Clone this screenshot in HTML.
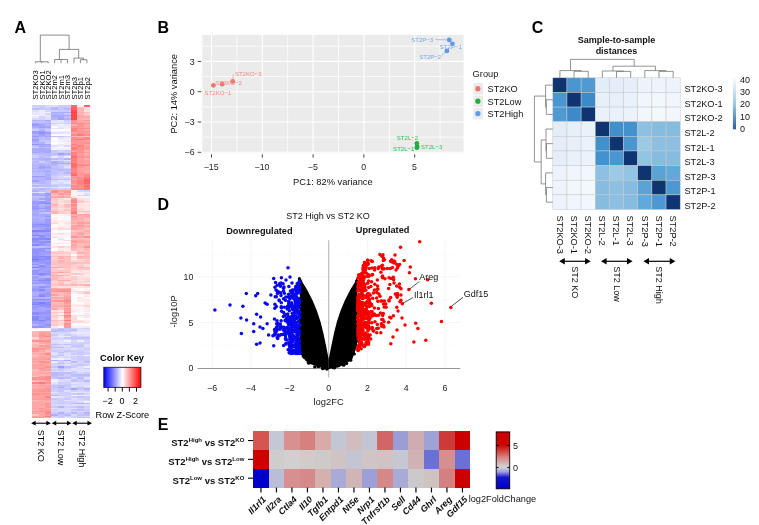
<!DOCTYPE html>
<html><head><meta charset="utf-8"><style>
html,body{margin:0;padding:0;background:#fff;width:759px;height:525px;overflow:hidden}
svg{display:block;font-family:"Liberation Sans", sans-serif;will-change:transform}
</style></head><body>
<svg width="759" height="525" viewBox="0 0 759 525">
<rect width="759" height="525" fill="#fff"/>
<text x="14.4" y="32.8" font-size="16" font-weight="bold" fill="#000">A</text>
<text x="157.6" y="33.3" font-size="16" font-weight="bold" fill="#000">B</text>
<text x="531.8" y="33.4" font-size="16" font-weight="bold" fill="#000">C</text>
<text x="157.6" y="210.4" font-size="16" font-weight="bold" fill="#000">D</text>
<text x="157.8" y="429.8" font-size="16" font-weight="bold" fill="#000">E</text>
<g filter="url(#blurA)" shape-rendering="crispEdges">
<rect x="32.1" y="105.1" width="6.49" height="1.65" fill="#d2d2ff"/>
<rect x="38.54" y="105.1" width="6.49" height="1.65" fill="#cdcdff"/>
<rect x="44.99" y="105.1" width="6.49" height="1.65" fill="#d7d7ff"/>
<rect x="51.43" y="105.1" width="6.49" height="1.65" fill="#dedeff"/>
<rect x="57.88" y="105.1" width="6.49" height="1.65" fill="#ccccff"/>
<rect x="64.32" y="105.1" width="6.49" height="1.65" fill="#cbcbff"/>
<rect x="70.77" y="105.1" width="6.49" height="1.65" fill="#ff6b6b"/>
<rect x="77.21" y="105.1" width="6.49" height="1.65" fill="#ffefef"/>
<rect x="83.66" y="105.1" width="6.49" height="1.65" fill="#ff6464"/>
<rect x="32.1" y="106.7" width="6.49" height="1.65" fill="#d5d5ff"/>
<rect x="38.54" y="106.7" width="6.49" height="1.65" fill="#c7c7ff"/>
<rect x="44.99" y="106.7" width="6.49" height="1.65" fill="#d3d3ff"/>
<rect x="51.43" y="106.7" width="6.49" height="1.65" fill="#b9b9ff"/>
<rect x="57.88" y="106.7" width="6.49" height="1.65" fill="#c8c8ff"/>
<rect x="64.32" y="106.7" width="6.49" height="1.65" fill="#c5c5ff"/>
<rect x="70.77" y="106.7" width="6.49" height="1.65" fill="#ff6161"/>
<rect x="77.21" y="106.7" width="6.49" height="1.65" fill="#ffc4c4"/>
<rect x="83.66" y="106.7" width="6.49" height="1.65" fill="#ffdddd"/>
<rect x="32.1" y="108.3" width="6.49" height="1.65" fill="#bdbdff"/>
<rect x="38.54" y="108.3" width="6.49" height="1.65" fill="#c7c7ff"/>
<rect x="44.99" y="108.3" width="6.49" height="1.65" fill="#c9c9ff"/>
<rect x="51.43" y="108.3" width="6.49" height="1.65" fill="#b3b3ff"/>
<rect x="57.88" y="108.3" width="6.49" height="1.65" fill="#c5c5ff"/>
<rect x="64.32" y="108.3" width="6.49" height="1.65" fill="#b9b9ff"/>
<rect x="70.77" y="108.3" width="6.49" height="1.65" fill="#ff5e5e"/>
<rect x="77.21" y="108.3" width="6.49" height="1.65" fill="#ffb7b7"/>
<rect x="83.66" y="108.3" width="6.49" height="1.65" fill="#ffdbdb"/>
<rect x="32.1" y="109.9" width="6.49" height="1.65" fill="#e0e0ff"/>
<rect x="38.54" y="109.9" width="6.49" height="1.65" fill="#ececff"/>
<rect x="44.99" y="109.9" width="6.49" height="1.65" fill="#d6d6ff"/>
<rect x="51.43" y="109.9" width="6.49" height="1.65" fill="#d1d1ff"/>
<rect x="57.88" y="109.9" width="6.49" height="1.65" fill="#cacaff"/>
<rect x="64.32" y="109.9" width="6.49" height="1.65" fill="#c9c9ff"/>
<rect x="70.77" y="109.9" width="6.49" height="1.65" fill="#ff4b4b"/>
<rect x="77.21" y="109.9" width="6.49" height="1.65" fill="#ffb8b8"/>
<rect x="83.66" y="109.9" width="6.49" height="1.65" fill="#ffe1e1"/>
<rect x="32.1" y="111.5" width="6.49" height="1.65" fill="#eaeaff"/>
<rect x="38.54" y="111.5" width="6.49" height="1.65" fill="#ebebff"/>
<rect x="44.99" y="111.5" width="6.49" height="1.65" fill="#f3f3ff"/>
<rect x="51.43" y="111.5" width="6.49" height="1.65" fill="#a9a9ff"/>
<rect x="57.88" y="111.5" width="6.49" height="1.65" fill="#adadff"/>
<rect x="64.32" y="111.5" width="6.49" height="1.65" fill="#adadff"/>
<rect x="70.77" y="111.5" width="6.49" height="1.65" fill="#ff3e3e"/>
<rect x="77.21" y="111.5" width="6.49" height="1.65" fill="#ffadad"/>
<rect x="83.66" y="111.5" width="6.49" height="1.65" fill="#ffbdbd"/>
<rect x="32.1" y="113.1" width="6.49" height="1.65" fill="#e5e5ff"/>
<rect x="38.54" y="113.1" width="6.49" height="1.65" fill="#ededff"/>
<rect x="44.99" y="113.1" width="6.49" height="1.65" fill="#d3d3ff"/>
<rect x="51.43" y="113.1" width="6.49" height="1.65" fill="#b7b7ff"/>
<rect x="57.88" y="113.1" width="6.49" height="1.65" fill="#b6b6ff"/>
<rect x="64.32" y="113.1" width="6.49" height="1.65" fill="#cacaff"/>
<rect x="70.77" y="113.1" width="6.49" height="1.65" fill="#ff4e4e"/>
<rect x="77.21" y="113.1" width="6.49" height="1.65" fill="#ffb9b9"/>
<rect x="83.66" y="113.1" width="6.49" height="1.65" fill="#ffd0d0"/>
<rect x="32.1" y="114.7" width="6.49" height="1.65" fill="#f6f6ff"/>
<rect x="38.54" y="114.7" width="6.49" height="1.65" fill="#ebebff"/>
<rect x="44.99" y="114.7" width="6.49" height="1.65" fill="#eaeaff"/>
<rect x="51.43" y="114.7" width="6.49" height="1.65" fill="#a1a1ff"/>
<rect x="57.88" y="114.7" width="6.49" height="1.65" fill="#a7a7ff"/>
<rect x="64.32" y="114.7" width="6.49" height="1.65" fill="#a9a9ff"/>
<rect x="70.77" y="114.7" width="6.49" height="1.65" fill="#ff4040"/>
<rect x="77.21" y="114.7" width="6.49" height="1.65" fill="#ffa6a6"/>
<rect x="83.66" y="114.7" width="6.49" height="1.65" fill="#ffc3c3"/>
<rect x="32.1" y="116.3" width="6.49" height="1.65" fill="#ebebff"/>
<rect x="38.54" y="116.3" width="6.49" height="1.65" fill="#d2d2ff"/>
<rect x="44.99" y="116.3" width="6.49" height="1.65" fill="#e2e2ff"/>
<rect x="51.43" y="116.3" width="6.49" height="1.65" fill="#aeaeff"/>
<rect x="57.88" y="116.3" width="6.49" height="1.65" fill="#a7a7ff"/>
<rect x="64.32" y="116.3" width="6.49" height="1.65" fill="#bebeff"/>
<rect x="70.77" y="116.3" width="6.49" height="1.65" fill="#ff4c4c"/>
<rect x="77.21" y="116.3" width="6.49" height="1.65" fill="#ffa3a3"/>
<rect x="83.66" y="116.3" width="6.49" height="1.65" fill="#ffa5a5"/>
<rect x="32.1" y="117.9" width="6.49" height="1.65" fill="#d9d9ff"/>
<rect x="38.54" y="117.9" width="6.49" height="1.65" fill="#d2d2ff"/>
<rect x="44.99" y="117.9" width="6.49" height="1.65" fill="#dbdbff"/>
<rect x="51.43" y="117.9" width="6.49" height="1.65" fill="#b4b4ff"/>
<rect x="57.88" y="117.9" width="6.49" height="1.65" fill="#a0a0ff"/>
<rect x="64.32" y="117.9" width="6.49" height="1.65" fill="#b0b0ff"/>
<rect x="70.77" y="117.9" width="6.49" height="1.65" fill="#ff4646"/>
<rect x="77.21" y="117.9" width="6.49" height="1.65" fill="#ffb2b2"/>
<rect x="83.66" y="117.9" width="6.49" height="1.65" fill="#ffbbbb"/>
<rect x="32.1" y="119.5" width="6.49" height="1.65" fill="#b0b0ff"/>
<rect x="38.54" y="119.5" width="6.49" height="1.65" fill="#b5b5ff"/>
<rect x="44.99" y="119.5" width="6.49" height="1.65" fill="#a9a9ff"/>
<rect x="51.43" y="119.5" width="6.49" height="1.65" fill="#dcdcff"/>
<rect x="57.88" y="119.5" width="6.49" height="1.65" fill="#eaeaff"/>
<rect x="64.32" y="119.5" width="6.49" height="1.65" fill="#cdcdff"/>
<rect x="70.77" y="119.5" width="6.49" height="1.65" fill="#ff8a8a"/>
<rect x="77.21" y="119.5" width="6.49" height="1.65" fill="#ffa3a3"/>
<rect x="83.66" y="119.5" width="6.49" height="1.65" fill="#ff9696"/>
<rect x="32.1" y="121.1" width="6.49" height="1.65" fill="#c0c0ff"/>
<rect x="38.54" y="121.1" width="6.49" height="1.65" fill="#c2c2ff"/>
<rect x="44.99" y="121.1" width="6.49" height="1.65" fill="#babaff"/>
<rect x="51.43" y="121.1" width="6.49" height="1.65" fill="#e3e3ff"/>
<rect x="57.88" y="121.1" width="6.49" height="1.65" fill="#e4e4ff"/>
<rect x="64.32" y="121.1" width="6.49" height="1.65" fill="#d8d8ff"/>
<rect x="70.77" y="121.1" width="6.49" height="1.65" fill="#ff9797"/>
<rect x="77.21" y="121.1" width="6.49" height="1.65" fill="#ffa7a7"/>
<rect x="83.66" y="121.1" width="6.49" height="1.65" fill="#ffadad"/>
<rect x="32.1" y="122.7" width="6.49" height="1.65" fill="#a5a5ff"/>
<rect x="38.54" y="122.7" width="6.49" height="1.65" fill="#b0b0ff"/>
<rect x="44.99" y="122.7" width="6.49" height="1.65" fill="#adadff"/>
<rect x="51.43" y="122.7" width="6.49" height="1.65" fill="#d2d2ff"/>
<rect x="57.88" y="122.7" width="6.49" height="1.65" fill="#d5d5ff"/>
<rect x="64.32" y="122.7" width="6.49" height="1.65" fill="#cfcfff"/>
<rect x="70.77" y="122.7" width="6.49" height="1.65" fill="#ff8686"/>
<rect x="77.21" y="122.7" width="6.49" height="1.65" fill="#ff8a8a"/>
<rect x="83.66" y="122.7" width="6.49" height="1.65" fill="#ff9494"/>
<rect x="32.1" y="124.3" width="6.49" height="1.65" fill="#9797ff"/>
<rect x="38.54" y="124.3" width="6.49" height="1.65" fill="#a5a5ff"/>
<rect x="44.99" y="124.3" width="6.49" height="1.65" fill="#b6b6ff"/>
<rect x="51.43" y="124.3" width="6.49" height="1.65" fill="#e4e4ff"/>
<rect x="57.88" y="124.3" width="6.49" height="1.65" fill="#f0f0ff"/>
<rect x="64.32" y="124.3" width="6.49" height="1.65" fill="#e7e7ff"/>
<rect x="70.77" y="124.3" width="6.49" height="1.65" fill="#ffadad"/>
<rect x="77.21" y="124.3" width="6.49" height="1.65" fill="#ff9595"/>
<rect x="83.66" y="124.3" width="6.49" height="1.65" fill="#ffa7a7"/>
<rect x="32.1" y="125.9" width="6.49" height="1.65" fill="#a9a9ff"/>
<rect x="38.54" y="125.9" width="6.49" height="1.65" fill="#9f9fff"/>
<rect x="44.99" y="125.9" width="6.49" height="1.65" fill="#a5a5ff"/>
<rect x="51.43" y="125.9" width="6.49" height="1.65" fill="#fbfbff"/>
<rect x="57.88" y="125.9" width="6.49" height="1.65" fill="#e9e9ff"/>
<rect x="64.32" y="125.9" width="6.49" height="1.65" fill="#ededff"/>
<rect x="70.77" y="125.9" width="6.49" height="1.65" fill="#ff9393"/>
<rect x="77.21" y="125.9" width="6.49" height="1.65" fill="#ff9797"/>
<rect x="83.66" y="125.9" width="6.49" height="1.65" fill="#ffa3a3"/>
<rect x="32.1" y="127.5" width="6.49" height="1.65" fill="#bdbdff"/>
<rect x="38.54" y="127.5" width="6.49" height="1.65" fill="#b8b8ff"/>
<rect x="44.99" y="127.5" width="6.49" height="1.65" fill="#bcbcff"/>
<rect x="51.43" y="127.5" width="6.49" height="1.65" fill="#e6e6ff"/>
<rect x="57.88" y="127.5" width="6.49" height="1.65" fill="#dedeff"/>
<rect x="64.32" y="127.5" width="6.49" height="1.65" fill="#f0f0ff"/>
<rect x="70.77" y="127.5" width="6.49" height="1.65" fill="#ff8181"/>
<rect x="77.21" y="127.5" width="6.49" height="1.65" fill="#ff8c8c"/>
<rect x="83.66" y="127.5" width="6.49" height="1.65" fill="#ff9090"/>
<rect x="32.1" y="129.1" width="6.49" height="1.65" fill="#ccccff"/>
<rect x="38.54" y="129.1" width="6.49" height="1.65" fill="#b1b1ff"/>
<rect x="44.99" y="129.1" width="6.49" height="1.65" fill="#ccccff"/>
<rect x="51.43" y="129.1" width="6.49" height="1.65" fill="#fbfbff"/>
<rect x="57.88" y="129.1" width="6.49" height="1.65" fill="#ffffff"/>
<rect x="64.32" y="129.1" width="6.49" height="1.65" fill="#fff9f9"/>
<rect x="70.77" y="129.1" width="6.49" height="1.65" fill="#ff8080"/>
<rect x="77.21" y="129.1" width="6.49" height="1.65" fill="#ff9a9a"/>
<rect x="83.66" y="129.1" width="6.49" height="1.65" fill="#ffaaaa"/>
<rect x="32.1" y="130.7" width="6.49" height="1.65" fill="#9b9bff"/>
<rect x="38.54" y="130.7" width="6.49" height="1.65" fill="#9797ff"/>
<rect x="44.99" y="130.7" width="6.49" height="1.65" fill="#b5b5ff"/>
<rect x="51.43" y="130.7" width="6.49" height="1.65" fill="#eeeeff"/>
<rect x="57.88" y="130.7" width="6.49" height="1.65" fill="#ebebff"/>
<rect x="64.32" y="130.7" width="6.49" height="1.65" fill="#eaeaff"/>
<rect x="70.77" y="130.7" width="6.49" height="1.65" fill="#ff8a8a"/>
<rect x="77.21" y="130.7" width="6.49" height="1.65" fill="#ff9090"/>
<rect x="83.66" y="130.7" width="6.49" height="1.65" fill="#ff8e8e"/>
<rect x="32.1" y="132.3" width="6.49" height="1.65" fill="#a0a0ff"/>
<rect x="38.54" y="132.3" width="6.49" height="1.65" fill="#9292ff"/>
<rect x="44.99" y="132.3" width="6.49" height="1.65" fill="#9c9cff"/>
<rect x="51.43" y="132.3" width="6.49" height="1.65" fill="#dfdfff"/>
<rect x="57.88" y="132.3" width="6.49" height="1.65" fill="#e0e0ff"/>
<rect x="64.32" y="132.3" width="6.49" height="1.65" fill="#e7e7ff"/>
<rect x="70.77" y="132.3" width="6.49" height="1.65" fill="#ff9c9c"/>
<rect x="77.21" y="132.3" width="6.49" height="1.65" fill="#ff9191"/>
<rect x="83.66" y="132.3" width="6.49" height="1.65" fill="#ff9c9c"/>
<rect x="32.1" y="133.9" width="6.49" height="1.65" fill="#aeaeff"/>
<rect x="38.54" y="133.9" width="6.49" height="1.65" fill="#a0a0ff"/>
<rect x="44.99" y="133.9" width="6.49" height="1.65" fill="#b0b0ff"/>
<rect x="51.43" y="133.9" width="6.49" height="1.65" fill="#fffafa"/>
<rect x="57.88" y="133.9" width="6.49" height="1.65" fill="#fcfcff"/>
<rect x="64.32" y="133.9" width="6.49" height="1.65" fill="#f9f9ff"/>
<rect x="70.77" y="133.9" width="6.49" height="1.65" fill="#ff8787"/>
<rect x="77.21" y="133.9" width="6.49" height="1.65" fill="#ff7979"/>
<rect x="83.66" y="133.9" width="6.49" height="1.65" fill="#ff8f8f"/>
<rect x="32.1" y="135.5" width="6.49" height="1.65" fill="#9999ff"/>
<rect x="38.54" y="135.5" width="6.49" height="1.65" fill="#ababff"/>
<rect x="44.99" y="135.5" width="6.49" height="1.65" fill="#a5a5ff"/>
<rect x="51.43" y="135.5" width="6.49" height="1.65" fill="#bfbfff"/>
<rect x="57.88" y="135.5" width="6.49" height="1.65" fill="#c1c1ff"/>
<rect x="64.32" y="135.5" width="6.49" height="1.65" fill="#d1d1ff"/>
<rect x="70.77" y="135.5" width="6.49" height="1.65" fill="#ffb8b8"/>
<rect x="77.21" y="135.5" width="6.49" height="1.65" fill="#ffb9b9"/>
<rect x="83.66" y="135.5" width="6.49" height="1.65" fill="#ffc5c5"/>
<rect x="32.1" y="137.1" width="6.49" height="1.65" fill="#afafff"/>
<rect x="38.54" y="137.1" width="6.49" height="1.65" fill="#bebeff"/>
<rect x="44.99" y="137.1" width="6.49" height="1.65" fill="#b9b9ff"/>
<rect x="51.43" y="137.1" width="6.49" height="1.65" fill="#fafaff"/>
<rect x="57.88" y="137.1" width="6.49" height="1.65" fill="#e3e3ff"/>
<rect x="64.32" y="137.1" width="6.49" height="1.65" fill="#e9e9ff"/>
<rect x="70.77" y="137.1" width="6.49" height="1.65" fill="#ff8c8c"/>
<rect x="77.21" y="137.1" width="6.49" height="1.65" fill="#ff9999"/>
<rect x="83.66" y="137.1" width="6.49" height="1.65" fill="#ff8686"/>
<rect x="32.1" y="138.7" width="6.49" height="1.65" fill="#9b9bff"/>
<rect x="38.54" y="138.7" width="6.49" height="1.65" fill="#b7b7ff"/>
<rect x="44.99" y="138.7" width="6.49" height="1.65" fill="#babaff"/>
<rect x="51.43" y="138.7" width="6.49" height="1.65" fill="#fafaff"/>
<rect x="57.88" y="138.7" width="6.49" height="1.65" fill="#eeeeff"/>
<rect x="64.32" y="138.7" width="6.49" height="1.65" fill="#f2f2ff"/>
<rect x="70.77" y="138.7" width="6.49" height="1.65" fill="#ff8484"/>
<rect x="77.21" y="138.7" width="6.49" height="1.65" fill="#ff7777"/>
<rect x="83.66" y="138.7" width="6.49" height="1.65" fill="#ff8a8a"/>
<rect x="32.1" y="140.3" width="6.49" height="1.65" fill="#a5a5ff"/>
<rect x="38.54" y="140.3" width="6.49" height="1.65" fill="#c6c6ff"/>
<rect x="44.99" y="140.3" width="6.49" height="1.65" fill="#c7c7ff"/>
<rect x="51.43" y="140.3" width="6.49" height="1.65" fill="#f8f8ff"/>
<rect x="57.88" y="140.3" width="6.49" height="1.65" fill="#f3f3ff"/>
<rect x="64.32" y="140.3" width="6.49" height="1.65" fill="#e9e9ff"/>
<rect x="70.77" y="140.3" width="6.49" height="1.65" fill="#ff9090"/>
<rect x="77.21" y="140.3" width="6.49" height="1.65" fill="#ff9999"/>
<rect x="83.66" y="140.3" width="6.49" height="1.65" fill="#ff9f9f"/>
<rect x="32.1" y="141.9" width="6.49" height="1.65" fill="#b2b2ff"/>
<rect x="38.54" y="141.9" width="6.49" height="1.65" fill="#b1b1ff"/>
<rect x="44.99" y="141.9" width="6.49" height="1.65" fill="#cdcdff"/>
<rect x="51.43" y="141.9" width="6.49" height="1.65" fill="#ffffff"/>
<rect x="57.88" y="141.9" width="6.49" height="1.65" fill="#f8f8ff"/>
<rect x="64.32" y="141.9" width="6.49" height="1.65" fill="#f0f0ff"/>
<rect x="70.77" y="141.9" width="6.49" height="1.65" fill="#ff9999"/>
<rect x="77.21" y="141.9" width="6.49" height="1.65" fill="#ff9494"/>
<rect x="83.66" y="141.9" width="6.49" height="1.65" fill="#ff9191"/>
<rect x="32.1" y="143.5" width="6.49" height="1.65" fill="#9494ff"/>
<rect x="38.54" y="143.5" width="6.49" height="1.65" fill="#a2a2ff"/>
<rect x="44.99" y="143.5" width="6.49" height="1.65" fill="#a2a2ff"/>
<rect x="51.43" y="143.5" width="6.49" height="1.65" fill="#f9f9ff"/>
<rect x="57.88" y="143.5" width="6.49" height="1.65" fill="#e6e6ff"/>
<rect x="64.32" y="143.5" width="6.49" height="1.65" fill="#efefff"/>
<rect x="70.77" y="143.5" width="6.49" height="1.65" fill="#ff8080"/>
<rect x="77.21" y="143.5" width="6.49" height="1.65" fill="#ff9797"/>
<rect x="83.66" y="143.5" width="6.49" height="1.65" fill="#ffa0a0"/>
<rect x="32.1" y="145.1" width="6.49" height="1.65" fill="#bdbdff"/>
<rect x="38.54" y="145.1" width="6.49" height="1.65" fill="#a7a7ff"/>
<rect x="44.99" y="145.1" width="6.49" height="1.65" fill="#aeaeff"/>
<rect x="51.43" y="145.1" width="6.49" height="1.65" fill="#e1e1ff"/>
<rect x="57.88" y="145.1" width="6.49" height="1.65" fill="#ececff"/>
<rect x="64.32" y="145.1" width="6.49" height="1.65" fill="#d9d9ff"/>
<rect x="70.77" y="145.1" width="6.49" height="1.65" fill="#ff9494"/>
<rect x="77.21" y="145.1" width="6.49" height="1.65" fill="#ff8181"/>
<rect x="83.66" y="145.1" width="6.49" height="1.65" fill="#ff9c9c"/>
<rect x="32.1" y="146.7" width="6.49" height="1.65" fill="#d0d0ff"/>
<rect x="38.54" y="146.7" width="6.49" height="1.65" fill="#bbbbff"/>
<rect x="44.99" y="146.7" width="6.49" height="1.65" fill="#bebeff"/>
<rect x="51.43" y="146.7" width="6.49" height="1.65" fill="#efefff"/>
<rect x="57.88" y="146.7" width="6.49" height="1.65" fill="#fbfbff"/>
<rect x="64.32" y="146.7" width="6.49" height="1.65" fill="#fffafa"/>
<rect x="70.77" y="146.7" width="6.49" height="1.65" fill="#ff7a7a"/>
<rect x="77.21" y="146.7" width="6.49" height="1.65" fill="#ff9191"/>
<rect x="83.66" y="146.7" width="6.49" height="1.65" fill="#ff9696"/>
<rect x="32.1" y="148.3" width="6.49" height="1.65" fill="#ababff"/>
<rect x="38.54" y="148.3" width="6.49" height="1.65" fill="#a6a6ff"/>
<rect x="44.99" y="148.3" width="6.49" height="1.65" fill="#afafff"/>
<rect x="51.43" y="148.3" width="6.49" height="1.65" fill="#f1f1ff"/>
<rect x="57.88" y="148.3" width="6.49" height="1.65" fill="#ececff"/>
<rect x="64.32" y="148.3" width="6.49" height="1.65" fill="#eeeeff"/>
<rect x="70.77" y="148.3" width="6.49" height="1.65" fill="#ff7d7d"/>
<rect x="77.21" y="148.3" width="6.49" height="1.65" fill="#ff8d8d"/>
<rect x="83.66" y="148.3" width="6.49" height="1.65" fill="#ff9999"/>
<rect x="32.1" y="149.9" width="6.49" height="1.65" fill="#ababff"/>
<rect x="38.54" y="149.9" width="6.49" height="1.65" fill="#aaaaff"/>
<rect x="44.99" y="149.9" width="6.49" height="1.65" fill="#a8a8ff"/>
<rect x="51.43" y="149.9" width="6.49" height="1.65" fill="#c7c7ff"/>
<rect x="57.88" y="149.9" width="6.49" height="1.65" fill="#d2d2ff"/>
<rect x="64.32" y="149.9" width="6.49" height="1.65" fill="#cbcbff"/>
<rect x="70.77" y="149.9" width="6.49" height="1.65" fill="#ff9f9f"/>
<rect x="77.21" y="149.9" width="6.49" height="1.65" fill="#ff9393"/>
<rect x="83.66" y="149.9" width="6.49" height="1.65" fill="#ffaeae"/>
<rect x="32.1" y="151.5" width="6.49" height="1.65" fill="#a3a3ff"/>
<rect x="38.54" y="151.5" width="6.49" height="1.65" fill="#afafff"/>
<rect x="44.99" y="151.5" width="6.49" height="1.65" fill="#a3a3ff"/>
<rect x="51.43" y="151.5" width="6.49" height="1.65" fill="#c8c8ff"/>
<rect x="57.88" y="151.5" width="6.49" height="1.65" fill="#c8c8ff"/>
<rect x="64.32" y="151.5" width="6.49" height="1.65" fill="#ccccff"/>
<rect x="70.77" y="151.5" width="6.49" height="1.65" fill="#ff7f7f"/>
<rect x="77.21" y="151.5" width="6.49" height="1.65" fill="#ff8f8f"/>
<rect x="83.66" y="151.5" width="6.49" height="1.65" fill="#ffa0a0"/>
<rect x="32.1" y="153.1" width="6.49" height="1.65" fill="#c0c0ff"/>
<rect x="38.54" y="153.1" width="6.49" height="1.65" fill="#b7b7ff"/>
<rect x="44.99" y="153.1" width="6.49" height="1.65" fill="#bbbbff"/>
<rect x="51.43" y="153.1" width="6.49" height="1.65" fill="#bdbdff"/>
<rect x="57.88" y="153.1" width="6.49" height="1.65" fill="#a3a3ff"/>
<rect x="64.32" y="153.1" width="6.49" height="1.65" fill="#b0b0ff"/>
<rect x="70.77" y="153.1" width="6.49" height="1.65" fill="#ff8383"/>
<rect x="77.21" y="153.1" width="6.49" height="1.65" fill="#ff9b9b"/>
<rect x="83.66" y="153.1" width="6.49" height="1.65" fill="#ffadad"/>
<rect x="32.1" y="154.7" width="6.49" height="1.65" fill="#cdcdff"/>
<rect x="38.54" y="154.7" width="6.49" height="1.65" fill="#cacaff"/>
<rect x="44.99" y="154.7" width="6.49" height="1.65" fill="#b3b3ff"/>
<rect x="51.43" y="154.7" width="6.49" height="1.65" fill="#c9c9ff"/>
<rect x="57.88" y="154.7" width="6.49" height="1.65" fill="#c2c2ff"/>
<rect x="64.32" y="154.7" width="6.49" height="1.65" fill="#cdcdff"/>
<rect x="70.77" y="154.7" width="6.49" height="1.65" fill="#ff7c7c"/>
<rect x="77.21" y="154.7" width="6.49" height="1.65" fill="#ff9595"/>
<rect x="83.66" y="154.7" width="6.49" height="1.65" fill="#ffa8a8"/>
<rect x="32.1" y="156.3" width="6.49" height="1.65" fill="#ccccff"/>
<rect x="38.54" y="156.3" width="6.49" height="1.65" fill="#babaff"/>
<rect x="44.99" y="156.3" width="6.49" height="1.65" fill="#c6c6ff"/>
<rect x="51.43" y="156.3" width="6.49" height="1.65" fill="#e9e9ff"/>
<rect x="57.88" y="156.3" width="6.49" height="1.65" fill="#d3d3ff"/>
<rect x="64.32" y="156.3" width="6.49" height="1.65" fill="#eeeeff"/>
<rect x="70.77" y="156.3" width="6.49" height="1.65" fill="#ff6a6a"/>
<rect x="77.21" y="156.3" width="6.49" height="1.65" fill="#ff9191"/>
<rect x="83.66" y="156.3" width="6.49" height="1.65" fill="#ff9797"/>
<rect x="32.1" y="157.9" width="6.49" height="1.65" fill="#b8b8ff"/>
<rect x="38.54" y="157.9" width="6.49" height="1.65" fill="#b1b1ff"/>
<rect x="44.99" y="157.9" width="6.49" height="1.65" fill="#aeaeff"/>
<rect x="51.43" y="157.9" width="6.49" height="1.65" fill="#babaff"/>
<rect x="57.88" y="157.9" width="6.49" height="1.65" fill="#c3c3ff"/>
<rect x="64.32" y="157.9" width="6.49" height="1.65" fill="#b0b0ff"/>
<rect x="70.77" y="157.9" width="6.49" height="1.65" fill="#ff7f7f"/>
<rect x="77.21" y="157.9" width="6.49" height="1.65" fill="#ff9f9f"/>
<rect x="83.66" y="157.9" width="6.49" height="1.65" fill="#ffadad"/>
<rect x="32.1" y="159.5" width="6.49" height="1.65" fill="#c1c1ff"/>
<rect x="38.54" y="159.5" width="6.49" height="1.65" fill="#bbbbff"/>
<rect x="44.99" y="159.5" width="6.49" height="1.65" fill="#b6b6ff"/>
<rect x="51.43" y="159.5" width="6.49" height="1.65" fill="#dbdbff"/>
<rect x="57.88" y="159.5" width="6.49" height="1.65" fill="#d4d4ff"/>
<rect x="64.32" y="159.5" width="6.49" height="1.65" fill="#e0e0ff"/>
<rect x="70.77" y="159.5" width="6.49" height="1.65" fill="#ff7878"/>
<rect x="77.21" y="159.5" width="6.49" height="1.65" fill="#ff9c9c"/>
<rect x="83.66" y="159.5" width="6.49" height="1.65" fill="#ff9d9d"/>
<rect x="32.1" y="161.1" width="6.49" height="1.65" fill="#b7b7ff"/>
<rect x="38.54" y="161.1" width="6.49" height="1.65" fill="#ceceff"/>
<rect x="44.99" y="161.1" width="6.49" height="1.65" fill="#bdbdff"/>
<rect x="51.43" y="161.1" width="6.49" height="1.65" fill="#a8a8ff"/>
<rect x="57.88" y="161.1" width="6.49" height="1.65" fill="#b9b9ff"/>
<rect x="64.32" y="161.1" width="6.49" height="1.65" fill="#c9c9ff"/>
<rect x="70.77" y="161.1" width="6.49" height="1.65" fill="#ff8383"/>
<rect x="77.21" y="161.1" width="6.49" height="1.65" fill="#ff9999"/>
<rect x="83.66" y="161.1" width="6.49" height="1.65" fill="#ffa0a0"/>
<rect x="32.1" y="162.7" width="6.49" height="1.65" fill="#c1c1ff"/>
<rect x="38.54" y="162.7" width="6.49" height="1.65" fill="#b4b4ff"/>
<rect x="44.99" y="162.7" width="6.49" height="1.65" fill="#c0c0ff"/>
<rect x="51.43" y="162.7" width="6.49" height="1.65" fill="#ababff"/>
<rect x="57.88" y="162.7" width="6.49" height="1.65" fill="#a8a8ff"/>
<rect x="64.32" y="162.7" width="6.49" height="1.65" fill="#a7a7ff"/>
<rect x="70.77" y="162.7" width="6.49" height="1.65" fill="#ff6f6f"/>
<rect x="77.21" y="162.7" width="6.49" height="1.65" fill="#ff9f9f"/>
<rect x="83.66" y="162.7" width="6.49" height="1.65" fill="#ffa4a4"/>
<rect x="32.1" y="164.3" width="6.49" height="1.65" fill="#b5b5ff"/>
<rect x="38.54" y="164.3" width="6.49" height="1.65" fill="#b0b0ff"/>
<rect x="44.99" y="164.3" width="6.49" height="1.65" fill="#b5b5ff"/>
<rect x="51.43" y="164.3" width="6.49" height="1.65" fill="#b6b6ff"/>
<rect x="57.88" y="164.3" width="6.49" height="1.65" fill="#cacaff"/>
<rect x="64.32" y="164.3" width="6.49" height="1.65" fill="#cfcfff"/>
<rect x="70.77" y="164.3" width="6.49" height="1.65" fill="#ff6b6b"/>
<rect x="77.21" y="164.3" width="6.49" height="1.65" fill="#ff8989"/>
<rect x="83.66" y="164.3" width="6.49" height="1.65" fill="#ff8a8a"/>
<rect x="32.1" y="165.9" width="6.49" height="1.65" fill="#b4b4ff"/>
<rect x="38.54" y="165.9" width="6.49" height="1.65" fill="#9f9fff"/>
<rect x="44.99" y="165.9" width="6.49" height="1.65" fill="#a7a7ff"/>
<rect x="51.43" y="165.9" width="6.49" height="1.65" fill="#c0c0ff"/>
<rect x="57.88" y="165.9" width="6.49" height="1.65" fill="#c5c5ff"/>
<rect x="64.32" y="165.9" width="6.49" height="1.65" fill="#e1e1ff"/>
<rect x="70.77" y="165.9" width="6.49" height="1.65" fill="#ff6f6f"/>
<rect x="77.21" y="165.9" width="6.49" height="1.65" fill="#ff9595"/>
<rect x="83.66" y="165.9" width="6.49" height="1.65" fill="#ffa5a5"/>
<rect x="32.1" y="167.5" width="6.49" height="1.65" fill="#afafff"/>
<rect x="38.54" y="167.5" width="6.49" height="1.65" fill="#a5a5ff"/>
<rect x="44.99" y="167.5" width="6.49" height="1.65" fill="#afafff"/>
<rect x="51.43" y="167.5" width="6.49" height="1.65" fill="#b7b7ff"/>
<rect x="57.88" y="167.5" width="6.49" height="1.65" fill="#c4c4ff"/>
<rect x="64.32" y="167.5" width="6.49" height="1.65" fill="#ceceff"/>
<rect x="70.77" y="167.5" width="6.49" height="1.65" fill="#ff8181"/>
<rect x="77.21" y="167.5" width="6.49" height="1.65" fill="#ffa1a1"/>
<rect x="83.66" y="167.5" width="6.49" height="1.65" fill="#ffa5a5"/>
<rect x="32.1" y="169.1" width="6.49" height="1.65" fill="#b9b9ff"/>
<rect x="38.54" y="169.1" width="6.49" height="1.65" fill="#b2b2ff"/>
<rect x="44.99" y="169.1" width="6.49" height="1.65" fill="#b6b6ff"/>
<rect x="51.43" y="169.1" width="6.49" height="1.65" fill="#bdbdff"/>
<rect x="57.88" y="169.1" width="6.49" height="1.65" fill="#b7b7ff"/>
<rect x="64.32" y="169.1" width="6.49" height="1.65" fill="#babaff"/>
<rect x="70.77" y="169.1" width="6.49" height="1.65" fill="#ff8484"/>
<rect x="77.21" y="169.1" width="6.49" height="1.65" fill="#ffa1a1"/>
<rect x="83.66" y="169.1" width="6.49" height="1.65" fill="#ffa4a4"/>
<rect x="32.1" y="170.7" width="6.49" height="1.65" fill="#ababff"/>
<rect x="38.54" y="170.7" width="6.49" height="1.65" fill="#aeaeff"/>
<rect x="44.99" y="170.7" width="6.49" height="1.65" fill="#9c9cff"/>
<rect x="51.43" y="170.7" width="6.49" height="1.65" fill="#c4c4ff"/>
<rect x="57.88" y="170.7" width="6.49" height="1.65" fill="#c4c4ff"/>
<rect x="64.32" y="170.7" width="6.49" height="1.65" fill="#c6c6ff"/>
<rect x="70.77" y="170.7" width="6.49" height="1.65" fill="#ff8686"/>
<rect x="77.21" y="170.7" width="6.49" height="1.65" fill="#ff9f9f"/>
<rect x="83.66" y="170.7" width="6.49" height="1.65" fill="#ffb0b0"/>
<rect x="32.1" y="172.3" width="6.49" height="1.65" fill="#b9b9ff"/>
<rect x="38.54" y="172.3" width="6.49" height="1.65" fill="#b9b9ff"/>
<rect x="44.99" y="172.3" width="6.49" height="1.65" fill="#b6b6ff"/>
<rect x="51.43" y="172.3" width="6.49" height="1.65" fill="#bdbdff"/>
<rect x="57.88" y="172.3" width="6.49" height="1.65" fill="#c7c7ff"/>
<rect x="64.32" y="172.3" width="6.49" height="1.65" fill="#b6b6ff"/>
<rect x="70.77" y="172.3" width="6.49" height="1.65" fill="#ff7d7d"/>
<rect x="77.21" y="172.3" width="6.49" height="1.65" fill="#ff9999"/>
<rect x="83.66" y="172.3" width="6.49" height="1.65" fill="#ffa4a4"/>
<rect x="32.1" y="173.9" width="6.49" height="1.65" fill="#bebeff"/>
<rect x="38.54" y="173.9" width="6.49" height="1.65" fill="#bcbcff"/>
<rect x="44.99" y="173.9" width="6.49" height="1.65" fill="#ababff"/>
<rect x="51.43" y="173.9" width="6.49" height="1.65" fill="#c7c7ff"/>
<rect x="57.88" y="173.9" width="6.49" height="1.65" fill="#cdcdff"/>
<rect x="64.32" y="173.9" width="6.49" height="1.65" fill="#d0d0ff"/>
<rect x="70.77" y="173.9" width="6.49" height="1.65" fill="#ff6a6a"/>
<rect x="77.21" y="173.9" width="6.49" height="1.65" fill="#ff9595"/>
<rect x="83.66" y="173.9" width="6.49" height="1.65" fill="#ff8888"/>
<rect x="32.1" y="175.5" width="6.49" height="1.65" fill="#9898ff"/>
<rect x="38.54" y="175.5" width="6.49" height="1.65" fill="#9a9aff"/>
<rect x="44.99" y="175.5" width="6.49" height="1.65" fill="#b1b1ff"/>
<rect x="51.43" y="175.5" width="6.49" height="1.65" fill="#cfcfff"/>
<rect x="57.88" y="175.5" width="6.49" height="1.65" fill="#d9d9ff"/>
<rect x="64.32" y="175.5" width="6.49" height="1.65" fill="#e8e8ff"/>
<rect x="70.77" y="175.5" width="6.49" height="1.65" fill="#ff9999"/>
<rect x="77.21" y="175.5" width="6.49" height="1.65" fill="#ff9f9f"/>
<rect x="83.66" y="175.5" width="6.49" height="1.65" fill="#ff8686"/>
<rect x="32.1" y="177.1" width="6.49" height="1.65" fill="#b1b1ff"/>
<rect x="38.54" y="177.1" width="6.49" height="1.65" fill="#b6b6ff"/>
<rect x="44.99" y="177.1" width="6.49" height="1.65" fill="#a9a9ff"/>
<rect x="51.43" y="177.1" width="6.49" height="1.65" fill="#ccccff"/>
<rect x="57.88" y="177.1" width="6.49" height="1.65" fill="#d8d8ff"/>
<rect x="64.32" y="177.1" width="6.49" height="1.65" fill="#d7d7ff"/>
<rect x="70.77" y="177.1" width="6.49" height="1.65" fill="#ff9292"/>
<rect x="77.21" y="177.1" width="6.49" height="1.65" fill="#ff8d8d"/>
<rect x="83.66" y="177.1" width="6.49" height="1.65" fill="#ff7a7a"/>
<rect x="32.1" y="178.7" width="6.49" height="1.65" fill="#b6b6ff"/>
<rect x="38.54" y="178.7" width="6.49" height="1.65" fill="#b5b5ff"/>
<rect x="44.99" y="178.7" width="6.49" height="1.65" fill="#a6a6ff"/>
<rect x="51.43" y="178.7" width="6.49" height="1.65" fill="#bebeff"/>
<rect x="57.88" y="178.7" width="6.49" height="1.65" fill="#c0c0ff"/>
<rect x="64.32" y="178.7" width="6.49" height="1.65" fill="#bdbdff"/>
<rect x="70.77" y="178.7" width="6.49" height="1.65" fill="#ffa7a7"/>
<rect x="77.21" y="178.7" width="6.49" height="1.65" fill="#ff8a8a"/>
<rect x="83.66" y="178.7" width="6.49" height="1.65" fill="#ff6464"/>
<rect x="32.1" y="180.3" width="6.49" height="1.65" fill="#9f9fff"/>
<rect x="38.54" y="180.3" width="6.49" height="1.65" fill="#b5b5ff"/>
<rect x="44.99" y="180.3" width="6.49" height="1.65" fill="#bfbfff"/>
<rect x="51.43" y="180.3" width="6.49" height="1.65" fill="#d8d8ff"/>
<rect x="57.88" y="180.3" width="6.49" height="1.65" fill="#e6e6ff"/>
<rect x="64.32" y="180.3" width="6.49" height="1.65" fill="#e1e1ff"/>
<rect x="70.77" y="180.3" width="6.49" height="1.65" fill="#ff8d8d"/>
<rect x="77.21" y="180.3" width="6.49" height="1.65" fill="#ff8282"/>
<rect x="83.66" y="180.3" width="6.49" height="1.65" fill="#ff6363"/>
<rect x="32.1" y="181.9" width="6.49" height="1.65" fill="#b9b9ff"/>
<rect x="38.54" y="181.9" width="6.49" height="1.65" fill="#b6b6ff"/>
<rect x="44.99" y="181.9" width="6.49" height="1.65" fill="#bdbdff"/>
<rect x="51.43" y="181.9" width="6.49" height="1.65" fill="#e2e2ff"/>
<rect x="57.88" y="181.9" width="6.49" height="1.65" fill="#d9d9ff"/>
<rect x="64.32" y="181.9" width="6.49" height="1.65" fill="#e8e8ff"/>
<rect x="70.77" y="181.9" width="6.49" height="1.65" fill="#ff9292"/>
<rect x="77.21" y="181.9" width="6.49" height="1.65" fill="#ff8080"/>
<rect x="83.66" y="181.9" width="6.49" height="1.65" fill="#ff6666"/>
<rect x="32.1" y="183.5" width="6.49" height="1.65" fill="#d0d0ff"/>
<rect x="38.54" y="183.5" width="6.49" height="1.65" fill="#c2c2ff"/>
<rect x="44.99" y="183.5" width="6.49" height="1.65" fill="#bebeff"/>
<rect x="51.43" y="183.5" width="6.49" height="1.65" fill="#cfcfff"/>
<rect x="57.88" y="183.5" width="6.49" height="1.65" fill="#ceceff"/>
<rect x="64.32" y="183.5" width="6.49" height="1.65" fill="#ceceff"/>
<rect x="70.77" y="183.5" width="6.49" height="1.65" fill="#ffa2a2"/>
<rect x="77.21" y="183.5" width="6.49" height="1.65" fill="#ff8989"/>
<rect x="83.66" y="183.5" width="6.49" height="1.65" fill="#ff7b7b"/>
<rect x="32.1" y="185.1" width="6.49" height="1.65" fill="#b4b4ff"/>
<rect x="38.54" y="185.1" width="6.49" height="1.65" fill="#bdbdff"/>
<rect x="44.99" y="185.1" width="6.49" height="1.65" fill="#bebeff"/>
<rect x="51.43" y="185.1" width="6.49" height="1.65" fill="#c4c4ff"/>
<rect x="57.88" y="185.1" width="6.49" height="1.65" fill="#d2d2ff"/>
<rect x="64.32" y="185.1" width="6.49" height="1.65" fill="#ceceff"/>
<rect x="70.77" y="185.1" width="6.49" height="1.65" fill="#ff8888"/>
<rect x="77.21" y="185.1" width="6.49" height="1.65" fill="#ff8d8d"/>
<rect x="83.66" y="185.1" width="6.49" height="1.65" fill="#ff7171"/>
<rect x="32.1" y="186.7" width="6.49" height="1.65" fill="#ddddff"/>
<rect x="38.54" y="186.7" width="6.49" height="1.65" fill="#e5e5ff"/>
<rect x="44.99" y="186.7" width="6.49" height="1.65" fill="#d9d9ff"/>
<rect x="51.43" y="186.7" width="6.49" height="1.65" fill="#e0e0ff"/>
<rect x="57.88" y="186.7" width="6.49" height="1.65" fill="#efefff"/>
<rect x="64.32" y="186.7" width="6.49" height="1.65" fill="#f2f2ff"/>
<rect x="70.77" y="186.7" width="6.49" height="1.65" fill="#ff9a9a"/>
<rect x="77.21" y="186.7" width="6.49" height="1.65" fill="#ff9797"/>
<rect x="83.66" y="186.7" width="6.49" height="1.65" fill="#ff7b7b"/>
<rect x="32.1" y="188.3" width="6.49" height="1.65" fill="#c0c0ff"/>
<rect x="38.54" y="188.3" width="6.49" height="1.65" fill="#b3b3ff"/>
<rect x="44.99" y="188.3" width="6.49" height="1.65" fill="#bfbfff"/>
<rect x="51.43" y="188.3" width="6.49" height="1.65" fill="#c9c9ff"/>
<rect x="57.88" y="188.3" width="6.49" height="1.65" fill="#d2d2ff"/>
<rect x="64.32" y="188.3" width="6.49" height="1.65" fill="#ccccff"/>
<rect x="70.77" y="188.3" width="6.49" height="1.65" fill="#ff8888"/>
<rect x="77.21" y="188.3" width="6.49" height="1.65" fill="#ff8989"/>
<rect x="83.66" y="188.3" width="6.49" height="1.65" fill="#ff7676"/>
<rect x="32.1" y="189.9" width="6.49" height="1.65" fill="#b0b0ff"/>
<rect x="38.54" y="189.9" width="6.49" height="1.65" fill="#c1c1ff"/>
<rect x="44.99" y="189.9" width="6.49" height="1.65" fill="#c8c8ff"/>
<rect x="51.43" y="189.9" width="6.49" height="1.65" fill="#ff8f8f"/>
<rect x="57.88" y="189.9" width="6.49" height="1.65" fill="#ffa4a4"/>
<rect x="64.32" y="189.9" width="6.49" height="1.65" fill="#ff9c9c"/>
<rect x="70.77" y="189.9" width="6.49" height="1.65" fill="#fff2f2"/>
<rect x="77.21" y="189.9" width="6.49" height="1.65" fill="#d6d6ff"/>
<rect x="83.66" y="189.9" width="6.49" height="1.65" fill="#d0d0ff"/>
<rect x="32.1" y="191.5" width="6.49" height="1.65" fill="#dcdcff"/>
<rect x="38.54" y="191.5" width="6.49" height="1.65" fill="#e5e5ff"/>
<rect x="44.99" y="191.5" width="6.49" height="1.65" fill="#c4c4ff"/>
<rect x="51.43" y="191.5" width="6.49" height="1.65" fill="#ff8a8a"/>
<rect x="57.88" y="191.5" width="6.49" height="1.65" fill="#ffafaf"/>
<rect x="64.32" y="191.5" width="6.49" height="1.65" fill="#ff9595"/>
<rect x="70.77" y="191.5" width="6.49" height="1.65" fill="#fff4f4"/>
<rect x="77.21" y="191.5" width="6.49" height="1.65" fill="#efefff"/>
<rect x="83.66" y="191.5" width="6.49" height="1.65" fill="#ededff"/>
<rect x="32.1" y="193.1" width="6.49" height="1.65" fill="#a8a8ff"/>
<rect x="38.54" y="193.1" width="6.49" height="1.65" fill="#b1b1ff"/>
<rect x="44.99" y="193.1" width="6.49" height="1.65" fill="#9d9dff"/>
<rect x="51.43" y="193.1" width="6.49" height="1.65" fill="#ffb2b2"/>
<rect x="57.88" y="193.1" width="6.49" height="1.65" fill="#ff9b9b"/>
<rect x="64.32" y="193.1" width="6.49" height="1.65" fill="#ffa4a4"/>
<rect x="70.77" y="193.1" width="6.49" height="1.65" fill="#fff2f2"/>
<rect x="77.21" y="193.1" width="6.49" height="1.65" fill="#f4f4ff"/>
<rect x="83.66" y="193.1" width="6.49" height="1.65" fill="#dcdcff"/>
<rect x="32.1" y="194.7" width="6.49" height="1.65" fill="#acacff"/>
<rect x="38.54" y="194.7" width="6.49" height="1.65" fill="#a3a3ff"/>
<rect x="44.99" y="194.7" width="6.49" height="1.65" fill="#a4a4ff"/>
<rect x="51.43" y="194.7" width="6.49" height="1.65" fill="#ffc2c2"/>
<rect x="57.88" y="194.7" width="6.49" height="1.65" fill="#ffbbbb"/>
<rect x="64.32" y="194.7" width="6.49" height="1.65" fill="#ffbfbf"/>
<rect x="70.77" y="194.7" width="6.49" height="1.65" fill="#f8f8ff"/>
<rect x="77.21" y="194.7" width="6.49" height="1.65" fill="#dadaff"/>
<rect x="83.66" y="194.7" width="6.49" height="1.65" fill="#d1d1ff"/>
<rect x="32.1" y="196.3" width="6.49" height="1.65" fill="#bebeff"/>
<rect x="38.54" y="196.3" width="6.49" height="1.65" fill="#c2c2ff"/>
<rect x="44.99" y="196.3" width="6.49" height="1.65" fill="#a6a6ff"/>
<rect x="51.43" y="196.3" width="6.49" height="1.65" fill="#ffa8a8"/>
<rect x="57.88" y="196.3" width="6.49" height="1.65" fill="#ff9e9e"/>
<rect x="64.32" y="196.3" width="6.49" height="1.65" fill="#ffacac"/>
<rect x="70.77" y="196.3" width="6.49" height="1.65" fill="#ffe6e6"/>
<rect x="77.21" y="196.3" width="6.49" height="1.65" fill="#f5f5ff"/>
<rect x="83.66" y="196.3" width="6.49" height="1.65" fill="#f5f5ff"/>
<rect x="32.1" y="197.9" width="6.49" height="1.65" fill="#b7b7ff"/>
<rect x="38.54" y="197.9" width="6.49" height="1.65" fill="#a4a4ff"/>
<rect x="44.99" y="197.9" width="6.49" height="1.65" fill="#9e9eff"/>
<rect x="51.43" y="197.9" width="6.49" height="1.65" fill="#ffc6c6"/>
<rect x="57.88" y="197.9" width="6.49" height="1.65" fill="#ffdada"/>
<rect x="64.32" y="197.9" width="6.49" height="1.65" fill="#ffebeb"/>
<rect x="70.77" y="197.9" width="6.49" height="1.65" fill="#ff9b9b"/>
<rect x="77.21" y="197.9" width="6.49" height="1.65" fill="#ffdcdc"/>
<rect x="83.66" y="197.9" width="6.49" height="1.65" fill="#ffe2e2"/>
<rect x="32.1" y="199.5" width="6.49" height="1.65" fill="#afafff"/>
<rect x="38.54" y="199.5" width="6.49" height="1.65" fill="#c7c7ff"/>
<rect x="44.99" y="199.5" width="6.49" height="1.65" fill="#a1a1ff"/>
<rect x="51.43" y="199.5" width="6.49" height="1.65" fill="#ffcaca"/>
<rect x="57.88" y="199.5" width="6.49" height="1.65" fill="#ffdfdf"/>
<rect x="64.32" y="199.5" width="6.49" height="1.65" fill="#ffd3d3"/>
<rect x="70.77" y="199.5" width="6.49" height="1.65" fill="#ff8b8b"/>
<rect x="77.21" y="199.5" width="6.49" height="1.65" fill="#ffcfcf"/>
<rect x="83.66" y="199.5" width="6.49" height="1.65" fill="#ffecec"/>
<rect x="32.1" y="201.1" width="6.49" height="1.65" fill="#9c9cff"/>
<rect x="38.54" y="201.1" width="6.49" height="1.65" fill="#9595ff"/>
<rect x="44.99" y="201.1" width="6.49" height="1.65" fill="#a2a2ff"/>
<rect x="51.43" y="201.1" width="6.49" height="1.65" fill="#ffcfcf"/>
<rect x="57.88" y="201.1" width="6.49" height="1.65" fill="#ffdcdc"/>
<rect x="64.32" y="201.1" width="6.49" height="1.65" fill="#ffd2d2"/>
<rect x="70.77" y="201.1" width="6.49" height="1.65" fill="#ff8686"/>
<rect x="77.21" y="201.1" width="6.49" height="1.65" fill="#ffc6c6"/>
<rect x="83.66" y="201.1" width="6.49" height="1.65" fill="#ffd7d7"/>
<rect x="32.1" y="202.7" width="6.49" height="1.65" fill="#9999ff"/>
<rect x="38.54" y="202.7" width="6.49" height="1.65" fill="#9292ff"/>
<rect x="44.99" y="202.7" width="6.49" height="1.65" fill="#8181ff"/>
<rect x="51.43" y="202.7" width="6.49" height="1.65" fill="#ffc8c8"/>
<rect x="57.88" y="202.7" width="6.49" height="1.65" fill="#ffe6e6"/>
<rect x="64.32" y="202.7" width="6.49" height="1.65" fill="#ffe1e1"/>
<rect x="70.77" y="202.7" width="6.49" height="1.65" fill="#ffa6a6"/>
<rect x="77.21" y="202.7" width="6.49" height="1.65" fill="#ffeded"/>
<rect x="83.66" y="202.7" width="6.49" height="1.65" fill="#fff2f2"/>
<rect x="32.1" y="204.3" width="6.49" height="1.65" fill="#a1a1ff"/>
<rect x="38.54" y="204.3" width="6.49" height="1.65" fill="#b2b2ff"/>
<rect x="44.99" y="204.3" width="6.49" height="1.65" fill="#acacff"/>
<rect x="51.43" y="204.3" width="6.49" height="1.65" fill="#ffb1b1"/>
<rect x="57.88" y="204.3" width="6.49" height="1.65" fill="#ffd6d6"/>
<rect x="64.32" y="204.3" width="6.49" height="1.65" fill="#ffb9b9"/>
<rect x="70.77" y="204.3" width="6.49" height="1.65" fill="#ff8787"/>
<rect x="77.21" y="204.3" width="6.49" height="1.65" fill="#ffe0e0"/>
<rect x="83.66" y="204.3" width="6.49" height="1.65" fill="#ffe4e4"/>
<rect x="32.1" y="205.9" width="6.49" height="1.65" fill="#9b9bff"/>
<rect x="38.54" y="205.9" width="6.49" height="1.65" fill="#ababff"/>
<rect x="44.99" y="205.9" width="6.49" height="1.65" fill="#9a9aff"/>
<rect x="51.43" y="205.9" width="6.49" height="1.65" fill="#ffc7c7"/>
<rect x="57.88" y="205.9" width="6.49" height="1.65" fill="#ffd3d3"/>
<rect x="64.32" y="205.9" width="6.49" height="1.65" fill="#ffc3c3"/>
<rect x="70.77" y="205.9" width="6.49" height="1.65" fill="#ff9d9d"/>
<rect x="77.21" y="205.9" width="6.49" height="1.65" fill="#ffe4e4"/>
<rect x="83.66" y="205.9" width="6.49" height="1.65" fill="#ffe7e7"/>
<rect x="32.1" y="207.5" width="6.49" height="1.65" fill="#9393ff"/>
<rect x="38.54" y="207.5" width="6.49" height="1.65" fill="#9898ff"/>
<rect x="44.99" y="207.5" width="6.49" height="1.65" fill="#9898ff"/>
<rect x="51.43" y="207.5" width="6.49" height="1.65" fill="#ffd3d3"/>
<rect x="57.88" y="207.5" width="6.49" height="1.65" fill="#ffe2e2"/>
<rect x="64.32" y="207.5" width="6.49" height="1.65" fill="#ffd8d8"/>
<rect x="70.77" y="207.5" width="6.49" height="1.65" fill="#ff8d8d"/>
<rect x="77.21" y="207.5" width="6.49" height="1.65" fill="#ffdcdc"/>
<rect x="83.66" y="207.5" width="6.49" height="1.65" fill="#ffecec"/>
<rect x="32.1" y="209.1" width="6.49" height="1.65" fill="#a1a1ff"/>
<rect x="38.54" y="209.1" width="6.49" height="1.65" fill="#b4b4ff"/>
<rect x="44.99" y="209.1" width="6.49" height="1.65" fill="#a4a4ff"/>
<rect x="51.43" y="209.1" width="6.49" height="1.65" fill="#ffc6c6"/>
<rect x="57.88" y="209.1" width="6.49" height="1.65" fill="#ffd9d9"/>
<rect x="64.32" y="209.1" width="6.49" height="1.65" fill="#ffc3c3"/>
<rect x="70.77" y="209.1" width="6.49" height="1.65" fill="#ff9494"/>
<rect x="77.21" y="209.1" width="6.49" height="1.65" fill="#ffd6d6"/>
<rect x="83.66" y="209.1" width="6.49" height="1.65" fill="#ffe6e6"/>
<rect x="32.1" y="210.7" width="6.49" height="1.65" fill="#ababff"/>
<rect x="38.54" y="210.7" width="6.49" height="1.65" fill="#a3a3ff"/>
<rect x="44.99" y="210.7" width="6.49" height="1.65" fill="#a2a2ff"/>
<rect x="51.43" y="210.7" width="6.49" height="1.65" fill="#ffb7b7"/>
<rect x="57.88" y="210.7" width="6.49" height="1.65" fill="#ffc4c4"/>
<rect x="64.32" y="210.7" width="6.49" height="1.65" fill="#ffd5d5"/>
<rect x="70.77" y="210.7" width="6.49" height="1.65" fill="#ff8686"/>
<rect x="77.21" y="210.7" width="6.49" height="1.65" fill="#ffc4c4"/>
<rect x="83.66" y="210.7" width="6.49" height="1.65" fill="#ffc1c1"/>
<rect x="32.1" y="212.3" width="6.49" height="1.65" fill="#a7a7ff"/>
<rect x="38.54" y="212.3" width="6.49" height="1.65" fill="#bebeff"/>
<rect x="44.99" y="212.3" width="6.49" height="1.65" fill="#c6c6ff"/>
<rect x="51.43" y="212.3" width="6.49" height="1.65" fill="#ffb3b3"/>
<rect x="57.88" y="212.3" width="6.49" height="1.65" fill="#ffcdcd"/>
<rect x="64.32" y="212.3" width="6.49" height="1.65" fill="#ffcece"/>
<rect x="70.77" y="212.3" width="6.49" height="1.65" fill="#ff7979"/>
<rect x="77.21" y="212.3" width="6.49" height="1.65" fill="#ffdfdf"/>
<rect x="83.66" y="212.3" width="6.49" height="1.65" fill="#ffd7d7"/>
<rect x="32.1" y="213.9" width="6.49" height="1.65" fill="#a5a5ff"/>
<rect x="38.54" y="213.9" width="6.49" height="1.65" fill="#a8a8ff"/>
<rect x="44.99" y="213.9" width="6.49" height="1.65" fill="#a6a6ff"/>
<rect x="51.43" y="213.9" width="6.49" height="1.65" fill="#fbfbff"/>
<rect x="57.88" y="213.9" width="6.49" height="1.65" fill="#fff6f6"/>
<rect x="64.32" y="213.9" width="6.49" height="1.65" fill="#ffeded"/>
<rect x="70.77" y="213.9" width="6.49" height="1.65" fill="#ffacac"/>
<rect x="77.21" y="213.9" width="6.49" height="1.65" fill="#ffa9a9"/>
<rect x="83.66" y="213.9" width="6.49" height="1.65" fill="#ffa7a7"/>
<rect x="32.1" y="215.5" width="6.49" height="1.65" fill="#b0b0ff"/>
<rect x="38.54" y="215.5" width="6.49" height="1.65" fill="#adadff"/>
<rect x="44.99" y="215.5" width="6.49" height="1.65" fill="#9797ff"/>
<rect x="51.43" y="215.5" width="6.49" height="1.65" fill="#ffffff"/>
<rect x="57.88" y="215.5" width="6.49" height="1.65" fill="#fbfbff"/>
<rect x="64.32" y="215.5" width="6.49" height="1.65" fill="#fbfbff"/>
<rect x="70.77" y="215.5" width="6.49" height="1.65" fill="#ff9494"/>
<rect x="77.21" y="215.5" width="6.49" height="1.65" fill="#ffb4b4"/>
<rect x="83.66" y="215.5" width="6.49" height="1.65" fill="#ffa4a4"/>
<rect x="32.1" y="217.1" width="6.49" height="1.65" fill="#aeaeff"/>
<rect x="38.54" y="217.1" width="6.49" height="1.65" fill="#b2b2ff"/>
<rect x="44.99" y="217.1" width="6.49" height="1.65" fill="#ababff"/>
<rect x="51.43" y="217.1" width="6.49" height="1.65" fill="#fff0f0"/>
<rect x="57.88" y="217.1" width="6.49" height="1.65" fill="#fff8f8"/>
<rect x="64.32" y="217.1" width="6.49" height="1.65" fill="#f7f7ff"/>
<rect x="70.77" y="217.1" width="6.49" height="1.65" fill="#ffa6a6"/>
<rect x="77.21" y="217.1" width="6.49" height="1.65" fill="#ffadad"/>
<rect x="83.66" y="217.1" width="6.49" height="1.65" fill="#ffb9b9"/>
<rect x="32.1" y="218.7" width="6.49" height="1.65" fill="#a6a6ff"/>
<rect x="38.54" y="218.7" width="6.49" height="1.65" fill="#b4b4ff"/>
<rect x="44.99" y="218.7" width="6.49" height="1.65" fill="#9a9aff"/>
<rect x="51.43" y="218.7" width="6.49" height="1.65" fill="#ffefef"/>
<rect x="57.88" y="218.7" width="6.49" height="1.65" fill="#fffefe"/>
<rect x="64.32" y="218.7" width="6.49" height="1.65" fill="#fbfbff"/>
<rect x="70.77" y="218.7" width="6.49" height="1.65" fill="#ffa3a3"/>
<rect x="77.21" y="218.7" width="6.49" height="1.65" fill="#ffb4b4"/>
<rect x="83.66" y="218.7" width="6.49" height="1.65" fill="#ffc6c6"/>
<rect x="32.1" y="220.3" width="6.49" height="1.65" fill="#a9a9ff"/>
<rect x="38.54" y="220.3" width="6.49" height="1.65" fill="#acacff"/>
<rect x="44.99" y="220.3" width="6.49" height="1.65" fill="#9e9eff"/>
<rect x="51.43" y="220.3" width="6.49" height="1.65" fill="#ffe9e9"/>
<rect x="57.88" y="220.3" width="6.49" height="1.65" fill="#ffebeb"/>
<rect x="64.32" y="220.3" width="6.49" height="1.65" fill="#fff0f0"/>
<rect x="70.77" y="220.3" width="6.49" height="1.65" fill="#ffb3b3"/>
<rect x="77.21" y="220.3" width="6.49" height="1.65" fill="#ffb2b2"/>
<rect x="83.66" y="220.3" width="6.49" height="1.65" fill="#ffb9b9"/>
<rect x="32.1" y="221.9" width="6.49" height="1.65" fill="#9f9fff"/>
<rect x="38.54" y="221.9" width="6.49" height="1.65" fill="#a2a2ff"/>
<rect x="44.99" y="221.9" width="6.49" height="1.65" fill="#9c9cff"/>
<rect x="51.43" y="221.9" width="6.49" height="1.65" fill="#ffd8d8"/>
<rect x="57.88" y="221.9" width="6.49" height="1.65" fill="#fff4f4"/>
<rect x="64.32" y="221.9" width="6.49" height="1.65" fill="#ffe4e4"/>
<rect x="70.77" y="221.9" width="6.49" height="1.65" fill="#ffacac"/>
<rect x="77.21" y="221.9" width="6.49" height="1.65" fill="#ff9c9c"/>
<rect x="83.66" y="221.9" width="6.49" height="1.65" fill="#ffa4a4"/>
<rect x="32.1" y="223.5" width="6.49" height="1.65" fill="#9191ff"/>
<rect x="38.54" y="223.5" width="6.49" height="1.65" fill="#8989ff"/>
<rect x="44.99" y="223.5" width="6.49" height="1.65" fill="#8e8eff"/>
<rect x="51.43" y="223.5" width="6.49" height="1.65" fill="#fff4f4"/>
<rect x="57.88" y="223.5" width="6.49" height="1.65" fill="#fff9f9"/>
<rect x="64.32" y="223.5" width="6.49" height="1.65" fill="#ffeeee"/>
<rect x="70.77" y="223.5" width="6.49" height="1.65" fill="#ffc1c1"/>
<rect x="77.21" y="223.5" width="6.49" height="1.65" fill="#ffa9a9"/>
<rect x="83.66" y="223.5" width="6.49" height="1.65" fill="#ffc0c0"/>
<rect x="32.1" y="225.1" width="6.49" height="1.65" fill="#9898ff"/>
<rect x="38.54" y="225.1" width="6.49" height="1.65" fill="#9898ff"/>
<rect x="44.99" y="225.1" width="6.49" height="1.65" fill="#9191ff"/>
<rect x="51.43" y="225.1" width="6.49" height="1.65" fill="#fffafa"/>
<rect x="57.88" y="225.1" width="6.49" height="1.65" fill="#fff3f3"/>
<rect x="64.32" y="225.1" width="6.49" height="1.65" fill="#ffeeee"/>
<rect x="70.77" y="225.1" width="6.49" height="1.65" fill="#ffa1a1"/>
<rect x="77.21" y="225.1" width="6.49" height="1.65" fill="#ff9a9a"/>
<rect x="83.66" y="225.1" width="6.49" height="1.65" fill="#ffaaaa"/>
<rect x="32.1" y="226.7" width="6.49" height="1.65" fill="#a0a0ff"/>
<rect x="38.54" y="226.7" width="6.49" height="1.65" fill="#a1a1ff"/>
<rect x="44.99" y="226.7" width="6.49" height="1.65" fill="#a3a3ff"/>
<rect x="51.43" y="226.7" width="6.49" height="1.65" fill="#fff5f5"/>
<rect x="57.88" y="226.7" width="6.49" height="1.65" fill="#ffe0e0"/>
<rect x="64.32" y="226.7" width="6.49" height="1.65" fill="#ffeeee"/>
<rect x="70.77" y="226.7" width="6.49" height="1.65" fill="#ffa8a8"/>
<rect x="77.21" y="226.7" width="6.49" height="1.65" fill="#ffb9b9"/>
<rect x="83.66" y="226.7" width="6.49" height="1.65" fill="#ffb3b3"/>
<rect x="32.1" y="228.3" width="6.49" height="1.65" fill="#adadff"/>
<rect x="38.54" y="228.3" width="6.49" height="1.65" fill="#a5a5ff"/>
<rect x="44.99" y="228.3" width="6.49" height="1.65" fill="#9595ff"/>
<rect x="51.43" y="228.3" width="6.49" height="1.65" fill="#ffe4e4"/>
<rect x="57.88" y="228.3" width="6.49" height="1.65" fill="#ffdada"/>
<rect x="64.32" y="228.3" width="6.49" height="1.65" fill="#ffdede"/>
<rect x="70.77" y="228.3" width="6.49" height="1.65" fill="#ffa2a2"/>
<rect x="77.21" y="228.3" width="6.49" height="1.65" fill="#ffaaaa"/>
<rect x="83.66" y="228.3" width="6.49" height="1.65" fill="#ffbfbf"/>
<rect x="32.1" y="229.9" width="6.49" height="1.65" fill="#8080ff"/>
<rect x="38.54" y="229.9" width="6.49" height="1.65" fill="#8484ff"/>
<rect x="44.99" y="229.9" width="6.49" height="1.65" fill="#8989ff"/>
<rect x="51.43" y="229.9" width="6.49" height="1.65" fill="#fcfcff"/>
<rect x="57.88" y="229.9" width="6.49" height="1.65" fill="#fbfbff"/>
<rect x="64.32" y="229.9" width="6.49" height="1.65" fill="#fffcfc"/>
<rect x="70.77" y="229.9" width="6.49" height="1.65" fill="#ffc5c5"/>
<rect x="77.21" y="229.9" width="6.49" height="1.65" fill="#ffbebe"/>
<rect x="83.66" y="229.9" width="6.49" height="1.65" fill="#ffacac"/>
<rect x="32.1" y="231.5" width="6.49" height="1.65" fill="#9b9bff"/>
<rect x="38.54" y="231.5" width="6.49" height="1.65" fill="#9e9eff"/>
<rect x="44.99" y="231.5" width="6.49" height="1.65" fill="#a4a4ff"/>
<rect x="51.43" y="231.5" width="6.49" height="1.65" fill="#fff8f8"/>
<rect x="57.88" y="231.5" width="6.49" height="1.65" fill="#f9f9ff"/>
<rect x="64.32" y="231.5" width="6.49" height="1.65" fill="#f8f8ff"/>
<rect x="70.77" y="231.5" width="6.49" height="1.65" fill="#ffb5b5"/>
<rect x="77.21" y="231.5" width="6.49" height="1.65" fill="#ffaaaa"/>
<rect x="83.66" y="231.5" width="6.49" height="1.65" fill="#ffb8b8"/>
<rect x="32.1" y="233.1" width="6.49" height="1.65" fill="#9f9fff"/>
<rect x="38.54" y="233.1" width="6.49" height="1.65" fill="#aaaaff"/>
<rect x="44.99" y="233.1" width="6.49" height="1.65" fill="#9e9eff"/>
<rect x="51.43" y="233.1" width="6.49" height="1.65" fill="#ffe9e9"/>
<rect x="57.88" y="233.1" width="6.49" height="1.65" fill="#ffe1e1"/>
<rect x="64.32" y="233.1" width="6.49" height="1.65" fill="#ffecec"/>
<rect x="70.77" y="233.1" width="6.49" height="1.65" fill="#ffb6b6"/>
<rect x="77.21" y="233.1" width="6.49" height="1.65" fill="#ffa4a4"/>
<rect x="83.66" y="233.1" width="6.49" height="1.65" fill="#ffb7b7"/>
<rect x="32.1" y="234.7" width="6.49" height="1.65" fill="#8787ff"/>
<rect x="38.54" y="234.7" width="6.49" height="1.65" fill="#8888ff"/>
<rect x="44.99" y="234.7" width="6.49" height="1.65" fill="#9898ff"/>
<rect x="51.43" y="234.7" width="6.49" height="1.65" fill="#fff8f8"/>
<rect x="57.88" y="234.7" width="6.49" height="1.65" fill="#fcfcff"/>
<rect x="64.32" y="234.7" width="6.49" height="1.65" fill="#f5f5ff"/>
<rect x="70.77" y="234.7" width="6.49" height="1.65" fill="#ffb4b4"/>
<rect x="77.21" y="234.7" width="6.49" height="1.65" fill="#ffb0b0"/>
<rect x="83.66" y="234.7" width="6.49" height="1.65" fill="#ffc5c5"/>
<rect x="32.1" y="236.3" width="6.49" height="1.65" fill="#a7a7ff"/>
<rect x="38.54" y="236.3" width="6.49" height="1.65" fill="#9090ff"/>
<rect x="44.99" y="236.3" width="6.49" height="1.65" fill="#a4a4ff"/>
<rect x="51.43" y="236.3" width="6.49" height="1.65" fill="#ffe2e2"/>
<rect x="57.88" y="236.3" width="6.49" height="1.65" fill="#fff3f3"/>
<rect x="64.32" y="236.3" width="6.49" height="1.65" fill="#fff5f5"/>
<rect x="70.77" y="236.3" width="6.49" height="1.65" fill="#ff9393"/>
<rect x="77.21" y="236.3" width="6.49" height="1.65" fill="#ffa6a6"/>
<rect x="83.66" y="236.3" width="6.49" height="1.65" fill="#ff8f8f"/>
<rect x="32.1" y="237.9" width="6.49" height="1.65" fill="#8787ff"/>
<rect x="38.54" y="237.9" width="6.49" height="1.65" fill="#8888ff"/>
<rect x="44.99" y="237.9" width="6.49" height="1.65" fill="#8484ff"/>
<rect x="51.43" y="237.9" width="6.49" height="1.65" fill="#fffbfb"/>
<rect x="57.88" y="237.9" width="6.49" height="1.65" fill="#e5e5ff"/>
<rect x="64.32" y="237.9" width="6.49" height="1.65" fill="#fafaff"/>
<rect x="70.77" y="237.9" width="6.49" height="1.65" fill="#ffbfbf"/>
<rect x="77.21" y="237.9" width="6.49" height="1.65" fill="#ffbbbb"/>
<rect x="83.66" y="237.9" width="6.49" height="1.65" fill="#ffc0c0"/>
<rect x="32.1" y="239.5" width="6.49" height="1.65" fill="#8c8cff"/>
<rect x="38.54" y="239.5" width="6.49" height="1.65" fill="#a6a6ff"/>
<rect x="44.99" y="239.5" width="6.49" height="1.65" fill="#a9a9ff"/>
<rect x="51.43" y="239.5" width="6.49" height="1.65" fill="#fcfcff"/>
<rect x="57.88" y="239.5" width="6.49" height="1.65" fill="#ffeeee"/>
<rect x="64.32" y="239.5" width="6.49" height="1.65" fill="#ffd9d9"/>
<rect x="70.77" y="239.5" width="6.49" height="1.65" fill="#ffa2a2"/>
<rect x="77.21" y="239.5" width="6.49" height="1.65" fill="#ffacac"/>
<rect x="83.66" y="239.5" width="6.49" height="1.65" fill="#ffb7b7"/>
<rect x="32.1" y="241.1" width="6.49" height="1.65" fill="#9595ff"/>
<rect x="38.54" y="241.1" width="6.49" height="1.65" fill="#9494ff"/>
<rect x="44.99" y="241.1" width="6.49" height="1.65" fill="#8d8dff"/>
<rect x="51.43" y="241.1" width="6.49" height="1.65" fill="#ffffff"/>
<rect x="57.88" y="241.1" width="6.49" height="1.65" fill="#f9f9ff"/>
<rect x="64.32" y="241.1" width="6.49" height="1.65" fill="#fffefe"/>
<rect x="70.77" y="241.1" width="6.49" height="1.65" fill="#ff9a9a"/>
<rect x="77.21" y="241.1" width="6.49" height="1.65" fill="#ffa5a5"/>
<rect x="83.66" y="241.1" width="6.49" height="1.65" fill="#ffaaaa"/>
<rect x="32.1" y="242.7" width="6.49" height="1.65" fill="#a5a5ff"/>
<rect x="38.54" y="242.7" width="6.49" height="1.65" fill="#9393ff"/>
<rect x="44.99" y="242.7" width="6.49" height="1.65" fill="#ababff"/>
<rect x="51.43" y="242.7" width="6.49" height="1.65" fill="#ffe8e8"/>
<rect x="57.88" y="242.7" width="6.49" height="1.65" fill="#ffe5e5"/>
<rect x="64.32" y="242.7" width="6.49" height="1.65" fill="#ffeded"/>
<rect x="70.77" y="242.7" width="6.49" height="1.65" fill="#ffbbbb"/>
<rect x="77.21" y="242.7" width="6.49" height="1.65" fill="#ffbdbd"/>
<rect x="83.66" y="242.7" width="6.49" height="1.65" fill="#ffbbbb"/>
<rect x="32.1" y="244.3" width="6.49" height="1.65" fill="#8686ff"/>
<rect x="38.54" y="244.3" width="6.49" height="1.65" fill="#9999ff"/>
<rect x="44.99" y="244.3" width="6.49" height="1.65" fill="#a4a4ff"/>
<rect x="51.43" y="244.3" width="6.49" height="1.65" fill="#fff3f3"/>
<rect x="57.88" y="244.3" width="6.49" height="1.65" fill="#fffcfc"/>
<rect x="64.32" y="244.3" width="6.49" height="1.65" fill="#fdfdff"/>
<rect x="70.77" y="244.3" width="6.49" height="1.65" fill="#ffa3a3"/>
<rect x="77.21" y="244.3" width="6.49" height="1.65" fill="#ffbcbc"/>
<rect x="83.66" y="244.3" width="6.49" height="1.65" fill="#ffb4b4"/>
<rect x="32.1" y="245.9" width="6.49" height="1.65" fill="#bcbcff"/>
<rect x="38.54" y="245.9" width="6.49" height="1.65" fill="#bfbfff"/>
<rect x="44.99" y="245.9" width="6.49" height="1.65" fill="#b3b3ff"/>
<rect x="51.43" y="245.9" width="6.49" height="1.65" fill="#ffe1e1"/>
<rect x="57.88" y="245.9" width="6.49" height="1.65" fill="#ffcccc"/>
<rect x="64.32" y="245.9" width="6.49" height="1.65" fill="#ffe0e0"/>
<rect x="70.77" y="245.9" width="6.49" height="1.65" fill="#ffadad"/>
<rect x="77.21" y="245.9" width="6.49" height="1.65" fill="#ffb6b6"/>
<rect x="83.66" y="245.9" width="6.49" height="1.65" fill="#ff9595"/>
<rect x="32.1" y="247.5" width="6.49" height="1.65" fill="#a0a0ff"/>
<rect x="38.54" y="247.5" width="6.49" height="1.65" fill="#9191ff"/>
<rect x="44.99" y="247.5" width="6.49" height="1.65" fill="#8d8dff"/>
<rect x="51.43" y="247.5" width="6.49" height="1.65" fill="#fefeff"/>
<rect x="57.88" y="247.5" width="6.49" height="1.65" fill="#ffeeee"/>
<rect x="64.32" y="247.5" width="6.49" height="1.65" fill="#ffeaea"/>
<rect x="70.77" y="247.5" width="6.49" height="1.65" fill="#ffb3b3"/>
<rect x="77.21" y="247.5" width="6.49" height="1.65" fill="#ffc8c8"/>
<rect x="83.66" y="247.5" width="6.49" height="1.65" fill="#ffb7b7"/>
<rect x="32.1" y="249.1" width="6.49" height="1.65" fill="#8f8fff"/>
<rect x="38.54" y="249.1" width="6.49" height="1.65" fill="#9595ff"/>
<rect x="44.99" y="249.1" width="6.49" height="1.65" fill="#b0b0ff"/>
<rect x="51.43" y="249.1" width="6.49" height="1.65" fill="#fafaff"/>
<rect x="57.88" y="249.1" width="6.49" height="1.65" fill="#ffe7e7"/>
<rect x="64.32" y="249.1" width="6.49" height="1.65" fill="#ffeded"/>
<rect x="70.77" y="249.1" width="6.49" height="1.65" fill="#ffb9b9"/>
<rect x="77.21" y="249.1" width="6.49" height="1.65" fill="#ffc8c8"/>
<rect x="83.66" y="249.1" width="6.49" height="1.65" fill="#ffb6b6"/>
<rect x="32.1" y="250.7" width="6.49" height="1.65" fill="#9090ff"/>
<rect x="38.54" y="250.7" width="6.49" height="1.65" fill="#9393ff"/>
<rect x="44.99" y="250.7" width="6.49" height="1.65" fill="#9b9bff"/>
<rect x="51.43" y="250.7" width="6.49" height="1.65" fill="#ffd5d5"/>
<rect x="57.88" y="250.7" width="6.49" height="1.65" fill="#ffc8c8"/>
<rect x="64.32" y="250.7" width="6.49" height="1.65" fill="#ffe0e0"/>
<rect x="70.77" y="250.7" width="6.49" height="1.65" fill="#ffe6e6"/>
<rect x="77.21" y="250.7" width="6.49" height="1.65" fill="#ffbfbf"/>
<rect x="83.66" y="250.7" width="6.49" height="1.65" fill="#ffc6c6"/>
<rect x="32.1" y="252.3" width="6.49" height="1.65" fill="#9292ff"/>
<rect x="38.54" y="252.3" width="6.49" height="1.65" fill="#a1a1ff"/>
<rect x="44.99" y="252.3" width="6.49" height="1.65" fill="#9a9aff"/>
<rect x="51.43" y="252.3" width="6.49" height="1.65" fill="#ffc7c7"/>
<rect x="57.88" y="252.3" width="6.49" height="1.65" fill="#ffc9c9"/>
<rect x="64.32" y="252.3" width="6.49" height="1.65" fill="#ffcccc"/>
<rect x="70.77" y="252.3" width="6.49" height="1.65" fill="#ffdede"/>
<rect x="77.21" y="252.3" width="6.49" height="1.65" fill="#ffb1b1"/>
<rect x="83.66" y="252.3" width="6.49" height="1.65" fill="#ffb6b6"/>
<rect x="32.1" y="253.9" width="6.49" height="1.65" fill="#9494ff"/>
<rect x="38.54" y="253.9" width="6.49" height="1.65" fill="#9d9dff"/>
<rect x="44.99" y="253.9" width="6.49" height="1.65" fill="#a8a8ff"/>
<rect x="51.43" y="253.9" width="6.49" height="1.65" fill="#ffd2d2"/>
<rect x="57.88" y="253.9" width="6.49" height="1.65" fill="#ffd5d5"/>
<rect x="64.32" y="253.9" width="6.49" height="1.65" fill="#ffdada"/>
<rect x="70.77" y="253.9" width="6.49" height="1.65" fill="#fff8f8"/>
<rect x="77.21" y="253.9" width="6.49" height="1.65" fill="#ffd1d1"/>
<rect x="83.66" y="253.9" width="6.49" height="1.65" fill="#ffbfbf"/>
<rect x="32.1" y="255.5" width="6.49" height="1.65" fill="#8888ff"/>
<rect x="38.54" y="255.5" width="6.49" height="1.65" fill="#8585ff"/>
<rect x="44.99" y="255.5" width="6.49" height="1.65" fill="#8888ff"/>
<rect x="51.43" y="255.5" width="6.49" height="1.65" fill="#ffbebe"/>
<rect x="57.88" y="255.5" width="6.49" height="1.65" fill="#ffb0b0"/>
<rect x="64.32" y="255.5" width="6.49" height="1.65" fill="#ffb6b6"/>
<rect x="70.77" y="255.5" width="6.49" height="1.65" fill="#ffd4d4"/>
<rect x="77.21" y="255.5" width="6.49" height="1.65" fill="#ffb0b0"/>
<rect x="83.66" y="255.5" width="6.49" height="1.65" fill="#ffb5b5"/>
<rect x="32.1" y="257.1" width="6.49" height="1.65" fill="#8a8aff"/>
<rect x="38.54" y="257.1" width="6.49" height="1.65" fill="#9797ff"/>
<rect x="44.99" y="257.1" width="6.49" height="1.65" fill="#8a8aff"/>
<rect x="51.43" y="257.1" width="6.49" height="1.65" fill="#ffd0d0"/>
<rect x="57.88" y="257.1" width="6.49" height="1.65" fill="#ffaeae"/>
<rect x="64.32" y="257.1" width="6.49" height="1.65" fill="#ffc0c0"/>
<rect x="70.77" y="257.1" width="6.49" height="1.65" fill="#ffe5e5"/>
<rect x="77.21" y="257.1" width="6.49" height="1.65" fill="#ffb9b9"/>
<rect x="83.66" y="257.1" width="6.49" height="1.65" fill="#ffbebe"/>
<rect x="32.1" y="258.7" width="6.49" height="1.65" fill="#7979ff"/>
<rect x="38.54" y="258.7" width="6.49" height="1.65" fill="#8585ff"/>
<rect x="44.99" y="258.7" width="6.49" height="1.65" fill="#8f8fff"/>
<rect x="51.43" y="258.7" width="6.49" height="1.65" fill="#ffd2d2"/>
<rect x="57.88" y="258.7" width="6.49" height="1.65" fill="#ffcece"/>
<rect x="64.32" y="258.7" width="6.49" height="1.65" fill="#ffbaba"/>
<rect x="70.77" y="258.7" width="6.49" height="1.65" fill="#fff5f5"/>
<rect x="77.21" y="258.7" width="6.49" height="1.65" fill="#ffd7d7"/>
<rect x="83.66" y="258.7" width="6.49" height="1.65" fill="#ffd0d0"/>
<rect x="32.1" y="260.3" width="6.49" height="1.65" fill="#8c8cff"/>
<rect x="38.54" y="260.3" width="6.49" height="1.65" fill="#9696ff"/>
<rect x="44.99" y="260.3" width="6.49" height="1.65" fill="#9c9cff"/>
<rect x="51.43" y="260.3" width="6.49" height="1.65" fill="#ffc5c5"/>
<rect x="57.88" y="260.3" width="6.49" height="1.65" fill="#ffb1b1"/>
<rect x="64.32" y="260.3" width="6.49" height="1.65" fill="#ffc0c0"/>
<rect x="70.77" y="260.3" width="6.49" height="1.65" fill="#ffd5d5"/>
<rect x="77.21" y="260.3" width="6.49" height="1.65" fill="#ffd2d2"/>
<rect x="83.66" y="260.3" width="6.49" height="1.65" fill="#ffc4c4"/>
<rect x="32.1" y="261.9" width="6.49" height="1.65" fill="#a4a4ff"/>
<rect x="38.54" y="261.9" width="6.49" height="1.65" fill="#9b9bff"/>
<rect x="44.99" y="261.9" width="6.49" height="1.65" fill="#9292ff"/>
<rect x="51.43" y="261.9" width="6.49" height="1.65" fill="#ffc1c1"/>
<rect x="57.88" y="261.9" width="6.49" height="1.65" fill="#ffb7b7"/>
<rect x="64.32" y="261.9" width="6.49" height="1.65" fill="#ffbcbc"/>
<rect x="70.77" y="261.9" width="6.49" height="1.65" fill="#ffb9b9"/>
<rect x="77.21" y="261.9" width="6.49" height="1.65" fill="#ffc3c3"/>
<rect x="83.66" y="261.9" width="6.49" height="1.65" fill="#ffc1c1"/>
<rect x="32.1" y="263.5" width="6.49" height="1.65" fill="#9595ff"/>
<rect x="38.54" y="263.5" width="6.49" height="1.65" fill="#b2b2ff"/>
<rect x="44.99" y="263.5" width="6.49" height="1.65" fill="#9b9bff"/>
<rect x="51.43" y="263.5" width="6.49" height="1.65" fill="#ffbdbd"/>
<rect x="57.88" y="263.5" width="6.49" height="1.65" fill="#ffc3c3"/>
<rect x="64.32" y="263.5" width="6.49" height="1.65" fill="#ffbebe"/>
<rect x="70.77" y="263.5" width="6.49" height="1.65" fill="#ffc9c9"/>
<rect x="77.21" y="263.5" width="6.49" height="1.65" fill="#ffd4d4"/>
<rect x="83.66" y="263.5" width="6.49" height="1.65" fill="#ffd9d9"/>
<rect x="32.1" y="265.1" width="6.49" height="1.65" fill="#ababff"/>
<rect x="38.54" y="265.1" width="6.49" height="1.65" fill="#8b8bff"/>
<rect x="44.99" y="265.1" width="6.49" height="1.65" fill="#9e9eff"/>
<rect x="51.43" y="265.1" width="6.49" height="1.65" fill="#ffd0d0"/>
<rect x="57.88" y="265.1" width="6.49" height="1.65" fill="#ffc5c5"/>
<rect x="64.32" y="265.1" width="6.49" height="1.65" fill="#ffc5c5"/>
<rect x="70.77" y="265.1" width="6.49" height="1.65" fill="#ffd0d0"/>
<rect x="77.21" y="265.1" width="6.49" height="1.65" fill="#ffc8c8"/>
<rect x="83.66" y="265.1" width="6.49" height="1.65" fill="#ffe3e3"/>
<rect x="32.1" y="266.7" width="6.49" height="1.65" fill="#8080ff"/>
<rect x="38.54" y="266.7" width="6.49" height="1.65" fill="#9292ff"/>
<rect x="44.99" y="266.7" width="6.49" height="1.65" fill="#9b9bff"/>
<rect x="51.43" y="266.7" width="6.49" height="1.65" fill="#ffa7a7"/>
<rect x="57.88" y="266.7" width="6.49" height="1.65" fill="#ffb3b3"/>
<rect x="64.32" y="266.7" width="6.49" height="1.65" fill="#ffbaba"/>
<rect x="70.77" y="266.7" width="6.49" height="1.65" fill="#ffd5d5"/>
<rect x="77.21" y="266.7" width="6.49" height="1.65" fill="#ffbaba"/>
<rect x="83.66" y="266.7" width="6.49" height="1.65" fill="#ffbaba"/>
<rect x="32.1" y="268.3" width="6.49" height="1.65" fill="#b1b1ff"/>
<rect x="38.54" y="268.3" width="6.49" height="1.65" fill="#9e9eff"/>
<rect x="44.99" y="268.3" width="6.49" height="1.65" fill="#a3a3ff"/>
<rect x="51.43" y="268.3" width="6.49" height="1.65" fill="#ffcdcd"/>
<rect x="57.88" y="268.3" width="6.49" height="1.65" fill="#ffdcdc"/>
<rect x="64.32" y="268.3" width="6.49" height="1.65" fill="#ffcbcb"/>
<rect x="70.77" y="268.3" width="6.49" height="1.65" fill="#ffd3d3"/>
<rect x="77.21" y="268.3" width="6.49" height="1.65" fill="#ffc9c9"/>
<rect x="83.66" y="268.3" width="6.49" height="1.65" fill="#ffc8c8"/>
<rect x="32.1" y="269.9" width="6.49" height="1.65" fill="#9595ff"/>
<rect x="38.54" y="269.9" width="6.49" height="1.65" fill="#a3a3ff"/>
<rect x="44.99" y="269.9" width="6.49" height="1.65" fill="#9b9bff"/>
<rect x="51.43" y="269.9" width="6.49" height="1.65" fill="#ffc7c7"/>
<rect x="57.88" y="269.9" width="6.49" height="1.65" fill="#ffc6c6"/>
<rect x="64.32" y="269.9" width="6.49" height="1.65" fill="#ffc5c5"/>
<rect x="70.77" y="269.9" width="6.49" height="1.65" fill="#ffe4e4"/>
<rect x="77.21" y="269.9" width="6.49" height="1.65" fill="#ffdfdf"/>
<rect x="83.66" y="269.9" width="6.49" height="1.65" fill="#ffe6e6"/>
<rect x="32.1" y="271.5" width="6.49" height="1.65" fill="#9797ff"/>
<rect x="38.54" y="271.5" width="6.49" height="1.65" fill="#a7a7ff"/>
<rect x="44.99" y="271.5" width="6.49" height="1.65" fill="#9c9cff"/>
<rect x="51.43" y="271.5" width="6.49" height="1.65" fill="#ffb1b1"/>
<rect x="57.88" y="271.5" width="6.49" height="1.65" fill="#ff9d9d"/>
<rect x="64.32" y="271.5" width="6.49" height="1.65" fill="#ffb8b8"/>
<rect x="70.77" y="271.5" width="6.49" height="1.65" fill="#ffe8e8"/>
<rect x="77.21" y="271.5" width="6.49" height="1.65" fill="#ffeaea"/>
<rect x="83.66" y="271.5" width="6.49" height="1.65" fill="#ffdede"/>
<rect x="32.1" y="273.1" width="6.49" height="1.65" fill="#9393ff"/>
<rect x="38.54" y="273.1" width="6.49" height="1.65" fill="#8787ff"/>
<rect x="44.99" y="273.1" width="6.49" height="1.65" fill="#9393ff"/>
<rect x="51.43" y="273.1" width="6.49" height="1.65" fill="#ffc5c5"/>
<rect x="57.88" y="273.1" width="6.49" height="1.65" fill="#ffdcdc"/>
<rect x="64.32" y="273.1" width="6.49" height="1.65" fill="#ffd4d4"/>
<rect x="70.77" y="273.1" width="6.49" height="1.65" fill="#ffc4c4"/>
<rect x="77.21" y="273.1" width="6.49" height="1.65" fill="#ffcece"/>
<rect x="83.66" y="273.1" width="6.49" height="1.65" fill="#ffe2e2"/>
<rect x="32.1" y="274.7" width="6.49" height="1.65" fill="#b8b8ff"/>
<rect x="38.54" y="274.7" width="6.49" height="1.65" fill="#9494ff"/>
<rect x="44.99" y="274.7" width="6.49" height="1.65" fill="#a8a8ff"/>
<rect x="51.43" y="274.7" width="6.49" height="1.65" fill="#ffa8a8"/>
<rect x="57.88" y="274.7" width="6.49" height="1.65" fill="#ffabab"/>
<rect x="64.32" y="274.7" width="6.49" height="1.65" fill="#ffb9b9"/>
<rect x="70.77" y="274.7" width="6.49" height="1.65" fill="#fff2f2"/>
<rect x="77.21" y="274.7" width="6.49" height="1.65" fill="#ffe0e0"/>
<rect x="83.66" y="274.7" width="6.49" height="1.65" fill="#fff2f2"/>
<rect x="32.1" y="276.3" width="6.49" height="1.65" fill="#9e9eff"/>
<rect x="38.54" y="276.3" width="6.49" height="1.65" fill="#b5b5ff"/>
<rect x="44.99" y="276.3" width="6.49" height="1.65" fill="#b7b7ff"/>
<rect x="51.43" y="276.3" width="6.49" height="1.65" fill="#ffbaba"/>
<rect x="57.88" y="276.3" width="6.49" height="1.65" fill="#ffc9c9"/>
<rect x="64.32" y="276.3" width="6.49" height="1.65" fill="#ffdbdb"/>
<rect x="70.77" y="276.3" width="6.49" height="1.65" fill="#ffcdcd"/>
<rect x="77.21" y="276.3" width="6.49" height="1.65" fill="#ffe1e1"/>
<rect x="83.66" y="276.3" width="6.49" height="1.65" fill="#ffe0e0"/>
<rect x="32.1" y="277.9" width="6.49" height="1.65" fill="#a3a3ff"/>
<rect x="38.54" y="277.9" width="6.49" height="1.65" fill="#9d9dff"/>
<rect x="44.99" y="277.9" width="6.49" height="1.65" fill="#9090ff"/>
<rect x="51.43" y="277.9" width="6.49" height="1.65" fill="#ffb8b8"/>
<rect x="57.88" y="277.9" width="6.49" height="1.65" fill="#ffcbcb"/>
<rect x="64.32" y="277.9" width="6.49" height="1.65" fill="#ffcdcd"/>
<rect x="70.77" y="277.9" width="6.49" height="1.65" fill="#ffc7c7"/>
<rect x="77.21" y="277.9" width="6.49" height="1.65" fill="#ffdcdc"/>
<rect x="83.66" y="277.9" width="6.49" height="1.65" fill="#ffd7d7"/>
<rect x="32.1" y="279.5" width="6.49" height="1.65" fill="#9595ff"/>
<rect x="38.54" y="279.5" width="6.49" height="1.65" fill="#8a8aff"/>
<rect x="44.99" y="279.5" width="6.49" height="1.65" fill="#8888ff"/>
<rect x="51.43" y="279.5" width="6.49" height="1.65" fill="#ffc6c6"/>
<rect x="57.88" y="279.5" width="6.49" height="1.65" fill="#ffabab"/>
<rect x="64.32" y="279.5" width="6.49" height="1.65" fill="#ffa9a9"/>
<rect x="70.77" y="279.5" width="6.49" height="1.65" fill="#ffd9d9"/>
<rect x="77.21" y="279.5" width="6.49" height="1.65" fill="#ffe5e5"/>
<rect x="83.66" y="279.5" width="6.49" height="1.65" fill="#ffdbdb"/>
<rect x="32.1" y="281.1" width="6.49" height="1.65" fill="#a5a5ff"/>
<rect x="38.54" y="281.1" width="6.49" height="1.65" fill="#9999ff"/>
<rect x="44.99" y="281.1" width="6.49" height="1.65" fill="#9b9bff"/>
<rect x="51.43" y="281.1" width="6.49" height="1.65" fill="#ffd2d2"/>
<rect x="57.88" y="281.1" width="6.49" height="1.65" fill="#ffc6c6"/>
<rect x="64.32" y="281.1" width="6.49" height="1.65" fill="#ffd6d6"/>
<rect x="70.77" y="281.1" width="6.49" height="1.65" fill="#ffd0d0"/>
<rect x="77.21" y="281.1" width="6.49" height="1.65" fill="#ffd8d8"/>
<rect x="83.66" y="281.1" width="6.49" height="1.65" fill="#ffd2d2"/>
<rect x="32.1" y="282.7" width="6.49" height="1.65" fill="#9595ff"/>
<rect x="38.54" y="282.7" width="6.49" height="1.65" fill="#9e9eff"/>
<rect x="44.99" y="282.7" width="6.49" height="1.65" fill="#9696ff"/>
<rect x="51.43" y="282.7" width="6.49" height="1.65" fill="#ffcbcb"/>
<rect x="57.88" y="282.7" width="6.49" height="1.65" fill="#ffb9b9"/>
<rect x="64.32" y="282.7" width="6.49" height="1.65" fill="#ffdddd"/>
<rect x="70.77" y="282.7" width="6.49" height="1.65" fill="#ffc7c7"/>
<rect x="77.21" y="282.7" width="6.49" height="1.65" fill="#ffdcdc"/>
<rect x="83.66" y="282.7" width="6.49" height="1.65" fill="#fff6f6"/>
<rect x="32.1" y="284.3" width="6.49" height="1.65" fill="#b5b5ff"/>
<rect x="38.54" y="284.3" width="6.49" height="1.65" fill="#b8b8ff"/>
<rect x="44.99" y="284.3" width="6.49" height="1.65" fill="#a8a8ff"/>
<rect x="51.43" y="284.3" width="6.49" height="1.65" fill="#ffc5c5"/>
<rect x="57.88" y="284.3" width="6.49" height="1.65" fill="#ffb9b9"/>
<rect x="64.32" y="284.3" width="6.49" height="1.65" fill="#ffc2c2"/>
<rect x="70.77" y="284.3" width="6.49" height="1.65" fill="#ffb4b4"/>
<rect x="77.21" y="284.3" width="6.49" height="1.65" fill="#ffbfbf"/>
<rect x="83.66" y="284.3" width="6.49" height="1.65" fill="#ffadad"/>
<rect x="32.1" y="285.9" width="6.49" height="1.65" fill="#a5a5ff"/>
<rect x="38.54" y="285.9" width="6.49" height="1.65" fill="#8f8fff"/>
<rect x="44.99" y="285.9" width="6.49" height="1.65" fill="#9d9dff"/>
<rect x="51.43" y="285.9" width="6.49" height="1.65" fill="#ffd9d9"/>
<rect x="57.88" y="285.9" width="6.49" height="1.65" fill="#ffe3e3"/>
<rect x="64.32" y="285.9" width="6.49" height="1.65" fill="#ffe3e3"/>
<rect x="70.77" y="285.9" width="6.49" height="1.65" fill="#ffe4e4"/>
<rect x="77.21" y="285.9" width="6.49" height="1.65" fill="#ffe4e4"/>
<rect x="83.66" y="285.9" width="6.49" height="1.65" fill="#ffdcdc"/>
<rect x="32.1" y="287.5" width="6.49" height="1.65" fill="#9a9aff"/>
<rect x="38.54" y="287.5" width="6.49" height="1.65" fill="#a1a1ff"/>
<rect x="44.99" y="287.5" width="6.49" height="1.65" fill="#b1b1ff"/>
<rect x="51.43" y="287.5" width="6.49" height="1.65" fill="#ffa5a5"/>
<rect x="57.88" y="287.5" width="6.49" height="1.65" fill="#ffb4b4"/>
<rect x="64.32" y="287.5" width="6.49" height="1.65" fill="#ffabab"/>
<rect x="70.77" y="287.5" width="6.49" height="1.65" fill="#fff6f6"/>
<rect x="77.21" y="287.5" width="6.49" height="1.65" fill="#fff7f7"/>
<rect x="83.66" y="287.5" width="6.49" height="1.65" fill="#fff5f5"/>
<rect x="32.1" y="289.1" width="6.49" height="1.65" fill="#9595ff"/>
<rect x="38.54" y="289.1" width="6.49" height="1.65" fill="#8787ff"/>
<rect x="44.99" y="289.1" width="6.49" height="1.65" fill="#a3a3ff"/>
<rect x="51.43" y="289.1" width="6.49" height="1.65" fill="#ff9e9e"/>
<rect x="57.88" y="289.1" width="6.49" height="1.65" fill="#ff9898"/>
<rect x="64.32" y="289.1" width="6.49" height="1.65" fill="#ff9797"/>
<rect x="70.77" y="289.1" width="6.49" height="1.65" fill="#ffecec"/>
<rect x="77.21" y="289.1" width="6.49" height="1.65" fill="#fffdfd"/>
<rect x="83.66" y="289.1" width="6.49" height="1.65" fill="#fff1f1"/>
<rect x="32.1" y="290.7" width="6.49" height="1.65" fill="#a4a4ff"/>
<rect x="38.54" y="290.7" width="6.49" height="1.65" fill="#a3a3ff"/>
<rect x="44.99" y="290.7" width="6.49" height="1.65" fill="#a8a8ff"/>
<rect x="51.43" y="290.7" width="6.49" height="1.65" fill="#ff9595"/>
<rect x="57.88" y="290.7" width="6.49" height="1.65" fill="#ff9191"/>
<rect x="64.32" y="290.7" width="6.49" height="1.65" fill="#ff9292"/>
<rect x="70.77" y="290.7" width="6.49" height="1.65" fill="#ffdcdc"/>
<rect x="77.21" y="290.7" width="6.49" height="1.65" fill="#ffdbdb"/>
<rect x="83.66" y="290.7" width="6.49" height="1.65" fill="#ffd4d4"/>
<rect x="32.1" y="292.3" width="6.49" height="1.65" fill="#aeaeff"/>
<rect x="38.54" y="292.3" width="6.49" height="1.65" fill="#a6a6ff"/>
<rect x="44.99" y="292.3" width="6.49" height="1.65" fill="#9b9bff"/>
<rect x="51.43" y="292.3" width="6.49" height="1.65" fill="#ffb7b7"/>
<rect x="57.88" y="292.3" width="6.49" height="1.65" fill="#ffb7b7"/>
<rect x="64.32" y="292.3" width="6.49" height="1.65" fill="#ffadad"/>
<rect x="70.77" y="292.3" width="6.49" height="1.65" fill="#fff0f0"/>
<rect x="77.21" y="292.3" width="6.49" height="1.65" fill="#ffd8d8"/>
<rect x="83.66" y="292.3" width="6.49" height="1.65" fill="#ffc0c0"/>
<rect x="32.1" y="293.9" width="6.49" height="1.65" fill="#ababff"/>
<rect x="38.54" y="293.9" width="6.49" height="1.65" fill="#8d8dff"/>
<rect x="44.99" y="293.9" width="6.49" height="1.65" fill="#9a9aff"/>
<rect x="51.43" y="293.9" width="6.49" height="1.65" fill="#ffa0a0"/>
<rect x="57.88" y="293.9" width="6.49" height="1.65" fill="#ffb7b7"/>
<rect x="64.32" y="293.9" width="6.49" height="1.65" fill="#ffafaf"/>
<rect x="70.77" y="293.9" width="6.49" height="1.65" fill="#fffefe"/>
<rect x="77.21" y="293.9" width="6.49" height="1.65" fill="#fafaff"/>
<rect x="83.66" y="293.9" width="6.49" height="1.65" fill="#ffeeee"/>
<rect x="32.1" y="295.5" width="6.49" height="1.65" fill="#a0a0ff"/>
<rect x="38.54" y="295.5" width="6.49" height="1.65" fill="#8383ff"/>
<rect x="44.99" y="295.5" width="6.49" height="1.65" fill="#9d9dff"/>
<rect x="51.43" y="295.5" width="6.49" height="1.65" fill="#ffc5c5"/>
<rect x="57.88" y="295.5" width="6.49" height="1.65" fill="#ffc5c5"/>
<rect x="64.32" y="295.5" width="6.49" height="1.65" fill="#ffa6a6"/>
<rect x="70.77" y="295.5" width="6.49" height="1.65" fill="#fffefe"/>
<rect x="77.21" y="295.5" width="6.49" height="1.65" fill="#fffdfd"/>
<rect x="83.66" y="295.5" width="6.49" height="1.65" fill="#ffe2e2"/>
<rect x="32.1" y="297.1" width="6.49" height="1.65" fill="#adadff"/>
<rect x="38.54" y="297.1" width="6.49" height="1.65" fill="#b6b6ff"/>
<rect x="44.99" y="297.1" width="6.49" height="1.65" fill="#b3b3ff"/>
<rect x="51.43" y="297.1" width="6.49" height="1.65" fill="#ffa4a4"/>
<rect x="57.88" y="297.1" width="6.49" height="1.65" fill="#ffaaaa"/>
<rect x="64.32" y="297.1" width="6.49" height="1.65" fill="#ffa1a1"/>
<rect x="70.77" y="297.1" width="6.49" height="1.65" fill="#fcfcff"/>
<rect x="77.21" y="297.1" width="6.49" height="1.65" fill="#ffe9e9"/>
<rect x="83.66" y="297.1" width="6.49" height="1.65" fill="#fffafa"/>
<rect x="32.1" y="298.7" width="6.49" height="1.65" fill="#9191ff"/>
<rect x="38.54" y="298.7" width="6.49" height="1.65" fill="#8787ff"/>
<rect x="44.99" y="298.7" width="6.49" height="1.65" fill="#8e8eff"/>
<rect x="51.43" y="298.7" width="6.49" height="1.65" fill="#ffb8b8"/>
<rect x="57.88" y="298.7" width="6.49" height="1.65" fill="#ffbbbb"/>
<rect x="64.32" y="298.7" width="6.49" height="1.65" fill="#ff9b9b"/>
<rect x="70.77" y="298.7" width="6.49" height="1.65" fill="#fff9f9"/>
<rect x="77.21" y="298.7" width="6.49" height="1.65" fill="#fff0f0"/>
<rect x="83.66" y="298.7" width="6.49" height="1.65" fill="#ffe6e6"/>
<rect x="32.1" y="300.3" width="6.49" height="1.65" fill="#9e9eff"/>
<rect x="38.54" y="300.3" width="6.49" height="1.65" fill="#a4a4ff"/>
<rect x="44.99" y="300.3" width="6.49" height="1.65" fill="#a1a1ff"/>
<rect x="51.43" y="300.3" width="6.49" height="1.65" fill="#ff9898"/>
<rect x="57.88" y="300.3" width="6.49" height="1.65" fill="#ff9595"/>
<rect x="64.32" y="300.3" width="6.49" height="1.65" fill="#ff8d8d"/>
<rect x="70.77" y="300.3" width="6.49" height="1.65" fill="#fffefe"/>
<rect x="77.21" y="300.3" width="6.49" height="1.65" fill="#ffecec"/>
<rect x="83.66" y="300.3" width="6.49" height="1.65" fill="#ffebeb"/>
<rect x="32.1" y="301.9" width="6.49" height="1.65" fill="#8c8cff"/>
<rect x="38.54" y="301.9" width="6.49" height="1.65" fill="#7b7bff"/>
<rect x="44.99" y="301.9" width="6.49" height="1.65" fill="#8d8dff"/>
<rect x="51.43" y="301.9" width="6.49" height="1.65" fill="#ffbaba"/>
<rect x="57.88" y="301.9" width="6.49" height="1.65" fill="#ffb7b7"/>
<rect x="64.32" y="301.9" width="6.49" height="1.65" fill="#ff9d9d"/>
<rect x="70.77" y="301.9" width="6.49" height="1.65" fill="#fffefe"/>
<rect x="77.21" y="301.9" width="6.49" height="1.65" fill="#fffcfc"/>
<rect x="83.66" y="301.9" width="6.49" height="1.65" fill="#ffeaea"/>
<rect x="32.1" y="303.5" width="6.49" height="1.65" fill="#8282ff"/>
<rect x="38.54" y="303.5" width="6.49" height="1.65" fill="#8c8cff"/>
<rect x="44.99" y="303.5" width="6.49" height="1.65" fill="#8a8aff"/>
<rect x="51.43" y="303.5" width="6.49" height="1.65" fill="#ffb3b3"/>
<rect x="57.88" y="303.5" width="6.49" height="1.65" fill="#ffb7b7"/>
<rect x="64.32" y="303.5" width="6.49" height="1.65" fill="#ffacac"/>
<rect x="70.77" y="303.5" width="6.49" height="1.65" fill="#ffe9e9"/>
<rect x="77.21" y="303.5" width="6.49" height="1.65" fill="#fff5f5"/>
<rect x="83.66" y="303.5" width="6.49" height="1.65" fill="#ffe8e8"/>
<rect x="32.1" y="305.1" width="6.49" height="1.65" fill="#9c9cff"/>
<rect x="38.54" y="305.1" width="6.49" height="1.65" fill="#8e8eff"/>
<rect x="44.99" y="305.1" width="6.49" height="1.65" fill="#9393ff"/>
<rect x="51.43" y="305.1" width="6.49" height="1.65" fill="#ffaeae"/>
<rect x="57.88" y="305.1" width="6.49" height="1.65" fill="#ffa9a9"/>
<rect x="64.32" y="305.1" width="6.49" height="1.65" fill="#ff9898"/>
<rect x="70.77" y="305.1" width="6.49" height="1.65" fill="#ffeaea"/>
<rect x="77.21" y="305.1" width="6.49" height="1.65" fill="#ffe4e4"/>
<rect x="83.66" y="305.1" width="6.49" height="1.65" fill="#ffd4d4"/>
<rect x="32.1" y="306.7" width="6.49" height="1.65" fill="#9797ff"/>
<rect x="38.54" y="306.7" width="6.49" height="1.65" fill="#adadff"/>
<rect x="44.99" y="306.7" width="6.49" height="1.65" fill="#9494ff"/>
<rect x="51.43" y="306.7" width="6.49" height="1.65" fill="#ffbaba"/>
<rect x="57.88" y="306.7" width="6.49" height="1.65" fill="#ffc1c1"/>
<rect x="64.32" y="306.7" width="6.49" height="1.65" fill="#ffb3b3"/>
<rect x="70.77" y="306.7" width="6.49" height="1.65" fill="#fff9f9"/>
<rect x="77.21" y="306.7" width="6.49" height="1.65" fill="#fffdfd"/>
<rect x="83.66" y="306.7" width="6.49" height="1.65" fill="#ffe9e9"/>
<rect x="32.1" y="308.3" width="6.49" height="1.65" fill="#9f9fff"/>
<rect x="38.54" y="308.3" width="6.49" height="1.65" fill="#a7a7ff"/>
<rect x="44.99" y="308.3" width="6.49" height="1.65" fill="#a8a8ff"/>
<rect x="51.43" y="308.3" width="6.49" height="1.65" fill="#ffa7a7"/>
<rect x="57.88" y="308.3" width="6.49" height="1.65" fill="#ffc0c0"/>
<rect x="64.32" y="308.3" width="6.49" height="1.65" fill="#ff9898"/>
<rect x="70.77" y="308.3" width="6.49" height="1.65" fill="#fff1f1"/>
<rect x="77.21" y="308.3" width="6.49" height="1.65" fill="#fff1f1"/>
<rect x="83.66" y="308.3" width="6.49" height="1.65" fill="#ffeded"/>
<rect x="32.1" y="309.9" width="6.49" height="1.65" fill="#a3a3ff"/>
<rect x="38.54" y="309.9" width="6.49" height="1.65" fill="#a2a2ff"/>
<rect x="44.99" y="309.9" width="6.49" height="1.65" fill="#9898ff"/>
<rect x="51.43" y="309.9" width="6.49" height="1.65" fill="#ffe3e3"/>
<rect x="57.88" y="309.9" width="6.49" height="1.65" fill="#ffe9e9"/>
<rect x="64.32" y="309.9" width="6.49" height="1.65" fill="#ffa1a1"/>
<rect x="70.77" y="309.9" width="6.49" height="1.65" fill="#ffe8e8"/>
<rect x="77.21" y="309.9" width="6.49" height="1.65" fill="#f5f5ff"/>
<rect x="83.66" y="309.9" width="6.49" height="1.65" fill="#ffe9e9"/>
<rect x="32.1" y="311.5" width="6.49" height="1.65" fill="#8d8dff"/>
<rect x="38.54" y="311.5" width="6.49" height="1.65" fill="#9191ff"/>
<rect x="44.99" y="311.5" width="6.49" height="1.65" fill="#9595ff"/>
<rect x="51.43" y="311.5" width="6.49" height="1.65" fill="#ffc6c6"/>
<rect x="57.88" y="311.5" width="6.49" height="1.65" fill="#ffcccc"/>
<rect x="64.32" y="311.5" width="6.49" height="1.65" fill="#ff8585"/>
<rect x="70.77" y="311.5" width="6.49" height="1.65" fill="#f6f6ff"/>
<rect x="77.21" y="311.5" width="6.49" height="1.65" fill="#fff9f9"/>
<rect x="83.66" y="311.5" width="6.49" height="1.65" fill="#f9f9ff"/>
<rect x="32.1" y="313.1" width="6.49" height="1.65" fill="#8c8cff"/>
<rect x="38.54" y="313.1" width="6.49" height="1.65" fill="#9696ff"/>
<rect x="44.99" y="313.1" width="6.49" height="1.65" fill="#9797ff"/>
<rect x="51.43" y="313.1" width="6.49" height="1.65" fill="#ffd9d9"/>
<rect x="57.88" y="313.1" width="6.49" height="1.65" fill="#ffecec"/>
<rect x="64.32" y="313.1" width="6.49" height="1.65" fill="#ffa9a9"/>
<rect x="70.77" y="313.1" width="6.49" height="1.65" fill="#fbfbff"/>
<rect x="77.21" y="313.1" width="6.49" height="1.65" fill="#fdfdff"/>
<rect x="83.66" y="313.1" width="6.49" height="1.65" fill="#ececff"/>
<rect x="32.1" y="314.7" width="6.49" height="1.65" fill="#aaaaff"/>
<rect x="38.54" y="314.7" width="6.49" height="1.65" fill="#a3a3ff"/>
<rect x="44.99" y="314.7" width="6.49" height="1.65" fill="#a5a5ff"/>
<rect x="51.43" y="314.7" width="6.49" height="1.65" fill="#ffcfcf"/>
<rect x="57.88" y="314.7" width="6.49" height="1.65" fill="#ffc9c9"/>
<rect x="64.32" y="314.7" width="6.49" height="1.65" fill="#ff8787"/>
<rect x="70.77" y="314.7" width="6.49" height="1.65" fill="#ffe0e0"/>
<rect x="77.21" y="314.7" width="6.49" height="1.65" fill="#ffdcdc"/>
<rect x="83.66" y="314.7" width="6.49" height="1.65" fill="#ffe2e2"/>
<rect x="32.1" y="316.3" width="6.49" height="1.65" fill="#8888ff"/>
<rect x="38.54" y="316.3" width="6.49" height="1.65" fill="#9b9bff"/>
<rect x="44.99" y="316.3" width="6.49" height="1.65" fill="#9494ff"/>
<rect x="51.43" y="316.3" width="6.49" height="1.65" fill="#ffcfcf"/>
<rect x="57.88" y="316.3" width="6.49" height="1.65" fill="#ffecec"/>
<rect x="64.32" y="316.3" width="6.49" height="1.65" fill="#ff9696"/>
<rect x="70.77" y="316.3" width="6.49" height="1.65" fill="#ffdbdb"/>
<rect x="77.21" y="316.3" width="6.49" height="1.65" fill="#fff4f4"/>
<rect x="83.66" y="316.3" width="6.49" height="1.65" fill="#ffe5e5"/>
<rect x="32.1" y="317.9" width="6.49" height="1.65" fill="#8585ff"/>
<rect x="38.54" y="317.9" width="6.49" height="1.65" fill="#9e9eff"/>
<rect x="44.99" y="317.9" width="6.49" height="1.65" fill="#9090ff"/>
<rect x="51.43" y="317.9" width="6.49" height="1.65" fill="#ffdbdb"/>
<rect x="57.88" y="317.9" width="6.49" height="1.65" fill="#fff0f0"/>
<rect x="64.32" y="317.9" width="6.49" height="1.65" fill="#ffacac"/>
<rect x="70.77" y="317.9" width="6.49" height="1.65" fill="#ffd8d8"/>
<rect x="77.21" y="317.9" width="6.49" height="1.65" fill="#fdfdff"/>
<rect x="83.66" y="317.9" width="6.49" height="1.65" fill="#fff9f9"/>
<rect x="32.1" y="319.5" width="6.49" height="1.65" fill="#8b8bff"/>
<rect x="38.54" y="319.5" width="6.49" height="1.65" fill="#8181ff"/>
<rect x="44.99" y="319.5" width="6.49" height="1.65" fill="#9999ff"/>
<rect x="51.43" y="319.5" width="6.49" height="1.65" fill="#ffbaba"/>
<rect x="57.88" y="319.5" width="6.49" height="1.65" fill="#ffc2c2"/>
<rect x="64.32" y="319.5" width="6.49" height="1.65" fill="#ff7d7d"/>
<rect x="70.77" y="319.5" width="6.49" height="1.65" fill="#ffe2e2"/>
<rect x="77.21" y="319.5" width="6.49" height="1.65" fill="#ffe6e6"/>
<rect x="83.66" y="319.5" width="6.49" height="1.65" fill="#ffecec"/>
<rect x="32.1" y="321.1" width="6.49" height="1.65" fill="#a0a0ff"/>
<rect x="38.54" y="321.1" width="6.49" height="1.65" fill="#9999ff"/>
<rect x="44.99" y="321.1" width="6.49" height="1.65" fill="#a3a3ff"/>
<rect x="51.43" y="321.1" width="6.49" height="1.65" fill="#ffcccc"/>
<rect x="57.88" y="321.1" width="6.49" height="1.65" fill="#ffdddd"/>
<rect x="64.32" y="321.1" width="6.49" height="1.65" fill="#ffadad"/>
<rect x="70.77" y="321.1" width="6.49" height="1.65" fill="#ffd7d7"/>
<rect x="77.21" y="321.1" width="6.49" height="1.65" fill="#ffd8d8"/>
<rect x="83.66" y="321.1" width="6.49" height="1.65" fill="#ffe4e4"/>
<rect x="32.1" y="322.7" width="6.49" height="1.65" fill="#9f9fff"/>
<rect x="38.54" y="322.7" width="6.49" height="1.65" fill="#9c9cff"/>
<rect x="44.99" y="322.7" width="6.49" height="1.65" fill="#a2a2ff"/>
<rect x="51.43" y="322.7" width="6.49" height="1.65" fill="#ffd1d1"/>
<rect x="57.88" y="322.7" width="6.49" height="1.65" fill="#ffcbcb"/>
<rect x="64.32" y="322.7" width="6.49" height="1.65" fill="#ff8f8f"/>
<rect x="70.77" y="322.7" width="6.49" height="1.65" fill="#f6f6ff"/>
<rect x="77.21" y="322.7" width="6.49" height="1.65" fill="#ffffff"/>
<rect x="83.66" y="322.7" width="6.49" height="1.65" fill="#fff4f4"/>
<rect x="32.1" y="324.3" width="6.49" height="1.65" fill="#b3b3ff"/>
<rect x="38.54" y="324.3" width="6.49" height="1.65" fill="#a0a0ff"/>
<rect x="44.99" y="324.3" width="6.49" height="1.65" fill="#9191ff"/>
<rect x="51.43" y="324.3" width="6.49" height="1.65" fill="#ffc8c8"/>
<rect x="57.88" y="324.3" width="6.49" height="1.65" fill="#ffdede"/>
<rect x="64.32" y="324.3" width="6.49" height="1.65" fill="#ff9999"/>
<rect x="70.77" y="324.3" width="6.49" height="1.65" fill="#fffefe"/>
<rect x="77.21" y="324.3" width="6.49" height="1.65" fill="#f6f6ff"/>
<rect x="83.66" y="324.3" width="6.49" height="1.65" fill="#fefeff"/>
<rect x="32.1" y="325.9" width="6.49" height="1.65" fill="#9494ff"/>
<rect x="38.54" y="325.9" width="6.49" height="1.65" fill="#9595ff"/>
<rect x="44.99" y="325.9" width="6.49" height="1.65" fill="#a1a1ff"/>
<rect x="51.43" y="325.9" width="6.49" height="1.65" fill="#ffe8e8"/>
<rect x="57.88" y="325.9" width="6.49" height="1.65" fill="#fffbfb"/>
<rect x="64.32" y="325.9" width="6.49" height="1.65" fill="#ff9999"/>
<rect x="70.77" y="325.9" width="6.49" height="1.65" fill="#ffecec"/>
<rect x="77.21" y="325.9" width="6.49" height="1.65" fill="#ffecec"/>
<rect x="83.66" y="325.9" width="6.49" height="1.65" fill="#ffe6e6"/>
<rect x="32.1" y="327.5" width="6.49" height="1.65" fill="#ffe6e6"/>
<rect x="38.54" y="327.5" width="6.49" height="1.65" fill="#fff8f8"/>
<rect x="44.99" y="327.5" width="6.49" height="1.65" fill="#fff4f4"/>
<rect x="51.43" y="327.5" width="6.49" height="1.65" fill="#d7d7ff"/>
<rect x="57.88" y="327.5" width="6.49" height="1.65" fill="#c8c8ff"/>
<rect x="64.32" y="327.5" width="6.49" height="1.65" fill="#c6c6ff"/>
<rect x="70.77" y="327.5" width="6.49" height="1.65" fill="#d4d4ff"/>
<rect x="77.21" y="327.5" width="6.49" height="1.65" fill="#d8d8ff"/>
<rect x="83.66" y="327.5" width="6.49" height="1.65" fill="#ccccff"/>
<rect x="32.1" y="329.1" width="6.49" height="1.65" fill="#fdfdff"/>
<rect x="38.54" y="329.1" width="6.49" height="1.65" fill="#fcfcff"/>
<rect x="44.99" y="329.1" width="6.49" height="1.65" fill="#fffafa"/>
<rect x="51.43" y="329.1" width="6.49" height="1.65" fill="#c2c2ff"/>
<rect x="57.88" y="329.1" width="6.49" height="1.65" fill="#b9b9ff"/>
<rect x="64.32" y="329.1" width="6.49" height="1.65" fill="#c8c8ff"/>
<rect x="70.77" y="329.1" width="6.49" height="1.65" fill="#babaff"/>
<rect x="77.21" y="329.1" width="6.49" height="1.65" fill="#dfdfff"/>
<rect x="83.66" y="329.1" width="6.49" height="1.65" fill="#dfdfff"/>
<rect x="32.1" y="330.7" width="6.49" height="1.65" fill="#ffbebe"/>
<rect x="38.54" y="330.7" width="6.49" height="1.65" fill="#ffb1b1"/>
<rect x="44.99" y="330.7" width="6.49" height="1.65" fill="#ffb4b4"/>
<rect x="51.43" y="330.7" width="6.49" height="1.65" fill="#b6b6ff"/>
<rect x="57.88" y="330.7" width="6.49" height="1.65" fill="#c5c5ff"/>
<rect x="64.32" y="330.7" width="6.49" height="1.65" fill="#bdbdff"/>
<rect x="70.77" y="330.7" width="6.49" height="1.65" fill="#d4d4ff"/>
<rect x="77.21" y="330.7" width="6.49" height="1.65" fill="#e2e2ff"/>
<rect x="83.66" y="330.7" width="6.49" height="1.65" fill="#e2e2ff"/>
<rect x="32.1" y="332.3" width="6.49" height="1.65" fill="#ffb5b5"/>
<rect x="38.54" y="332.3" width="6.49" height="1.65" fill="#ff9c9c"/>
<rect x="44.99" y="332.3" width="6.49" height="1.65" fill="#ffa3a3"/>
<rect x="51.43" y="332.3" width="6.49" height="1.65" fill="#d9d9ff"/>
<rect x="57.88" y="332.3" width="6.49" height="1.65" fill="#d5d5ff"/>
<rect x="64.32" y="332.3" width="6.49" height="1.65" fill="#d9d9ff"/>
<rect x="70.77" y="332.3" width="6.49" height="1.65" fill="#e7e7ff"/>
<rect x="77.21" y="332.3" width="6.49" height="1.65" fill="#eaeaff"/>
<rect x="83.66" y="332.3" width="6.49" height="1.65" fill="#e8e8ff"/>
<rect x="32.1" y="333.9" width="6.49" height="1.65" fill="#ffb4b4"/>
<rect x="38.54" y="333.9" width="6.49" height="1.65" fill="#ff9898"/>
<rect x="44.99" y="333.9" width="6.49" height="1.65" fill="#ff9e9e"/>
<rect x="51.43" y="333.9" width="6.49" height="1.65" fill="#c9c9ff"/>
<rect x="57.88" y="333.9" width="6.49" height="1.65" fill="#dfdfff"/>
<rect x="64.32" y="333.9" width="6.49" height="1.65" fill="#cdcdff"/>
<rect x="70.77" y="333.9" width="6.49" height="1.65" fill="#d5d5ff"/>
<rect x="77.21" y="333.9" width="6.49" height="1.65" fill="#dfdfff"/>
<rect x="83.66" y="333.9" width="6.49" height="1.65" fill="#e3e3ff"/>
<rect x="32.1" y="335.5" width="6.49" height="1.65" fill="#ffadad"/>
<rect x="38.54" y="335.5" width="6.49" height="1.65" fill="#ff9898"/>
<rect x="44.99" y="335.5" width="6.49" height="1.65" fill="#ff8989"/>
<rect x="51.43" y="335.5" width="6.49" height="1.65" fill="#ddddff"/>
<rect x="57.88" y="335.5" width="6.49" height="1.65" fill="#eaeaff"/>
<rect x="64.32" y="335.5" width="6.49" height="1.65" fill="#ebebff"/>
<rect x="70.77" y="335.5" width="6.49" height="1.65" fill="#c7c7ff"/>
<rect x="77.21" y="335.5" width="6.49" height="1.65" fill="#d5d5ff"/>
<rect x="83.66" y="335.5" width="6.49" height="1.65" fill="#d3d3ff"/>
<rect x="32.1" y="337.1" width="6.49" height="1.65" fill="#ffd2d2"/>
<rect x="38.54" y="337.1" width="6.49" height="1.65" fill="#ffa5a5"/>
<rect x="44.99" y="337.1" width="6.49" height="1.65" fill="#ffacac"/>
<rect x="51.43" y="337.1" width="6.49" height="1.65" fill="#d2d2ff"/>
<rect x="57.88" y="337.1" width="6.49" height="1.65" fill="#d6d6ff"/>
<rect x="64.32" y="337.1" width="6.49" height="1.65" fill="#c7c7ff"/>
<rect x="70.77" y="337.1" width="6.49" height="1.65" fill="#c6c6ff"/>
<rect x="77.21" y="337.1" width="6.49" height="1.65" fill="#c0c0ff"/>
<rect x="83.66" y="337.1" width="6.49" height="1.65" fill="#c2c2ff"/>
<rect x="32.1" y="338.7" width="6.49" height="1.65" fill="#ffc0c0"/>
<rect x="38.54" y="338.7" width="6.49" height="1.65" fill="#ffb0b0"/>
<rect x="44.99" y="338.7" width="6.49" height="1.65" fill="#ffa5a5"/>
<rect x="51.43" y="338.7" width="6.49" height="1.65" fill="#d1d1ff"/>
<rect x="57.88" y="338.7" width="6.49" height="1.65" fill="#d5d5ff"/>
<rect x="64.32" y="338.7" width="6.49" height="1.65" fill="#dedeff"/>
<rect x="70.77" y="338.7" width="6.49" height="1.65" fill="#cbcbff"/>
<rect x="77.21" y="338.7" width="6.49" height="1.65" fill="#d3d3ff"/>
<rect x="83.66" y="338.7" width="6.49" height="1.65" fill="#ceceff"/>
<rect x="32.1" y="340.3" width="6.49" height="1.65" fill="#ff9191"/>
<rect x="38.54" y="340.3" width="6.49" height="1.65" fill="#ff9292"/>
<rect x="44.99" y="340.3" width="6.49" height="1.65" fill="#ff9191"/>
<rect x="51.43" y="340.3" width="6.49" height="1.65" fill="#e2e2ff"/>
<rect x="57.88" y="340.3" width="6.49" height="1.65" fill="#e2e2ff"/>
<rect x="64.32" y="340.3" width="6.49" height="1.65" fill="#f1f1ff"/>
<rect x="70.77" y="340.3" width="6.49" height="1.65" fill="#d9d9ff"/>
<rect x="77.21" y="340.3" width="6.49" height="1.65" fill="#f2f2ff"/>
<rect x="83.66" y="340.3" width="6.49" height="1.65" fill="#d5d5ff"/>
<rect x="32.1" y="341.9" width="6.49" height="1.65" fill="#ffc5c5"/>
<rect x="38.54" y="341.9" width="6.49" height="1.65" fill="#ffaaaa"/>
<rect x="44.99" y="341.9" width="6.49" height="1.65" fill="#ffa2a2"/>
<rect x="51.43" y="341.9" width="6.49" height="1.65" fill="#dadaff"/>
<rect x="57.88" y="341.9" width="6.49" height="1.65" fill="#e1e1ff"/>
<rect x="64.32" y="341.9" width="6.49" height="1.65" fill="#dcdcff"/>
<rect x="70.77" y="341.9" width="6.49" height="1.65" fill="#d1d1ff"/>
<rect x="77.21" y="341.9" width="6.49" height="1.65" fill="#d3d3ff"/>
<rect x="83.66" y="341.9" width="6.49" height="1.65" fill="#d1d1ff"/>
<rect x="32.1" y="343.5" width="6.49" height="1.65" fill="#ffb7b7"/>
<rect x="38.54" y="343.5" width="6.49" height="1.65" fill="#ffc7c7"/>
<rect x="44.99" y="343.5" width="6.49" height="1.65" fill="#ffb1b1"/>
<rect x="51.43" y="343.5" width="6.49" height="1.65" fill="#c0c0ff"/>
<rect x="57.88" y="343.5" width="6.49" height="1.65" fill="#c9c9ff"/>
<rect x="64.32" y="343.5" width="6.49" height="1.65" fill="#bfbfff"/>
<rect x="70.77" y="343.5" width="6.49" height="1.65" fill="#cfcfff"/>
<rect x="77.21" y="343.5" width="6.49" height="1.65" fill="#cbcbff"/>
<rect x="83.66" y="343.5" width="6.49" height="1.65" fill="#dcdcff"/>
<rect x="32.1" y="345.1" width="6.49" height="1.65" fill="#ffb4b4"/>
<rect x="38.54" y="345.1" width="6.49" height="1.65" fill="#ff9999"/>
<rect x="44.99" y="345.1" width="6.49" height="1.65" fill="#ff9c9c"/>
<rect x="51.43" y="345.1" width="6.49" height="1.65" fill="#d2d2ff"/>
<rect x="57.88" y="345.1" width="6.49" height="1.65" fill="#d9d9ff"/>
<rect x="64.32" y="345.1" width="6.49" height="1.65" fill="#dfdfff"/>
<rect x="70.77" y="345.1" width="6.49" height="1.65" fill="#c7c7ff"/>
<rect x="77.21" y="345.1" width="6.49" height="1.65" fill="#c6c6ff"/>
<rect x="83.66" y="345.1" width="6.49" height="1.65" fill="#e1e1ff"/>
<rect x="32.1" y="346.7" width="6.49" height="1.65" fill="#ffa8a8"/>
<rect x="38.54" y="346.7" width="6.49" height="1.65" fill="#ffacac"/>
<rect x="44.99" y="346.7" width="6.49" height="1.65" fill="#ff9d9d"/>
<rect x="51.43" y="346.7" width="6.49" height="1.65" fill="#bfbfff"/>
<rect x="57.88" y="346.7" width="6.49" height="1.65" fill="#bbbbff"/>
<rect x="64.32" y="346.7" width="6.49" height="1.65" fill="#d4d4ff"/>
<rect x="70.77" y="346.7" width="6.49" height="1.65" fill="#ceceff"/>
<rect x="77.21" y="346.7" width="6.49" height="1.65" fill="#d0d0ff"/>
<rect x="83.66" y="346.7" width="6.49" height="1.65" fill="#dbdbff"/>
<rect x="32.1" y="348.3" width="6.49" height="1.65" fill="#ff9292"/>
<rect x="38.54" y="348.3" width="6.49" height="1.65" fill="#ff9696"/>
<rect x="44.99" y="348.3" width="6.49" height="1.65" fill="#ffa7a7"/>
<rect x="51.43" y="348.3" width="6.49" height="1.65" fill="#d4d4ff"/>
<rect x="57.88" y="348.3" width="6.49" height="1.65" fill="#d7d7ff"/>
<rect x="64.32" y="348.3" width="6.49" height="1.65" fill="#d9d9ff"/>
<rect x="70.77" y="348.3" width="6.49" height="1.65" fill="#e2e2ff"/>
<rect x="77.21" y="348.3" width="6.49" height="1.65" fill="#d9d9ff"/>
<rect x="83.66" y="348.3" width="6.49" height="1.65" fill="#cbcbff"/>
<rect x="32.1" y="349.9" width="6.49" height="1.65" fill="#ff9797"/>
<rect x="38.54" y="349.9" width="6.49" height="1.65" fill="#ffa9a9"/>
<rect x="44.99" y="349.9" width="6.49" height="1.65" fill="#ffbfbf"/>
<rect x="51.43" y="349.9" width="6.49" height="1.65" fill="#cbcbff"/>
<rect x="57.88" y="349.9" width="6.49" height="1.65" fill="#ceceff"/>
<rect x="64.32" y="349.9" width="6.49" height="1.65" fill="#c5c5ff"/>
<rect x="70.77" y="349.9" width="6.49" height="1.65" fill="#ccccff"/>
<rect x="77.21" y="349.9" width="6.49" height="1.65" fill="#cdcdff"/>
<rect x="83.66" y="349.9" width="6.49" height="1.65" fill="#d8d8ff"/>
<rect x="32.1" y="351.5" width="6.49" height="1.65" fill="#ffb2b2"/>
<rect x="38.54" y="351.5" width="6.49" height="1.65" fill="#ffb4b4"/>
<rect x="44.99" y="351.5" width="6.49" height="1.65" fill="#ffafaf"/>
<rect x="51.43" y="351.5" width="6.49" height="1.65" fill="#dcdcff"/>
<rect x="57.88" y="351.5" width="6.49" height="1.65" fill="#c2c2ff"/>
<rect x="64.32" y="351.5" width="6.49" height="1.65" fill="#d5d5ff"/>
<rect x="70.77" y="351.5" width="6.49" height="1.65" fill="#d4d4ff"/>
<rect x="77.21" y="351.5" width="6.49" height="1.65" fill="#c5c5ff"/>
<rect x="83.66" y="351.5" width="6.49" height="1.65" fill="#d0d0ff"/>
<rect x="32.1" y="353.1" width="6.49" height="1.65" fill="#ffaeae"/>
<rect x="38.54" y="353.1" width="6.49" height="1.65" fill="#ffa1a1"/>
<rect x="44.99" y="353.1" width="6.49" height="1.65" fill="#ff8d8d"/>
<rect x="51.43" y="353.1" width="6.49" height="1.65" fill="#e5e5ff"/>
<rect x="57.88" y="353.1" width="6.49" height="1.65" fill="#d3d3ff"/>
<rect x="64.32" y="353.1" width="6.49" height="1.65" fill="#e0e0ff"/>
<rect x="70.77" y="353.1" width="6.49" height="1.65" fill="#cacaff"/>
<rect x="77.21" y="353.1" width="6.49" height="1.65" fill="#cacaff"/>
<rect x="83.66" y="353.1" width="6.49" height="1.65" fill="#d0d0ff"/>
<rect x="32.1" y="354.7" width="6.49" height="1.65" fill="#ffbcbc"/>
<rect x="38.54" y="354.7" width="6.49" height="1.65" fill="#ffb7b7"/>
<rect x="44.99" y="354.7" width="6.49" height="1.65" fill="#ffa7a7"/>
<rect x="51.43" y="354.7" width="6.49" height="1.65" fill="#d4d4ff"/>
<rect x="57.88" y="354.7" width="6.49" height="1.65" fill="#bfbfff"/>
<rect x="64.32" y="354.7" width="6.49" height="1.65" fill="#e3e3ff"/>
<rect x="70.77" y="354.7" width="6.49" height="1.65" fill="#e4e4ff"/>
<rect x="77.21" y="354.7" width="6.49" height="1.65" fill="#dadaff"/>
<rect x="83.66" y="354.7" width="6.49" height="1.65" fill="#f7f7ff"/>
<rect x="32.1" y="356.3" width="6.49" height="1.65" fill="#ffb2b2"/>
<rect x="38.54" y="356.3" width="6.49" height="1.65" fill="#ffa0a0"/>
<rect x="44.99" y="356.3" width="6.49" height="1.65" fill="#ffa9a9"/>
<rect x="51.43" y="356.3" width="6.49" height="1.65" fill="#cdcdff"/>
<rect x="57.88" y="356.3" width="6.49" height="1.65" fill="#ddddff"/>
<rect x="64.32" y="356.3" width="6.49" height="1.65" fill="#d9d9ff"/>
<rect x="70.77" y="356.3" width="6.49" height="1.65" fill="#d2d2ff"/>
<rect x="77.21" y="356.3" width="6.49" height="1.65" fill="#cbcbff"/>
<rect x="83.66" y="356.3" width="6.49" height="1.65" fill="#cfcfff"/>
<rect x="32.1" y="357.9" width="6.49" height="1.65" fill="#ff9f9f"/>
<rect x="38.54" y="357.9" width="6.49" height="1.65" fill="#ffa3a3"/>
<rect x="44.99" y="357.9" width="6.49" height="1.65" fill="#ff9999"/>
<rect x="51.43" y="357.9" width="6.49" height="1.65" fill="#eeeeff"/>
<rect x="57.88" y="357.9" width="6.49" height="1.65" fill="#f3f3ff"/>
<rect x="64.32" y="357.9" width="6.49" height="1.65" fill="#e3e3ff"/>
<rect x="70.77" y="357.9" width="6.49" height="1.65" fill="#d2d2ff"/>
<rect x="77.21" y="357.9" width="6.49" height="1.65" fill="#cacaff"/>
<rect x="83.66" y="357.9" width="6.49" height="1.65" fill="#cbcbff"/>
<rect x="32.1" y="359.5" width="6.49" height="1.65" fill="#ffaaaa"/>
<rect x="38.54" y="359.5" width="6.49" height="1.65" fill="#ffaaaa"/>
<rect x="44.99" y="359.5" width="6.49" height="1.65" fill="#ffadad"/>
<rect x="51.43" y="359.5" width="6.49" height="1.65" fill="#aaaaff"/>
<rect x="57.88" y="359.5" width="6.49" height="1.65" fill="#c6c6ff"/>
<rect x="64.32" y="359.5" width="6.49" height="1.65" fill="#ababff"/>
<rect x="70.77" y="359.5" width="6.49" height="1.65" fill="#ddddff"/>
<rect x="77.21" y="359.5" width="6.49" height="1.65" fill="#d0d0ff"/>
<rect x="83.66" y="359.5" width="6.49" height="1.65" fill="#cbcbff"/>
<rect x="32.1" y="361.1" width="6.49" height="1.65" fill="#ffa3a3"/>
<rect x="38.54" y="361.1" width="6.49" height="1.65" fill="#ff8f8f"/>
<rect x="44.99" y="361.1" width="6.49" height="1.65" fill="#ff9696"/>
<rect x="51.43" y="361.1" width="6.49" height="1.65" fill="#ededff"/>
<rect x="57.88" y="361.1" width="6.49" height="1.65" fill="#d0d0ff"/>
<rect x="64.32" y="361.1" width="6.49" height="1.65" fill="#dfdfff"/>
<rect x="70.77" y="361.1" width="6.49" height="1.65" fill="#b8b8ff"/>
<rect x="77.21" y="361.1" width="6.49" height="1.65" fill="#d4d4ff"/>
<rect x="83.66" y="361.1" width="6.49" height="1.65" fill="#bdbdff"/>
<rect x="32.1" y="362.7" width="6.49" height="1.65" fill="#ffb4b4"/>
<rect x="38.54" y="362.7" width="6.49" height="1.65" fill="#ffabab"/>
<rect x="44.99" y="362.7" width="6.49" height="1.65" fill="#ffa5a5"/>
<rect x="51.43" y="362.7" width="6.49" height="1.65" fill="#d1d1ff"/>
<rect x="57.88" y="362.7" width="6.49" height="1.65" fill="#bdbdff"/>
<rect x="64.32" y="362.7" width="6.49" height="1.65" fill="#ccccff"/>
<rect x="70.77" y="362.7" width="6.49" height="1.65" fill="#dfdfff"/>
<rect x="77.21" y="362.7" width="6.49" height="1.65" fill="#d3d3ff"/>
<rect x="83.66" y="362.7" width="6.49" height="1.65" fill="#dbdbff"/>
<rect x="32.1" y="364.3" width="6.49" height="1.65" fill="#ffa1a1"/>
<rect x="38.54" y="364.3" width="6.49" height="1.65" fill="#ff9d9d"/>
<rect x="44.99" y="364.3" width="6.49" height="1.65" fill="#ffa7a7"/>
<rect x="51.43" y="364.3" width="6.49" height="1.65" fill="#d4d4ff"/>
<rect x="57.88" y="364.3" width="6.49" height="1.65" fill="#d5d5ff"/>
<rect x="64.32" y="364.3" width="6.49" height="1.65" fill="#e0e0ff"/>
<rect x="70.77" y="364.3" width="6.49" height="1.65" fill="#ceceff"/>
<rect x="77.21" y="364.3" width="6.49" height="1.65" fill="#c5c5ff"/>
<rect x="83.66" y="364.3" width="6.49" height="1.65" fill="#d0d0ff"/>
<rect x="32.1" y="365.9" width="6.49" height="1.65" fill="#ffa3a3"/>
<rect x="38.54" y="365.9" width="6.49" height="1.65" fill="#ffa2a2"/>
<rect x="44.99" y="365.9" width="6.49" height="1.65" fill="#ff9393"/>
<rect x="51.43" y="365.9" width="6.49" height="1.65" fill="#c4c4ff"/>
<rect x="57.88" y="365.9" width="6.49" height="1.65" fill="#9d9dff"/>
<rect x="64.32" y="365.9" width="6.49" height="1.65" fill="#bdbdff"/>
<rect x="70.77" y="365.9" width="6.49" height="1.65" fill="#cacaff"/>
<rect x="77.21" y="365.9" width="6.49" height="1.65" fill="#dedeff"/>
<rect x="83.66" y="365.9" width="6.49" height="1.65" fill="#f0f0ff"/>
<rect x="32.1" y="367.5" width="6.49" height="1.65" fill="#ffa0a0"/>
<rect x="38.54" y="367.5" width="6.49" height="1.65" fill="#ff9393"/>
<rect x="44.99" y="367.5" width="6.49" height="1.65" fill="#ffa9a9"/>
<rect x="51.43" y="367.5" width="6.49" height="1.65" fill="#d9d9ff"/>
<rect x="57.88" y="367.5" width="6.49" height="1.65" fill="#bdbdff"/>
<rect x="64.32" y="367.5" width="6.49" height="1.65" fill="#cdcdff"/>
<rect x="70.77" y="367.5" width="6.49" height="1.65" fill="#e0e0ff"/>
<rect x="77.21" y="367.5" width="6.49" height="1.65" fill="#d7d7ff"/>
<rect x="83.66" y="367.5" width="6.49" height="1.65" fill="#cbcbff"/>
<rect x="32.1" y="369.1" width="6.49" height="1.65" fill="#ffb9b9"/>
<rect x="38.54" y="369.1" width="6.49" height="1.65" fill="#ffa1a1"/>
<rect x="44.99" y="369.1" width="6.49" height="1.65" fill="#ffa0a0"/>
<rect x="51.43" y="369.1" width="6.49" height="1.65" fill="#d0d0ff"/>
<rect x="57.88" y="369.1" width="6.49" height="1.65" fill="#cbcbff"/>
<rect x="64.32" y="369.1" width="6.49" height="1.65" fill="#dadaff"/>
<rect x="70.77" y="369.1" width="6.49" height="1.65" fill="#e0e0ff"/>
<rect x="77.21" y="369.1" width="6.49" height="1.65" fill="#dfdfff"/>
<rect x="83.66" y="369.1" width="6.49" height="1.65" fill="#e1e1ff"/>
<rect x="32.1" y="370.7" width="6.49" height="1.65" fill="#ffb0b0"/>
<rect x="38.54" y="370.7" width="6.49" height="1.65" fill="#ffb0b0"/>
<rect x="44.99" y="370.7" width="6.49" height="1.65" fill="#ffb9b9"/>
<rect x="51.43" y="370.7" width="6.49" height="1.65" fill="#e2e2ff"/>
<rect x="57.88" y="370.7" width="6.49" height="1.65" fill="#dadaff"/>
<rect x="64.32" y="370.7" width="6.49" height="1.65" fill="#eaeaff"/>
<rect x="70.77" y="370.7" width="6.49" height="1.65" fill="#ccccff"/>
<rect x="77.21" y="370.7" width="6.49" height="1.65" fill="#e4e4ff"/>
<rect x="83.66" y="370.7" width="6.49" height="1.65" fill="#ddddff"/>
<rect x="32.1" y="372.3" width="6.49" height="1.65" fill="#ffb2b2"/>
<rect x="38.54" y="372.3" width="6.49" height="1.65" fill="#ffa6a6"/>
<rect x="44.99" y="372.3" width="6.49" height="1.65" fill="#ffa7a7"/>
<rect x="51.43" y="372.3" width="6.49" height="1.65" fill="#b8b8ff"/>
<rect x="57.88" y="372.3" width="6.49" height="1.65" fill="#bfbfff"/>
<rect x="64.32" y="372.3" width="6.49" height="1.65" fill="#bebeff"/>
<rect x="70.77" y="372.3" width="6.49" height="1.65" fill="#c9c9ff"/>
<rect x="77.21" y="372.3" width="6.49" height="1.65" fill="#d5d5ff"/>
<rect x="83.66" y="372.3" width="6.49" height="1.65" fill="#cdcdff"/>
<rect x="32.1" y="373.9" width="6.49" height="1.65" fill="#ffaeae"/>
<rect x="38.54" y="373.9" width="6.49" height="1.65" fill="#ffb6b6"/>
<rect x="44.99" y="373.9" width="6.49" height="1.65" fill="#ffaeae"/>
<rect x="51.43" y="373.9" width="6.49" height="1.65" fill="#babaff"/>
<rect x="57.88" y="373.9" width="6.49" height="1.65" fill="#bcbcff"/>
<rect x="64.32" y="373.9" width="6.49" height="1.65" fill="#cdcdff"/>
<rect x="70.77" y="373.9" width="6.49" height="1.65" fill="#bbbbff"/>
<rect x="77.21" y="373.9" width="6.49" height="1.65" fill="#babaff"/>
<rect x="83.66" y="373.9" width="6.49" height="1.65" fill="#babaff"/>
<rect x="32.1" y="375.5" width="6.49" height="1.65" fill="#ffb7b7"/>
<rect x="38.54" y="375.5" width="6.49" height="1.65" fill="#ff9e9e"/>
<rect x="44.99" y="375.5" width="6.49" height="1.65" fill="#ff8a8a"/>
<rect x="51.43" y="375.5" width="6.49" height="1.65" fill="#bfbfff"/>
<rect x="57.88" y="375.5" width="6.49" height="1.65" fill="#ceceff"/>
<rect x="64.32" y="375.5" width="6.49" height="1.65" fill="#cbcbff"/>
<rect x="70.77" y="375.5" width="6.49" height="1.65" fill="#c0c0ff"/>
<rect x="77.21" y="375.5" width="6.49" height="1.65" fill="#c4c4ff"/>
<rect x="83.66" y="375.5" width="6.49" height="1.65" fill="#c9c9ff"/>
<rect x="32.1" y="377.1" width="6.49" height="1.65" fill="#ff9292"/>
<rect x="38.54" y="377.1" width="6.49" height="1.65" fill="#ff9494"/>
<rect x="44.99" y="377.1" width="6.49" height="1.65" fill="#ff8d8d"/>
<rect x="51.43" y="377.1" width="6.49" height="1.65" fill="#c2c2ff"/>
<rect x="57.88" y="377.1" width="6.49" height="1.65" fill="#b6b6ff"/>
<rect x="64.32" y="377.1" width="6.49" height="1.65" fill="#bdbdff"/>
<rect x="70.77" y="377.1" width="6.49" height="1.65" fill="#dadaff"/>
<rect x="77.21" y="377.1" width="6.49" height="1.65" fill="#bbbbff"/>
<rect x="83.66" y="377.1" width="6.49" height="1.65" fill="#e2e2ff"/>
<rect x="32.1" y="378.7" width="6.49" height="1.65" fill="#ff8f8f"/>
<rect x="38.54" y="378.7" width="6.49" height="1.65" fill="#ff8f8f"/>
<rect x="44.99" y="378.7" width="6.49" height="1.65" fill="#ff8d8d"/>
<rect x="51.43" y="378.7" width="6.49" height="1.65" fill="#efefff"/>
<rect x="57.88" y="378.7" width="6.49" height="1.65" fill="#d9d9ff"/>
<rect x="64.32" y="378.7" width="6.49" height="1.65" fill="#e4e4ff"/>
<rect x="70.77" y="378.7" width="6.49" height="1.65" fill="#c0c0ff"/>
<rect x="77.21" y="378.7" width="6.49" height="1.65" fill="#ccccff"/>
<rect x="83.66" y="378.7" width="6.49" height="1.65" fill="#d3d3ff"/>
<rect x="32.1" y="380.3" width="6.49" height="1.65" fill="#ffb9b9"/>
<rect x="38.54" y="380.3" width="6.49" height="1.65" fill="#ffb0b0"/>
<rect x="44.99" y="380.3" width="6.49" height="1.65" fill="#ff9d9d"/>
<rect x="51.43" y="380.3" width="6.49" height="1.65" fill="#f2f2ff"/>
<rect x="57.88" y="380.3" width="6.49" height="1.65" fill="#ddddff"/>
<rect x="64.32" y="380.3" width="6.49" height="1.65" fill="#d7d7ff"/>
<rect x="70.77" y="380.3" width="6.49" height="1.65" fill="#c0c0ff"/>
<rect x="77.21" y="380.3" width="6.49" height="1.65" fill="#cacaff"/>
<rect x="83.66" y="380.3" width="6.49" height="1.65" fill="#bbbbff"/>
<rect x="32.1" y="381.9" width="6.49" height="1.65" fill="#ff8787"/>
<rect x="38.54" y="381.9" width="6.49" height="1.65" fill="#ff7979"/>
<rect x="44.99" y="381.9" width="6.49" height="1.65" fill="#ff9292"/>
<rect x="51.43" y="381.9" width="6.49" height="1.65" fill="#e3e3ff"/>
<rect x="57.88" y="381.9" width="6.49" height="1.65" fill="#d0d0ff"/>
<rect x="64.32" y="381.9" width="6.49" height="1.65" fill="#d0d0ff"/>
<rect x="70.77" y="381.9" width="6.49" height="1.65" fill="#e3e3ff"/>
<rect x="77.21" y="381.9" width="6.49" height="1.65" fill="#dbdbff"/>
<rect x="83.66" y="381.9" width="6.49" height="1.65" fill="#d8d8ff"/>
<rect x="32.1" y="383.5" width="6.49" height="1.65" fill="#ffafaf"/>
<rect x="38.54" y="383.5" width="6.49" height="1.65" fill="#ffa4a4"/>
<rect x="44.99" y="383.5" width="6.49" height="1.65" fill="#ffb4b4"/>
<rect x="51.43" y="383.5" width="6.49" height="1.65" fill="#d4d4ff"/>
<rect x="57.88" y="383.5" width="6.49" height="1.65" fill="#d3d3ff"/>
<rect x="64.32" y="383.5" width="6.49" height="1.65" fill="#cacaff"/>
<rect x="70.77" y="383.5" width="6.49" height="1.65" fill="#d4d4ff"/>
<rect x="77.21" y="383.5" width="6.49" height="1.65" fill="#dbdbff"/>
<rect x="83.66" y="383.5" width="6.49" height="1.65" fill="#dbdbff"/>
<rect x="32.1" y="385.1" width="6.49" height="1.65" fill="#ffa6a6"/>
<rect x="38.54" y="385.1" width="6.49" height="1.65" fill="#ffa2a2"/>
<rect x="44.99" y="385.1" width="6.49" height="1.65" fill="#ff9e9e"/>
<rect x="51.43" y="385.1" width="6.49" height="1.65" fill="#c5c5ff"/>
<rect x="57.88" y="385.1" width="6.49" height="1.65" fill="#bcbcff"/>
<rect x="64.32" y="385.1" width="6.49" height="1.65" fill="#c3c3ff"/>
<rect x="70.77" y="385.1" width="6.49" height="1.65" fill="#dfdfff"/>
<rect x="77.21" y="385.1" width="6.49" height="1.65" fill="#dadaff"/>
<rect x="83.66" y="385.1" width="6.49" height="1.65" fill="#e4e4ff"/>
<rect x="32.1" y="386.7" width="6.49" height="1.65" fill="#ffb5b5"/>
<rect x="38.54" y="386.7" width="6.49" height="1.65" fill="#ffafaf"/>
<rect x="44.99" y="386.7" width="6.49" height="1.65" fill="#ffa3a3"/>
<rect x="51.43" y="386.7" width="6.49" height="1.65" fill="#c4c4ff"/>
<rect x="57.88" y="386.7" width="6.49" height="1.65" fill="#b2b2ff"/>
<rect x="64.32" y="386.7" width="6.49" height="1.65" fill="#cfcfff"/>
<rect x="70.77" y="386.7" width="6.49" height="1.65" fill="#d6d6ff"/>
<rect x="77.21" y="386.7" width="6.49" height="1.65" fill="#c2c2ff"/>
<rect x="83.66" y="386.7" width="6.49" height="1.65" fill="#d4d4ff"/>
<rect x="32.1" y="388.3" width="6.49" height="1.65" fill="#ffa1a1"/>
<rect x="38.54" y="388.3" width="6.49" height="1.65" fill="#ff9e9e"/>
<rect x="44.99" y="388.3" width="6.49" height="1.65" fill="#ff9595"/>
<rect x="51.43" y="388.3" width="6.49" height="1.65" fill="#cbcbff"/>
<rect x="57.88" y="388.3" width="6.49" height="1.65" fill="#c5c5ff"/>
<rect x="64.32" y="388.3" width="6.49" height="1.65" fill="#c4c4ff"/>
<rect x="70.77" y="388.3" width="6.49" height="1.65" fill="#a4a4ff"/>
<rect x="77.21" y="388.3" width="6.49" height="1.65" fill="#c4c4ff"/>
<rect x="83.66" y="388.3" width="6.49" height="1.65" fill="#b5b5ff"/>
<rect x="32.1" y="389.9" width="6.49" height="1.65" fill="#ff9999"/>
<rect x="38.54" y="389.9" width="6.49" height="1.65" fill="#ff9292"/>
<rect x="44.99" y="389.9" width="6.49" height="1.65" fill="#ff9696"/>
<rect x="51.43" y="389.9" width="6.49" height="1.65" fill="#ceceff"/>
<rect x="57.88" y="389.9" width="6.49" height="1.65" fill="#c6c6ff"/>
<rect x="64.32" y="389.9" width="6.49" height="1.65" fill="#dfdfff"/>
<rect x="70.77" y="389.9" width="6.49" height="1.65" fill="#d1d1ff"/>
<rect x="77.21" y="389.9" width="6.49" height="1.65" fill="#d6d6ff"/>
<rect x="83.66" y="389.9" width="6.49" height="1.65" fill="#cfcfff"/>
<rect x="32.1" y="391.5" width="6.49" height="1.65" fill="#ffa3a3"/>
<rect x="38.54" y="391.5" width="6.49" height="1.65" fill="#ffa5a5"/>
<rect x="44.99" y="391.5" width="6.49" height="1.65" fill="#ffa6a6"/>
<rect x="51.43" y="391.5" width="6.49" height="1.65" fill="#e4e4ff"/>
<rect x="57.88" y="391.5" width="6.49" height="1.65" fill="#cdcdff"/>
<rect x="64.32" y="391.5" width="6.49" height="1.65" fill="#d1d1ff"/>
<rect x="70.77" y="391.5" width="6.49" height="1.65" fill="#eaeaff"/>
<rect x="77.21" y="391.5" width="6.49" height="1.65" fill="#e2e2ff"/>
<rect x="83.66" y="391.5" width="6.49" height="1.65" fill="#e1e1ff"/>
<rect x="32.1" y="393.1" width="6.49" height="1.65" fill="#ff9191"/>
<rect x="38.54" y="393.1" width="6.49" height="1.65" fill="#ff9696"/>
<rect x="44.99" y="393.1" width="6.49" height="1.65" fill="#ff9696"/>
<rect x="51.43" y="393.1" width="6.49" height="1.65" fill="#d5d5ff"/>
<rect x="57.88" y="393.1" width="6.49" height="1.65" fill="#d0d0ff"/>
<rect x="64.32" y="393.1" width="6.49" height="1.65" fill="#cfcfff"/>
<rect x="70.77" y="393.1" width="6.49" height="1.65" fill="#cbcbff"/>
<rect x="77.21" y="393.1" width="6.49" height="1.65" fill="#c4c4ff"/>
<rect x="83.66" y="393.1" width="6.49" height="1.65" fill="#d4d4ff"/>
<rect x="32.1" y="394.7" width="6.49" height="1.65" fill="#ff9b9b"/>
<rect x="38.54" y="394.7" width="6.49" height="1.65" fill="#ffa2a2"/>
<rect x="44.99" y="394.7" width="6.49" height="1.65" fill="#ffa5a5"/>
<rect x="51.43" y="394.7" width="6.49" height="1.65" fill="#b1b1ff"/>
<rect x="57.88" y="394.7" width="6.49" height="1.65" fill="#c9c9ff"/>
<rect x="64.32" y="394.7" width="6.49" height="1.65" fill="#d1d1ff"/>
<rect x="70.77" y="394.7" width="6.49" height="1.65" fill="#f1f1ff"/>
<rect x="77.21" y="394.7" width="6.49" height="1.65" fill="#e9e9ff"/>
<rect x="83.66" y="394.7" width="6.49" height="1.65" fill="#ededff"/>
<rect x="32.1" y="396.3" width="6.49" height="1.65" fill="#ffa1a1"/>
<rect x="38.54" y="396.3" width="6.49" height="1.65" fill="#ffa3a3"/>
<rect x="44.99" y="396.3" width="6.49" height="1.65" fill="#ff8686"/>
<rect x="51.43" y="396.3" width="6.49" height="1.65" fill="#ebebff"/>
<rect x="57.88" y="396.3" width="6.49" height="1.65" fill="#e2e2ff"/>
<rect x="64.32" y="396.3" width="6.49" height="1.65" fill="#d3d3ff"/>
<rect x="70.77" y="396.3" width="6.49" height="1.65" fill="#ccccff"/>
<rect x="77.21" y="396.3" width="6.49" height="1.65" fill="#c4c4ff"/>
<rect x="83.66" y="396.3" width="6.49" height="1.65" fill="#cbcbff"/>
<rect x="32.1" y="397.9" width="6.49" height="1.65" fill="#ff9e9e"/>
<rect x="38.54" y="397.9" width="6.49" height="1.65" fill="#ff9c9c"/>
<rect x="44.99" y="397.9" width="6.49" height="1.65" fill="#ff9b9b"/>
<rect x="51.43" y="397.9" width="6.49" height="1.65" fill="#c6c6ff"/>
<rect x="57.88" y="397.9" width="6.49" height="1.65" fill="#ceceff"/>
<rect x="64.32" y="397.9" width="6.49" height="1.65" fill="#c8c8ff"/>
<rect x="70.77" y="397.9" width="6.49" height="1.65" fill="#dedeff"/>
<rect x="77.21" y="397.9" width="6.49" height="1.65" fill="#d3d3ff"/>
<rect x="83.66" y="397.9" width="6.49" height="1.65" fill="#ccccff"/>
<rect x="32.1" y="399.5" width="6.49" height="1.65" fill="#ffbaba"/>
<rect x="38.54" y="399.5" width="6.49" height="1.65" fill="#ffacac"/>
<rect x="44.99" y="399.5" width="6.49" height="1.65" fill="#ffa8a8"/>
<rect x="51.43" y="399.5" width="6.49" height="1.65" fill="#d3d3ff"/>
<rect x="57.88" y="399.5" width="6.49" height="1.65" fill="#cbcbff"/>
<rect x="64.32" y="399.5" width="6.49" height="1.65" fill="#e2e2ff"/>
<rect x="70.77" y="399.5" width="6.49" height="1.65" fill="#dadaff"/>
<rect x="77.21" y="399.5" width="6.49" height="1.65" fill="#dcdcff"/>
<rect x="83.66" y="399.5" width="6.49" height="1.65" fill="#d8d8ff"/>
<rect x="32.1" y="401.1" width="6.49" height="1.65" fill="#ffa9a9"/>
<rect x="38.54" y="401.1" width="6.49" height="1.65" fill="#ffa8a8"/>
<rect x="44.99" y="401.1" width="6.49" height="1.65" fill="#ffaeae"/>
<rect x="51.43" y="401.1" width="6.49" height="1.65" fill="#d2d2ff"/>
<rect x="57.88" y="401.1" width="6.49" height="1.65" fill="#d0d0ff"/>
<rect x="64.32" y="401.1" width="6.49" height="1.65" fill="#ceceff"/>
<rect x="70.77" y="401.1" width="6.49" height="1.65" fill="#d3d3ff"/>
<rect x="77.21" y="401.1" width="6.49" height="1.65" fill="#dcdcff"/>
<rect x="83.66" y="401.1" width="6.49" height="1.65" fill="#f3f3ff"/>
<rect x="32.1" y="402.7" width="6.49" height="1.65" fill="#ffa1a1"/>
<rect x="38.54" y="402.7" width="6.49" height="1.65" fill="#ffa3a3"/>
<rect x="44.99" y="402.7" width="6.49" height="1.65" fill="#ff8e8e"/>
<rect x="51.43" y="402.7" width="6.49" height="1.65" fill="#cfcfff"/>
<rect x="57.88" y="402.7" width="6.49" height="1.65" fill="#c5c5ff"/>
<rect x="64.32" y="402.7" width="6.49" height="1.65" fill="#cfcfff"/>
<rect x="70.77" y="402.7" width="6.49" height="1.65" fill="#bbbbff"/>
<rect x="77.21" y="402.7" width="6.49" height="1.65" fill="#afafff"/>
<rect x="83.66" y="402.7" width="6.49" height="1.65" fill="#b8b8ff"/>
<rect x="32.1" y="404.3" width="6.49" height="1.65" fill="#ffa7a7"/>
<rect x="38.54" y="404.3" width="6.49" height="1.65" fill="#ffa4a4"/>
<rect x="44.99" y="404.3" width="6.49" height="1.65" fill="#ff9b9b"/>
<rect x="51.43" y="404.3" width="6.49" height="1.65" fill="#d9d9ff"/>
<rect x="57.88" y="404.3" width="6.49" height="1.65" fill="#dbdbff"/>
<rect x="64.32" y="404.3" width="6.49" height="1.65" fill="#dadaff"/>
<rect x="70.77" y="404.3" width="6.49" height="1.65" fill="#dedeff"/>
<rect x="77.21" y="404.3" width="6.49" height="1.65" fill="#dedeff"/>
<rect x="83.66" y="404.3" width="6.49" height="1.65" fill="#e1e1ff"/>
<rect x="32.1" y="405.9" width="6.49" height="1.65" fill="#ffa7a7"/>
<rect x="38.54" y="405.9" width="6.49" height="1.65" fill="#ffaeae"/>
<rect x="44.99" y="405.9" width="6.49" height="1.65" fill="#ff9999"/>
<rect x="51.43" y="405.9" width="6.49" height="1.65" fill="#c9c9ff"/>
<rect x="57.88" y="405.9" width="6.49" height="1.65" fill="#b5b5ff"/>
<rect x="64.32" y="405.9" width="6.49" height="1.65" fill="#d0d0ff"/>
<rect x="70.77" y="405.9" width="6.49" height="1.65" fill="#c9c9ff"/>
<rect x="77.21" y="405.9" width="6.49" height="1.65" fill="#bdbdff"/>
<rect x="83.66" y="405.9" width="6.49" height="1.65" fill="#d1d1ff"/>
<rect x="32.1" y="407.5" width="6.49" height="1.65" fill="#ffa2a2"/>
<rect x="38.54" y="407.5" width="6.49" height="1.65" fill="#ff9696"/>
<rect x="44.99" y="407.5" width="6.49" height="1.65" fill="#ffa6a6"/>
<rect x="51.43" y="407.5" width="6.49" height="1.65" fill="#dedeff"/>
<rect x="57.88" y="407.5" width="6.49" height="1.65" fill="#d7d7ff"/>
<rect x="64.32" y="407.5" width="6.49" height="1.65" fill="#dcdcff"/>
<rect x="70.77" y="407.5" width="6.49" height="1.65" fill="#e1e1ff"/>
<rect x="77.21" y="407.5" width="6.49" height="1.65" fill="#d0d0ff"/>
<rect x="83.66" y="407.5" width="6.49" height="1.65" fill="#d8d8ff"/>
<rect x="32.1" y="409.1" width="6.49" height="1.65" fill="#ffa9a9"/>
<rect x="38.54" y="409.1" width="6.49" height="1.65" fill="#ffa0a0"/>
<rect x="44.99" y="409.1" width="6.49" height="1.65" fill="#ff9b9b"/>
<rect x="51.43" y="409.1" width="6.49" height="1.65" fill="#d0d0ff"/>
<rect x="57.88" y="409.1" width="6.49" height="1.65" fill="#dbdbff"/>
<rect x="64.32" y="409.1" width="6.49" height="1.65" fill="#d6d6ff"/>
<rect x="70.77" y="409.1" width="6.49" height="1.65" fill="#c5c5ff"/>
<rect x="77.21" y="409.1" width="6.49" height="1.65" fill="#c0c0ff"/>
<rect x="83.66" y="409.1" width="6.49" height="1.65" fill="#cbcbff"/>
<rect x="32.1" y="410.7" width="6.49" height="1.65" fill="#ff9b9b"/>
<rect x="38.54" y="410.7" width="6.49" height="1.65" fill="#ff9090"/>
<rect x="44.99" y="410.7" width="6.49" height="1.65" fill="#ff8b8b"/>
<rect x="51.43" y="410.7" width="6.49" height="1.65" fill="#dadaff"/>
<rect x="57.88" y="410.7" width="6.49" height="1.65" fill="#d1d1ff"/>
<rect x="64.32" y="410.7" width="6.49" height="1.65" fill="#dadaff"/>
<rect x="70.77" y="410.7" width="6.49" height="1.65" fill="#d4d4ff"/>
<rect x="77.21" y="410.7" width="6.49" height="1.65" fill="#dadaff"/>
<rect x="83.66" y="410.7" width="6.49" height="1.65" fill="#d2d2ff"/>
<rect x="32.1" y="412.3" width="6.49" height="1.65" fill="#ffa4a4"/>
<rect x="38.54" y="412.3" width="6.49" height="1.65" fill="#ffa4a4"/>
<rect x="44.99" y="412.3" width="6.49" height="1.65" fill="#ff8787"/>
<rect x="51.43" y="412.3" width="6.49" height="1.65" fill="#cacaff"/>
<rect x="57.88" y="412.3" width="6.49" height="1.65" fill="#b1b1ff"/>
<rect x="64.32" y="412.3" width="6.49" height="1.65" fill="#cacaff"/>
<rect x="70.77" y="412.3" width="6.49" height="1.65" fill="#b9b9ff"/>
<rect x="77.21" y="412.3" width="6.49" height="1.65" fill="#cbcbff"/>
<rect x="83.66" y="412.3" width="6.49" height="1.65" fill="#b3b3ff"/>
<rect x="32.1" y="413.9" width="6.49" height="1.65" fill="#ffc4c4"/>
<rect x="38.54" y="413.9" width="6.49" height="1.65" fill="#ffa5a5"/>
<rect x="44.99" y="413.9" width="6.49" height="1.65" fill="#ff9999"/>
<rect x="51.43" y="413.9" width="6.49" height="1.65" fill="#adadff"/>
<rect x="57.88" y="413.9" width="6.49" height="1.65" fill="#c7c7ff"/>
<rect x="64.32" y="413.9" width="6.49" height="1.65" fill="#babaff"/>
<rect x="70.77" y="413.9" width="6.49" height="1.65" fill="#dadaff"/>
<rect x="77.21" y="413.9" width="6.49" height="1.65" fill="#c3c3ff"/>
<rect x="83.66" y="413.9" width="6.49" height="1.65" fill="#c2c2ff"/>
<rect x="32.1" y="415.5" width="6.49" height="1.65" fill="#ff9e9e"/>
<rect x="38.54" y="415.5" width="6.49" height="1.65" fill="#ffa4a4"/>
<rect x="44.99" y="415.5" width="6.49" height="1.65" fill="#ff7f7f"/>
<rect x="51.43" y="415.5" width="6.49" height="1.65" fill="#ccccff"/>
<rect x="57.88" y="415.5" width="6.49" height="1.65" fill="#c5c5ff"/>
<rect x="64.32" y="415.5" width="6.49" height="1.65" fill="#d3d3ff"/>
<rect x="70.77" y="415.5" width="6.49" height="1.65" fill="#d1d1ff"/>
<rect x="77.21" y="415.5" width="6.49" height="1.65" fill="#cfcfff"/>
<rect x="83.66" y="415.5" width="6.49" height="1.65" fill="#dcdcff"/>
<rect x="32.1" y="417.1" width="6.49" height="0.45" fill="#ffa1a1"/>
<rect x="38.54" y="417.1" width="6.49" height="0.45" fill="#ff9a9a"/>
<rect x="44.99" y="417.1" width="6.49" height="0.45" fill="#ffaaaa"/>
<rect x="51.43" y="417.1" width="6.49" height="0.45" fill="#dadaff"/>
<rect x="57.88" y="417.1" width="6.49" height="0.45" fill="#cacaff"/>
<rect x="64.32" y="417.1" width="6.49" height="0.45" fill="#e2e2ff"/>
<rect x="70.77" y="417.1" width="6.49" height="0.45" fill="#d1d1ff"/>
<rect x="77.21" y="417.1" width="6.49" height="0.45" fill="#c8c8ff"/>
<rect x="83.66" y="417.1" width="6.49" height="0.45" fill="#bfbfff"/>
</g>
<path d="M35.32 63.2 L35.32 61.8 L48.21 61.8 L48.21 63.2" stroke="#666" stroke-width="0.75" fill="none"/>
<path d="M41.77 63.2 L41.77 61.8" stroke="#666" stroke-width="0.75" fill="none"/>
<path d="M40.3 61.8 L40.3 35.1 L69.1 35.1 L69.1 49.4" stroke="#666" stroke-width="0.75" fill="none"/>
<path d="M59.4 59.5 L59.4 49.4 L78.7 49.4 L78.7 58.1" stroke="#666" stroke-width="0.75" fill="none"/>
<path d="M54.66 63.2 L54.66 59.5 L67.54 59.5 L67.54 63.2" stroke="#666" stroke-width="0.75" fill="none"/>
<path d="M61.1 63.2 L61.1 59.5" stroke="#666" stroke-width="0.75" fill="none"/>
<path d="M73.99 63.2 L73.99 58.1 L83.6 58.1 L83.6 59.7" stroke="#666" stroke-width="0.75" fill="none"/>
<path d="M80.43 63.2 L80.43 59.7 L86.88 59.7 L86.88 63.2" stroke="#666" stroke-width="0.75" fill="none"/>
<text x="38.12" y="99.5" font-size="7.6" fill="#000" transform="rotate(-90 38.12 99.5)">ST2KO3</text>
<text x="44.57" y="99.5" font-size="7.6" fill="#000" transform="rotate(-90 44.57 99.5)">ST2KO1</text>
<text x="51.01" y="99.5" font-size="7.6" fill="#000" transform="rotate(-90 51.01 99.5)">ST2KO2</text>
<text x="57.46" y="99.5" font-size="7.6" fill="#000" transform="rotate(-90 57.46 99.5)">ST2m2</text>
<text x="63.9" y="99.5" font-size="7.6" fill="#000" transform="rotate(-90 63.9 99.5)">ST2m1</text>
<text x="70.34" y="99.5" font-size="7.6" fill="#000" transform="rotate(-90 70.34 99.5)">ST2m3</text>
<text x="76.79" y="99.5" font-size="7.6" fill="#000" transform="rotate(-90 76.79 99.5)">ST2p3</text>
<text x="83.23" y="99.5" font-size="7.6" fill="#000" transform="rotate(-90 83.23 99.5)">ST2p1</text>
<text x="89.68" y="99.5" font-size="7.6" fill="#000" transform="rotate(-90 89.68 99.5)">ST2p2</text>
<line x1="34.25" y1="423.2" x2="47.75" y2="423.2" stroke="#000" stroke-width="1.1"/>
<path d="M31.1 423.2 L35.6 420.8 L35.6 425.6 Z M50.9 423.2 L46.4 420.8 L46.4 425.6 Z" fill="#000"/>
<line x1="54.85" y1="423.2" x2="68.35" y2="423.2" stroke="#000" stroke-width="1.1"/>
<path d="M51.7 423.2 L56.2 420.8 L56.2 425.6 Z M71.5 423.2 L67 420.8 L67 425.6 Z" fill="#000"/>
<line x1="75.35" y1="423.2" x2="88.85" y2="423.2" stroke="#000" stroke-width="1.1"/>
<path d="M72.2 423.2 L76.7 420.8 L76.7 425.6 Z M92 423.2 L87.5 420.8 L87.5 425.6 Z" fill="#000"/>
<text x="37.75" y="429.7" font-size="9" fill="#000" transform="rotate(90 37.75 429.7)">ST2 KO</text>
<text x="58.35" y="429.7" font-size="9" fill="#000" transform="rotate(90 58.35 429.7)">ST2 Low</text>
<text x="79.35" y="429.7" font-size="9" fill="#000" transform="rotate(90 79.35 429.7)">ST2 High</text>
<text x="100.1" y="361.1" font-size="9.3" font-weight="bold" fill="#000">Color Key</text>
<defs><filter id="blurA" x="-2%" y="-1%" width="104%" height="102%"><feGaussianBlur stdDeviation="0.55"/></filter><linearGradient id="gA" x1="0" x2="1" y1="0" y2="0"><stop offset="0" stop-color="#0000ff"/><stop offset="0.5" stop-color="#ffffff"/><stop offset="1" stop-color="#ff0000"/></linearGradient><linearGradient id="gC" x1="0" x2="0" y1="0" y2="1"><stop offset="0" stop-color="#f7fbff"/><stop offset="0.5" stop-color="#9ecae1"/><stop offset="1" stop-color="#2a5d9f"/></linearGradient><linearGradient id="gE" x1="0" x2="0" y1="0" y2="1"><stop offset="0" stop-color="#cc0000"/><stop offset="0.24" stop-color="#cc0606"/><stop offset="0.45" stop-color="#d88585"/><stop offset="0.62" stop-color="#d4d4d6"/><stop offset="0.70" stop-color="#a0a0e0"/><stop offset="0.80" stop-color="#1414d0"/><stop offset="1" stop-color="#0000cc"/></linearGradient></defs>
<rect x="103.8" y="367.3" width="37.1" height="20.1" fill="url(#gA)" stroke="#222" stroke-width="0.9"/>
<line x1="108.1" y1="387.2" x2="108.1" y2="391.6" stroke="#111" stroke-width="1"/>
<line x1="115.2" y1="387.2" x2="115.2" y2="391.6" stroke="#111" stroke-width="1"/>
<line x1="122.3" y1="387.2" x2="122.3" y2="391.6" stroke="#111" stroke-width="1"/>
<line x1="129.4" y1="387.2" x2="129.4" y2="391.6" stroke="#111" stroke-width="1"/>
<line x1="136.5" y1="387.2" x2="136.5" y2="391.6" stroke="#111" stroke-width="1"/>
<text x="107.7" y="403.8" font-size="9" text-anchor="middle" fill="#000">−2</text>
<text x="121.9" y="403.8" font-size="9" text-anchor="middle" fill="#000">0</text>
<text x="135.6" y="403.8" font-size="9" text-anchor="middle" fill="#000">2</text>
<text x="95.6" y="417.9" font-size="9.2" fill="#000">Row Z-Score</text>
<rect x="202.3" y="34.9" width="261.3" height="118.3" fill="#ebebeb"/>
<line x1="236.9" y1="34.9" x2="236.9" y2="153.2" stroke="#fdfdfd" stroke-width="0.85"/>
<line x1="287.7" y1="34.9" x2="287.7" y2="153.2" stroke="#fdfdfd" stroke-width="0.85"/>
<line x1="338.5" y1="34.9" x2="338.5" y2="153.2" stroke="#fdfdfd" stroke-width="0.85"/>
<line x1="389.3" y1="34.9" x2="389.3" y2="153.2" stroke="#fdfdfd" stroke-width="0.85"/>
<line x1="440.1" y1="34.9" x2="440.1" y2="153.2" stroke="#fdfdfd" stroke-width="0.85"/>
<line x1="202.3" y1="46.25" x2="463.6" y2="46.25" stroke="#fdfdfd" stroke-width="0.85"/>
<line x1="202.3" y1="76.55" x2="463.6" y2="76.55" stroke="#fdfdfd" stroke-width="0.85"/>
<line x1="202.3" y1="106.85" x2="463.6" y2="106.85" stroke="#fdfdfd" stroke-width="0.85"/>
<line x1="202.3" y1="137.15" x2="463.6" y2="137.15" stroke="#fdfdfd" stroke-width="0.85"/>
<line x1="211.5" y1="34.9" x2="211.5" y2="153.2" stroke="#ffffff" stroke-width="1.1"/>
<line x1="262.3" y1="34.9" x2="262.3" y2="153.2" stroke="#ffffff" stroke-width="1.1"/>
<line x1="313.1" y1="34.9" x2="313.1" y2="153.2" stroke="#ffffff" stroke-width="1.1"/>
<line x1="363.9" y1="34.9" x2="363.9" y2="153.2" stroke="#ffffff" stroke-width="1.1"/>
<line x1="414.7" y1="34.9" x2="414.7" y2="153.2" stroke="#ffffff" stroke-width="1.1"/>
<line x1="202.3" y1="61.4" x2="463.6" y2="61.4" stroke="#ffffff" stroke-width="1.1"/>
<line x1="202.3" y1="91.7" x2="463.6" y2="91.7" stroke="#ffffff" stroke-width="1.1"/>
<line x1="202.3" y1="122" x2="463.6" y2="122" stroke="#ffffff" stroke-width="1.1"/>
<line x1="202.3" y1="152.3" x2="463.6" y2="152.3" stroke="#ffffff" stroke-width="1.1"/>
<line x1="211.5" y1="154.3" x2="211.5" y2="157.6" stroke="#333" stroke-width="0.9"/>
<text x="211.2" y="170.2" font-size="8.8" text-anchor="middle" fill="#222">−15</text>
<line x1="262.3" y1="154.3" x2="262.3" y2="157.6" stroke="#333" stroke-width="0.9"/>
<text x="262" y="170.2" font-size="8.8" text-anchor="middle" fill="#222">−10</text>
<line x1="313.1" y1="154.3" x2="313.1" y2="157.6" stroke="#333" stroke-width="0.9"/>
<text x="312.8" y="170.2" font-size="8.8" text-anchor="middle" fill="#222">−5</text>
<line x1="363.9" y1="154.3" x2="363.9" y2="157.6" stroke="#333" stroke-width="0.9"/>
<text x="363.6" y="170.2" font-size="8.8" text-anchor="middle" fill="#222">0</text>
<line x1="414.7" y1="154.3" x2="414.7" y2="157.6" stroke="#333" stroke-width="0.9"/>
<text x="414.4" y="170.2" font-size="8.8" text-anchor="middle" fill="#222">5</text>
<line x1="197.7" y1="61.4" x2="201.2" y2="61.4" stroke="#333" stroke-width="0.9"/>
<text x="194.6" y="64.5" font-size="8.8" text-anchor="end" fill="#222">3</text>
<line x1="197.7" y1="91.7" x2="201.2" y2="91.7" stroke="#333" stroke-width="0.9"/>
<text x="194.6" y="94.8" font-size="8.8" text-anchor="end" fill="#222">0</text>
<line x1="197.7" y1="122" x2="201.2" y2="122" stroke="#333" stroke-width="0.9"/>
<text x="194.6" y="125.1" font-size="8.8" text-anchor="end" fill="#222">−3</text>
<line x1="197.7" y1="152.3" x2="201.2" y2="152.3" stroke="#333" stroke-width="0.9"/>
<text x="194.6" y="155.4" font-size="8.8" text-anchor="end" fill="#222">−6</text>
<text x="332.9" y="184.7" font-size="9.3" text-anchor="middle" fill="#111">PC1: 82% variance</text>
<text x="176.9" y="93.8" font-size="9.3" text-anchor="middle" fill="#111" transform="rotate(-90 176.9 93.8)">PC2: 14% variance</text>
<line x1="233.2" y1="74.4" x2="233.2" y2="80" stroke="#f08a82" stroke-width="0.6"/>
<line x1="435.4" y1="39.6" x2="447" y2="39.8" stroke="#74a8ec" stroke-width="0.6"/>
<line x1="441.8" y1="55.3" x2="445.5" y2="52" stroke="#74a8ec" stroke-width="0.6"/>
<circle cx="213.4" cy="85.3" r="2.4" fill="#f0746a"/>
<circle cx="222.1" cy="84.2" r="2.4" fill="#f0746a"/>
<circle cx="232.7" cy="81.4" r="2.4" fill="#f0746a"/>
<circle cx="449.3" cy="39.9" r="2.4" fill="#5f9ae8"/>
<circle cx="452.4" cy="43.8" r="2.4" fill="#5f9ae8"/>
<circle cx="446.9" cy="50.9" r="2.4" fill="#5f9ae8"/>
<circle cx="416.8" cy="143.4" r="2.4" fill="#1db040"/>
<circle cx="416.8" cy="147.7" r="2.4" fill="#1db040"/>
<circle cx="417.2" cy="146.8" r="2.4" fill="#1db040"/>
<text x="234.9" y="75.9" font-size="6.05" fill="#f08a82">ST2KO−3</text>
<text x="215.2" y="84.8" font-size="6.05" fill="#f08a82">ST2KO−2</text>
<text x="204.6" y="95" font-size="6.05" fill="#f08a82">ST2KO−1</text>
<text x="411.2" y="41.9" font-size="6.05" fill="#74a8ec">ST2P−3</text>
<text x="439.8" y="49.4" font-size="6.05" fill="#74a8ec">ST2P−1</text>
<text x="419.2" y="58.5" font-size="6.05" fill="#74a8ec">ST2P−2</text>
<text x="396.8" y="139.6" font-size="6.05" fill="#30bb52">ST2L−2</text>
<text x="393.1" y="150.7" font-size="6.05" fill="#30bb52">ST2L−1</text>
<text x="421" y="149" font-size="6.05" fill="#30bb52">ST2L−3</text>
<text x="472.6" y="77.2" font-size="9.3" fill="#222">Group</text>
<rect x="473.3" y="83.1" width="9.7" height="11.4" fill="#ebebeb"/>
<circle cx="477.9" cy="88.7" r="2.6" fill="#f0746a"/>
<text x="487.6" y="92.1" font-size="9.2" fill="#111">ST2KO</text>
<rect x="473.3" y="95.55" width="9.7" height="11.4" fill="#ebebeb"/>
<circle cx="477.9" cy="101.15" r="2.6" fill="#1db040"/>
<text x="487.6" y="104.55" font-size="9.2" fill="#111">ST2Low</text>
<rect x="473.3" y="108" width="9.7" height="11.4" fill="#ebebeb"/>
<circle cx="477.9" cy="113.6" r="2.6" fill="#5f9ae8"/>
<text x="487.6" y="117" font-size="9.2" fill="#111">ST2High</text>
<rect x="552.8" y="77.8" width="14.16" height="14.63" fill="#0e3572" stroke="#c4c8cc" stroke-width="0.5"/>
<rect x="566.96" y="77.8" width="14.16" height="14.63" fill="#4a96d0" stroke="#c4c8cc" stroke-width="0.5"/>
<rect x="581.11" y="77.8" width="14.16" height="14.63" fill="#509ad2" stroke="#c4c8cc" stroke-width="0.5"/>
<rect x="595.27" y="77.8" width="14.16" height="14.63" fill="#e3edf8" stroke="#c4c8cc" stroke-width="0.5"/>
<rect x="609.42" y="77.8" width="14.16" height="14.63" fill="#e4edf8" stroke="#c4c8cc" stroke-width="0.5"/>
<rect x="623.58" y="77.8" width="14.16" height="14.63" fill="#e6eff9" stroke="#c4c8cc" stroke-width="0.5"/>
<rect x="637.73" y="77.8" width="14.16" height="14.63" fill="#edf3fb" stroke="#c4c8cc" stroke-width="0.5"/>
<rect x="651.89" y="77.8" width="14.16" height="14.63" fill="#eef4fb" stroke="#c4c8cc" stroke-width="0.5"/>
<rect x="666.04" y="77.8" width="14.16" height="14.63" fill="#edf3fb" stroke="#c4c8cc" stroke-width="0.5"/>
<rect x="552.8" y="92.43" width="14.16" height="14.63" fill="#4a96d0" stroke="#c4c8cc" stroke-width="0.5"/>
<rect x="566.96" y="92.43" width="14.16" height="14.63" fill="#0e3572" stroke="#c4c8cc" stroke-width="0.5"/>
<rect x="581.11" y="92.43" width="14.16" height="14.63" fill="#3c8ac8" stroke="#c4c8cc" stroke-width="0.5"/>
<rect x="595.27" y="92.43" width="14.16" height="14.63" fill="#e7eff9" stroke="#c4c8cc" stroke-width="0.5"/>
<rect x="609.42" y="92.43" width="14.16" height="14.63" fill="#e7eff9" stroke="#c4c8cc" stroke-width="0.5"/>
<rect x="623.58" y="92.43" width="14.16" height="14.63" fill="#e9f1fa" stroke="#c4c8cc" stroke-width="0.5"/>
<rect x="637.73" y="92.43" width="14.16" height="14.63" fill="#f1f6fc" stroke="#c4c8cc" stroke-width="0.5"/>
<rect x="651.89" y="92.43" width="14.16" height="14.63" fill="#f2f7fc" stroke="#c4c8cc" stroke-width="0.5"/>
<rect x="666.04" y="92.43" width="14.16" height="14.63" fill="#f1f6fc" stroke="#c4c8cc" stroke-width="0.5"/>
<rect x="552.8" y="107.07" width="14.16" height="14.63" fill="#509ad2" stroke="#c4c8cc" stroke-width="0.5"/>
<rect x="566.96" y="107.07" width="14.16" height="14.63" fill="#3c8ac8" stroke="#c4c8cc" stroke-width="0.5"/>
<rect x="581.11" y="107.07" width="14.16" height="14.63" fill="#0e3572" stroke="#c4c8cc" stroke-width="0.5"/>
<rect x="595.27" y="107.07" width="14.16" height="14.63" fill="#e9f1fa" stroke="#c4c8cc" stroke-width="0.5"/>
<rect x="609.42" y="107.07" width="14.16" height="14.63" fill="#e9f1fa" stroke="#c4c8cc" stroke-width="0.5"/>
<rect x="623.58" y="107.07" width="14.16" height="14.63" fill="#ebf2fa" stroke="#c4c8cc" stroke-width="0.5"/>
<rect x="637.73" y="107.07" width="14.16" height="14.63" fill="#f2f7fd" stroke="#c4c8cc" stroke-width="0.5"/>
<rect x="651.89" y="107.07" width="14.16" height="14.63" fill="#f3f8fd" stroke="#c4c8cc" stroke-width="0.5"/>
<rect x="666.04" y="107.07" width="14.16" height="14.63" fill="#f2f7fd" stroke="#c4c8cc" stroke-width="0.5"/>
<rect x="552.8" y="121.7" width="14.16" height="14.63" fill="#e3edf8" stroke="#c4c8cc" stroke-width="0.5"/>
<rect x="566.96" y="121.7" width="14.16" height="14.63" fill="#e7eff9" stroke="#c4c8cc" stroke-width="0.5"/>
<rect x="581.11" y="121.7" width="14.16" height="14.63" fill="#e9f1fa" stroke="#c4c8cc" stroke-width="0.5"/>
<rect x="595.27" y="121.7" width="14.16" height="14.63" fill="#0e3572" stroke="#c4c8cc" stroke-width="0.5"/>
<rect x="609.42" y="121.7" width="14.16" height="14.63" fill="#4090cc" stroke="#c4c8cc" stroke-width="0.5"/>
<rect x="623.58" y="121.7" width="14.16" height="14.63" fill="#4292ce" stroke="#c4c8cc" stroke-width="0.5"/>
<rect x="637.73" y="121.7" width="14.16" height="14.63" fill="#8ec0e2" stroke="#c4c8cc" stroke-width="0.5"/>
<rect x="651.89" y="121.7" width="14.16" height="14.63" fill="#86bce0" stroke="#c4c8cc" stroke-width="0.5"/>
<rect x="666.04" y="121.7" width="14.16" height="14.63" fill="#86bce0" stroke="#c4c8cc" stroke-width="0.5"/>
<rect x="552.8" y="136.33" width="14.16" height="14.63" fill="#e4edf8" stroke="#c4c8cc" stroke-width="0.5"/>
<rect x="566.96" y="136.33" width="14.16" height="14.63" fill="#e7eff9" stroke="#c4c8cc" stroke-width="0.5"/>
<rect x="581.11" y="136.33" width="14.16" height="14.63" fill="#e9f1fa" stroke="#c4c8cc" stroke-width="0.5"/>
<rect x="595.27" y="136.33" width="14.16" height="14.63" fill="#4090cc" stroke="#c4c8cc" stroke-width="0.5"/>
<rect x="609.42" y="136.33" width="14.16" height="14.63" fill="#0e3572" stroke="#c4c8cc" stroke-width="0.5"/>
<rect x="623.58" y="136.33" width="14.16" height="14.63" fill="#4a96d0" stroke="#c4c8cc" stroke-width="0.5"/>
<rect x="637.73" y="136.33" width="14.16" height="14.63" fill="#9ccae6" stroke="#c4c8cc" stroke-width="0.5"/>
<rect x="651.89" y="136.33" width="14.16" height="14.63" fill="#8cbfe2" stroke="#c4c8cc" stroke-width="0.5"/>
<rect x="666.04" y="136.33" width="14.16" height="14.63" fill="#8cbfe2" stroke="#c4c8cc" stroke-width="0.5"/>
<rect x="552.8" y="150.97" width="14.16" height="14.63" fill="#e6eff9" stroke="#c4c8cc" stroke-width="0.5"/>
<rect x="566.96" y="150.97" width="14.16" height="14.63" fill="#e9f1fa" stroke="#c4c8cc" stroke-width="0.5"/>
<rect x="581.11" y="150.97" width="14.16" height="14.63" fill="#ebf2fa" stroke="#c4c8cc" stroke-width="0.5"/>
<rect x="595.27" y="150.97" width="14.16" height="14.63" fill="#4292ce" stroke="#c4c8cc" stroke-width="0.5"/>
<rect x="609.42" y="150.97" width="14.16" height="14.63" fill="#4a96d0" stroke="#c4c8cc" stroke-width="0.5"/>
<rect x="623.58" y="150.97" width="14.16" height="14.63" fill="#0e3572" stroke="#c4c8cc" stroke-width="0.5"/>
<rect x="637.73" y="150.97" width="14.16" height="14.63" fill="#92c4e4" stroke="#c4c8cc" stroke-width="0.5"/>
<rect x="651.89" y="150.97" width="14.16" height="14.63" fill="#86bce0" stroke="#c4c8cc" stroke-width="0.5"/>
<rect x="666.04" y="150.97" width="14.16" height="14.63" fill="#86bce0" stroke="#c4c8cc" stroke-width="0.5"/>
<rect x="552.8" y="165.6" width="14.16" height="14.63" fill="#edf3fb" stroke="#c4c8cc" stroke-width="0.5"/>
<rect x="566.96" y="165.6" width="14.16" height="14.63" fill="#f1f6fc" stroke="#c4c8cc" stroke-width="0.5"/>
<rect x="581.11" y="165.6" width="14.16" height="14.63" fill="#f2f7fd" stroke="#c4c8cc" stroke-width="0.5"/>
<rect x="595.27" y="165.6" width="14.16" height="14.63" fill="#8ec0e2" stroke="#c4c8cc" stroke-width="0.5"/>
<rect x="609.42" y="165.6" width="14.16" height="14.63" fill="#9ccae6" stroke="#c4c8cc" stroke-width="0.5"/>
<rect x="623.58" y="165.6" width="14.16" height="14.63" fill="#92c4e4" stroke="#c4c8cc" stroke-width="0.5"/>
<rect x="637.73" y="165.6" width="14.16" height="14.63" fill="#0e3572" stroke="#c4c8cc" stroke-width="0.5"/>
<rect x="651.89" y="165.6" width="14.16" height="14.63" fill="#5ba3d6" stroke="#c4c8cc" stroke-width="0.5"/>
<rect x="666.04" y="165.6" width="14.16" height="14.63" fill="#62a8d8" stroke="#c4c8cc" stroke-width="0.5"/>
<rect x="552.8" y="180.23" width="14.16" height="14.63" fill="#eef4fb" stroke="#c4c8cc" stroke-width="0.5"/>
<rect x="566.96" y="180.23" width="14.16" height="14.63" fill="#f2f7fc" stroke="#c4c8cc" stroke-width="0.5"/>
<rect x="581.11" y="180.23" width="14.16" height="14.63" fill="#f3f8fd" stroke="#c4c8cc" stroke-width="0.5"/>
<rect x="595.27" y="180.23" width="14.16" height="14.63" fill="#86bce0" stroke="#c4c8cc" stroke-width="0.5"/>
<rect x="609.42" y="180.23" width="14.16" height="14.63" fill="#8cbfe2" stroke="#c4c8cc" stroke-width="0.5"/>
<rect x="623.58" y="180.23" width="14.16" height="14.63" fill="#86bce0" stroke="#c4c8cc" stroke-width="0.5"/>
<rect x="637.73" y="180.23" width="14.16" height="14.63" fill="#5ba3d6" stroke="#c4c8cc" stroke-width="0.5"/>
<rect x="651.89" y="180.23" width="14.16" height="14.63" fill="#0e3572" stroke="#c4c8cc" stroke-width="0.5"/>
<rect x="666.04" y="180.23" width="14.16" height="14.63" fill="#4c98d0" stroke="#c4c8cc" stroke-width="0.5"/>
<rect x="552.8" y="194.87" width="14.16" height="14.63" fill="#edf3fb" stroke="#c4c8cc" stroke-width="0.5"/>
<rect x="566.96" y="194.87" width="14.16" height="14.63" fill="#f1f6fc" stroke="#c4c8cc" stroke-width="0.5"/>
<rect x="581.11" y="194.87" width="14.16" height="14.63" fill="#f2f7fd" stroke="#c4c8cc" stroke-width="0.5"/>
<rect x="595.27" y="194.87" width="14.16" height="14.63" fill="#86bce0" stroke="#c4c8cc" stroke-width="0.5"/>
<rect x="609.42" y="194.87" width="14.16" height="14.63" fill="#8cbfe2" stroke="#c4c8cc" stroke-width="0.5"/>
<rect x="623.58" y="194.87" width="14.16" height="14.63" fill="#86bce0" stroke="#c4c8cc" stroke-width="0.5"/>
<rect x="637.73" y="194.87" width="14.16" height="14.63" fill="#62a8d8" stroke="#c4c8cc" stroke-width="0.5"/>
<rect x="651.89" y="194.87" width="14.16" height="14.63" fill="#4c98d0" stroke="#c4c8cc" stroke-width="0.5"/>
<rect x="666.04" y="194.87" width="14.16" height="14.63" fill="#0e3572" stroke="#c4c8cc" stroke-width="0.5"/>
<text x="616.4" y="42.8" font-size="9" text-anchor="middle" font-weight="bold" fill="#111">Sample-to-sample</text>
<text x="616.4" y="53.9" font-size="9" text-anchor="middle" font-weight="bold" fill="#111">distances</text>
<path d="M574.03 77.8 L574.03 71.3 L588.19 71.3 L588.19 77.8" stroke="#666" stroke-width="0.7" fill="none"/>
<path d="M559.88 77.8 L559.88 70.6 L581.11 70.6 L581.11 71.3" stroke="#666" stroke-width="0.7" fill="none"/>
<path d="M616.5 77.8 L616.5 71.4 L630.66 71.4 L630.66 77.8" stroke="#666" stroke-width="0.7" fill="none"/>
<path d="M602.34 77.8 L602.34 71 L623.58 71 L623.58 71.4" stroke="#666" stroke-width="0.7" fill="none"/>
<path d="M658.97 77.8 L658.97 71.4 L673.12 71.4 L673.12 77.8" stroke="#666" stroke-width="0.7" fill="none"/>
<path d="M644.81 77.8 L644.81 70.6 L666.04 70.6 L666.04 71.4" stroke="#666" stroke-width="0.7" fill="none"/>
<path d="M612.96 71 L612.96 66.2 L655.43 66.2 L655.43 70.6" stroke="#666" stroke-width="0.7" fill="none"/>
<path d="M570.49 70.6 L570.49 59.4 L634.19 59.4 L634.19 66.2" stroke="#666" stroke-width="0.7" fill="none"/>
<path d="M552.8 99.75 L546.3 99.75 L546.3 114.38 L552.8 114.38" stroke="#666" stroke-width="0.7" fill="none"/>
<path d="M552.8 85.12 L545.6 85.12 L545.6 107.07 L546.3 107.07" stroke="#666" stroke-width="0.7" fill="none"/>
<path d="M552.8 143.65 L546.4 143.65 L546.4 158.28 L552.8 158.28" stroke="#666" stroke-width="0.7" fill="none"/>
<path d="M552.8 129.02 L546 129.02 L546 150.97 L546.4 150.97" stroke="#666" stroke-width="0.7" fill="none"/>
<path d="M552.8 187.55 L546.4 187.55 L546.4 202.18 L552.8 202.18" stroke="#666" stroke-width="0.7" fill="none"/>
<path d="M552.8 172.92 L545.6 172.92 L545.6 194.87 L546.4 194.87" stroke="#666" stroke-width="0.7" fill="none"/>
<path d="M546 139.99 L541.2 139.99 L541.2 183.89 L545.6 183.89" stroke="#666" stroke-width="0.7" fill="none"/>
<path d="M545.6 96.09 L534.4 96.09 L534.4 161.94 L541.2 161.94" stroke="#666" stroke-width="0.7" fill="none"/>
<text x="684.4" y="92.03" font-size="9.2" fill="#111">ST2KO-3</text>
<text x="684.4" y="106.67" font-size="9.2" fill="#111">ST2KO-1</text>
<text x="684.4" y="121.3" font-size="9.2" fill="#111">ST2KO-2</text>
<text x="684.4" y="135.93" font-size="9.2" fill="#111">ST2L-2</text>
<text x="684.4" y="150.57" font-size="9.2" fill="#111">ST2L-1</text>
<text x="684.4" y="165.2" font-size="9.2" fill="#111">ST2L-3</text>
<text x="684.4" y="179.83" font-size="9.2" fill="#111">ST2P-3</text>
<text x="684.4" y="194.47" font-size="9.2" fill="#111">ST2P-1</text>
<text x="684.4" y="209.1" font-size="9.2" fill="#111">ST2P-2</text>
<text x="556.68" y="215.6" font-size="9.2" fill="#111" transform="rotate(90 556.68 215.6)">ST2KO-3</text>
<text x="570.83" y="215.6" font-size="9.2" fill="#111" transform="rotate(90 570.83 215.6)">ST2KO-1</text>
<text x="584.99" y="215.6" font-size="9.2" fill="#111" transform="rotate(90 584.99 215.6)">ST2KO-2</text>
<text x="599.14" y="215.6" font-size="9.2" fill="#111" transform="rotate(90 599.14 215.6)">ST2L-2</text>
<text x="613.3" y="215.6" font-size="9.2" fill="#111" transform="rotate(90 613.3 215.6)">ST2L-1</text>
<text x="627.46" y="215.6" font-size="9.2" fill="#111" transform="rotate(90 627.46 215.6)">ST2L-3</text>
<text x="641.61" y="215.6" font-size="9.2" fill="#111" transform="rotate(90 641.61 215.6)">ST2P-3</text>
<text x="655.77" y="215.6" font-size="9.2" fill="#111" transform="rotate(90 655.77 215.6)">ST2P-1</text>
<text x="669.92" y="215.6" font-size="9.2" fill="#111" transform="rotate(90 669.92 215.6)">ST2P-2</text>
<rect x="732.9" y="78.1" width="3.1" height="51.2" fill="url(#gC)"/>
<text x="740.1" y="82.8" font-size="9" fill="#111">40</text>
<text x="740.1" y="95.12" font-size="9" fill="#111">30</text>
<text x="740.1" y="107.44" font-size="9" fill="#111">20</text>
<text x="740.1" y="119.76" font-size="9" fill="#111">10</text>
<text x="740.1" y="132.08" font-size="9" fill="#111">0</text>
<line x1="563.12" y1="261.3" x2="586.78" y2="261.3" stroke="#000" stroke-width="1.2"/>
<path d="M559.2 261.3 L564.8 258 L564.8 264.6 Z M590.7 261.3 L585.1 258 L585.1 264.6 Z" fill="#000"/>
<line x1="604.92" y1="261.3" x2="628.68" y2="261.3" stroke="#000" stroke-width="1.2"/>
<path d="M601 261.3 L606.6 258 L606.6 264.6 Z M632.6 261.3 L627 258 L627 264.6 Z" fill="#000"/>
<line x1="647.32" y1="261.3" x2="671.48" y2="261.3" stroke="#000" stroke-width="1.2"/>
<path d="M643.4 261.3 L649 258 L649 264.6 Z M675.4 261.3 L669.8 258 L669.8 264.6 Z" fill="#000"/>
<text x="571.9" y="266.3" font-size="9" fill="#111" transform="rotate(90 571.9 266.3)">ST2 KO</text>
<text x="613.6" y="266.3" font-size="9" fill="#111" transform="rotate(90 613.6 266.3)">ST2 Low</text>
<text x="655.7" y="266.3" font-size="9" fill="#111" transform="rotate(90 655.7 266.3)">ST2 High</text>
<line x1="212.42" y1="240.3" x2="212.42" y2="368.2" stroke="#f3f3f3" stroke-width="0.8"/>
<line x1="251.18" y1="240.3" x2="251.18" y2="368.2" stroke="#f3f3f3" stroke-width="0.8"/>
<line x1="289.94" y1="240.3" x2="289.94" y2="368.2" stroke="#f3f3f3" stroke-width="0.8"/>
<line x1="367.46" y1="240.3" x2="367.46" y2="368.2" stroke="#f3f3f3" stroke-width="0.8"/>
<line x1="406.22" y1="240.3" x2="406.22" y2="368.2" stroke="#f3f3f3" stroke-width="0.8"/>
<line x1="444.98" y1="240.3" x2="444.98" y2="368.2" stroke="#f3f3f3" stroke-width="0.8"/>
<line x1="231.8" y1="240.3" x2="231.8" y2="368.2" stroke="#fafafa" stroke-width="0.5"/>
<line x1="270.56" y1="240.3" x2="270.56" y2="368.2" stroke="#fafafa" stroke-width="0.5"/>
<line x1="309.32" y1="240.3" x2="309.32" y2="368.2" stroke="#fafafa" stroke-width="0.5"/>
<line x1="348.08" y1="240.3" x2="348.08" y2="368.2" stroke="#fafafa" stroke-width="0.5"/>
<line x1="386.84" y1="240.3" x2="386.84" y2="368.2" stroke="#fafafa" stroke-width="0.5"/>
<line x1="425.6" y1="240.3" x2="425.6" y2="368.2" stroke="#fafafa" stroke-width="0.5"/>
<line x1="197.5" y1="322.5" x2="460.2" y2="322.5" stroke="#f3f3f3" stroke-width="0.8"/>
<line x1="197.5" y1="276.8" x2="460.2" y2="276.8" stroke="#f3f3f3" stroke-width="0.8"/>
<line x1="197.5" y1="345.35" x2="460.2" y2="345.35" stroke="#f7f7f7" stroke-width="0.5"/>
<line x1="197.5" y1="299.65" x2="460.2" y2="299.65" stroke="#f7f7f7" stroke-width="0.5"/>
<line x1="197.5" y1="253.95" x2="460.2" y2="253.95" stroke="#f7f7f7" stroke-width="0.5"/>
<line x1="328.7" y1="240.3" x2="328.7" y2="377.4" stroke="#b8b8b8" stroke-width="1.1"/>
<line x1="197.5" y1="368.5" x2="460.2" y2="368.5" stroke="#8a8a8a" stroke-width="0.9"/>
<text x="212.12" y="390.6" font-size="8.8" text-anchor="middle" fill="#222">−6</text>
<text x="250.88" y="390.6" font-size="8.8" text-anchor="middle" fill="#222">−4</text>
<text x="289.64" y="390.6" font-size="8.8" text-anchor="middle" fill="#222">−2</text>
<text x="328.7" y="390.6" font-size="8.8" text-anchor="middle" fill="#222">0</text>
<text x="367.46" y="390.6" font-size="8.8" text-anchor="middle" fill="#222">2</text>
<text x="406.22" y="390.6" font-size="8.8" text-anchor="middle" fill="#222">4</text>
<text x="444.98" y="390.6" font-size="8.8" text-anchor="middle" fill="#222">6</text>
<text x="193.4" y="371.3" font-size="8.8" text-anchor="end" fill="#222">0</text>
<text x="193.4" y="325.6" font-size="8.8" text-anchor="end" fill="#222">5</text>
<text x="193.4" y="279.9" font-size="8.8" text-anchor="end" fill="#222">10</text>
<text x="328.6" y="404.7" font-size="9.4" text-anchor="middle" fill="#222">log2FC</text>
<text x="176.8" y="311.4" font-size="9.3" text-anchor="middle" fill="#222" transform="rotate(-90 176.8 311.4)">-log10P</text>
<text x="328.1" y="219.1" font-size="9" text-anchor="middle" fill="#111">ST2 High vs ST2 KO</text>
<text x="226.2" y="233.6" font-size="9.2" font-weight="bold" fill="#111">Downregulated</text>
<text x="355.8" y="233" font-size="9.2" font-weight="bold" fill="#111">Upregulated</text>
<path d="M301.5 279.5 L302.5 282.2 L307 289.5 L312.5 300.3 L317 311.1 L320.6 322 L323.3 332.8 L326 345.5 L327.8 354.5 L328.7 359.6 L328.7 369.3 L322.7 367.7 L315.3 365.8 L309.8 364 L307 360.3 L304.2 356.6 L300.4 352 L300.1 340 L299.7 300 L299.9 278.4 Z" fill="#000"/>
<path d="M355.9 279.5 L354.9 282.2 L350.4 289.5 L344.9 300.3 L340.4 311.1 L336.8 322 L334.1 332.8 L331.4 345.5 L329.6 354.5 L328.7 359.6 L328.7 369.3 L336.5 366.8 L343 364.9 L348.5 362 L352.2 359.4 L355.9 349 L356.5 340 L357.3 300 L357.1 277.6 Z" fill="#000"/>
<circle cx="306.47" cy="359.45" r="1.6" fill="#000"/>
<circle cx="300.31" cy="320.54" r="1.6" fill="#000"/>
<circle cx="323.52" cy="368.42" r="1.6" fill="#000"/>
<circle cx="317.88" cy="366.49" r="1.6" fill="#000"/>
<circle cx="322.24" cy="367.44" r="1.6" fill="#000"/>
<circle cx="299" cy="305.11" r="1.6" fill="#000"/>
<circle cx="300.01" cy="329.25" r="1.6" fill="#000"/>
<circle cx="300.08" cy="343.51" r="1.6" fill="#000"/>
<circle cx="300.43" cy="344.83" r="1.6" fill="#000"/>
<circle cx="299.25" cy="305.53" r="1.6" fill="#000"/>
<circle cx="322.62" cy="368.65" r="1.6" fill="#000"/>
<circle cx="300.01" cy="313.81" r="1.6" fill="#000"/>
<circle cx="300.75" cy="338.07" r="1.6" fill="#000"/>
<circle cx="300.18" cy="307.58" r="1.6" fill="#000"/>
<circle cx="305.02" cy="356.1" r="1.6" fill="#000"/>
<circle cx="300.6" cy="314.58" r="1.6" fill="#000"/>
<circle cx="318.9" cy="366.19" r="1.6" fill="#000"/>
<circle cx="299.46" cy="282.23" r="1.6" fill="#000"/>
<circle cx="299.68" cy="343.65" r="1.6" fill="#000"/>
<circle cx="299.72" cy="307.73" r="1.6" fill="#000"/>
<circle cx="299.92" cy="328.14" r="1.6" fill="#000"/>
<circle cx="327.03" cy="368.9" r="1.6" fill="#000"/>
<circle cx="300.17" cy="341.92" r="1.6" fill="#000"/>
<circle cx="318.76" cy="366.23" r="1.6" fill="#000"/>
<circle cx="300.24" cy="311.25" r="1.6" fill="#000"/>
<circle cx="299.43" cy="290.74" r="1.6" fill="#000"/>
<circle cx="303.14" cy="356.09" r="1.6" fill="#000"/>
<circle cx="305.41" cy="358" r="1.6" fill="#000"/>
<circle cx="304.47" cy="357.4" r="1.6" fill="#000"/>
<circle cx="300.11" cy="307.41" r="1.6" fill="#000"/>
<circle cx="300.1" cy="350.25" r="1.6" fill="#000"/>
<circle cx="308.63" cy="363.16" r="1.6" fill="#000"/>
<circle cx="314.73" cy="366.79" r="1.6" fill="#000"/>
<circle cx="300.43" cy="350.92" r="1.6" fill="#000"/>
<circle cx="302.27" cy="353.83" r="1.6" fill="#000"/>
<circle cx="300.59" cy="329.43" r="1.6" fill="#000"/>
<circle cx="308" cy="361.83" r="1.6" fill="#000"/>
<circle cx="300.21" cy="319.15" r="1.6" fill="#000"/>
<circle cx="300.38" cy="322.72" r="1.6" fill="#000"/>
<circle cx="300.12" cy="314.5" r="1.6" fill="#000"/>
<circle cx="300.06" cy="324.7" r="1.6" fill="#000"/>
<circle cx="326.7" cy="368.81" r="1.6" fill="#000"/>
<circle cx="299.37" cy="278.64" r="1.6" fill="#000"/>
<circle cx="300.53" cy="312.5" r="1.6" fill="#000"/>
<circle cx="301.28" cy="352.35" r="1.6" fill="#000"/>
<circle cx="301.04" cy="339.61" r="1.6" fill="#000"/>
<circle cx="300.3" cy="349.18" r="1.6" fill="#000"/>
<circle cx="300.37" cy="314.78" r="1.6" fill="#000"/>
<circle cx="356.16" cy="336.05" r="1.6" fill="#000"/>
<circle cx="357.48" cy="338.1" r="1.6" fill="#000"/>
<circle cx="356.14" cy="331.06" r="1.6" fill="#000"/>
<circle cx="356.38" cy="312.54" r="1.6" fill="#000"/>
<circle cx="344.14" cy="364.55" r="1.6" fill="#000"/>
<circle cx="357.39" cy="288.92" r="1.6" fill="#000"/>
<circle cx="343.67" cy="365.22" r="1.6" fill="#000"/>
<circle cx="355.58" cy="343.82" r="1.6" fill="#000"/>
<circle cx="356.86" cy="280.8" r="1.6" fill="#000"/>
<circle cx="346.63" cy="363.51" r="1.6" fill="#000"/>
<circle cx="350.74" cy="360.14" r="1.6" fill="#000"/>
<circle cx="355.84" cy="340.87" r="1.6" fill="#000"/>
<circle cx="356.81" cy="333.57" r="1.6" fill="#000"/>
<circle cx="357.28" cy="306.14" r="1.6" fill="#000"/>
<circle cx="356.46" cy="325.69" r="1.6" fill="#000"/>
<circle cx="333.01" cy="367.69" r="1.6" fill="#000"/>
<circle cx="356.59" cy="319.46" r="1.6" fill="#000"/>
<circle cx="356.38" cy="320.54" r="1.6" fill="#000"/>
<circle cx="355.76" cy="345.98" r="1.6" fill="#000"/>
<circle cx="357.06" cy="305.68" r="1.6" fill="#000"/>
<circle cx="356.82" cy="325.25" r="1.6" fill="#000"/>
<circle cx="353.75" cy="353.51" r="1.6" fill="#000"/>
<circle cx="356.82" cy="341.08" r="1.6" fill="#000"/>
<circle cx="334.73" cy="367.78" r="1.6" fill="#000"/>
<circle cx="350.36" cy="359.8" r="1.6" fill="#000"/>
<circle cx="356.52" cy="321.32" r="1.6" fill="#000"/>
<circle cx="357.74" cy="302.09" r="1.6" fill="#000"/>
<circle cx="357.44" cy="318.45" r="1.6" fill="#000"/>
<circle cx="355.68" cy="342.36" r="1.6" fill="#000"/>
<circle cx="355.66" cy="344.89" r="1.6" fill="#000"/>
<circle cx="356.47" cy="337.73" r="1.6" fill="#000"/>
<circle cx="356.67" cy="307.2" r="1.6" fill="#000"/>
<circle cx="356.79" cy="298.42" r="1.6" fill="#000"/>
<circle cx="342.47" cy="364.58" r="1.6" fill="#000"/>
<circle cx="337.16" cy="366.15" r="1.6" fill="#000"/>
<circle cx="356.55" cy="332.87" r="1.6" fill="#000"/>
<circle cx="357.1" cy="336.82" r="1.6" fill="#000"/>
<circle cx="355.93" cy="317.55" r="1.6" fill="#000"/>
<circle cx="357.57" cy="321.51" r="1.6" fill="#000"/>
<circle cx="357.01" cy="287.63" r="1.6" fill="#000"/>
<circle cx="354.26" cy="353.98" r="1.6" fill="#000"/>
<circle cx="357.12" cy="322.86" r="1.6" fill="#000"/>
<circle cx="357.66" cy="325.21" r="1.6" fill="#000"/>
<circle cx="357.4" cy="332.28" r="1.6" fill="#000"/>
<circle cx="339.09" cy="365.59" r="1.6" fill="#000"/>
<circle cx="355.33" cy="341.14" r="1.6" fill="#000"/>
<circle cx="296.54" cy="342.72" r="1.75" fill="#0808ee"/>
<circle cx="299.3" cy="333.66" r="1.75" fill="#0808ee"/>
<circle cx="291.35" cy="323.72" r="1.75" fill="#0808ee"/>
<circle cx="298.52" cy="298.48" r="1.75" fill="#0808ee"/>
<circle cx="299.44" cy="287.11" r="1.75" fill="#0808ee"/>
<circle cx="292.96" cy="322.7" r="1.75" fill="#0808ee"/>
<circle cx="295.95" cy="299.6" r="1.75" fill="#0808ee"/>
<circle cx="299.61" cy="353.24" r="1.75" fill="#0808ee"/>
<circle cx="294.66" cy="339.55" r="1.75" fill="#0808ee"/>
<circle cx="296.08" cy="322.66" r="1.75" fill="#0808ee"/>
<circle cx="299.43" cy="282.26" r="1.75" fill="#0808ee"/>
<circle cx="292.62" cy="350.32" r="1.75" fill="#0808ee"/>
<circle cx="291.79" cy="324.91" r="1.75" fill="#0808ee"/>
<circle cx="292.49" cy="309.33" r="1.75" fill="#0808ee"/>
<circle cx="288.13" cy="349.76" r="1.75" fill="#0808ee"/>
<circle cx="288.06" cy="330.24" r="1.75" fill="#0808ee"/>
<circle cx="298.19" cy="333.66" r="1.75" fill="#0808ee"/>
<circle cx="296.5" cy="293.06" r="1.75" fill="#0808ee"/>
<circle cx="294.61" cy="351.56" r="1.75" fill="#0808ee"/>
<circle cx="292.11" cy="327.2" r="1.75" fill="#0808ee"/>
<circle cx="290.72" cy="352.39" r="1.75" fill="#0808ee"/>
<circle cx="290" cy="299.1" r="1.75" fill="#0808ee"/>
<circle cx="299.61" cy="325.66" r="1.75" fill="#0808ee"/>
<circle cx="298.88" cy="321.93" r="1.75" fill="#0808ee"/>
<circle cx="299.13" cy="291.45" r="1.75" fill="#0808ee"/>
<circle cx="298.35" cy="311.07" r="1.75" fill="#0808ee"/>
<circle cx="292.94" cy="338.48" r="1.75" fill="#0808ee"/>
<circle cx="298.06" cy="289.86" r="1.75" fill="#0808ee"/>
<circle cx="299.45" cy="341.29" r="1.75" fill="#0808ee"/>
<circle cx="296.91" cy="318.62" r="1.75" fill="#0808ee"/>
<circle cx="296.45" cy="349.55" r="1.75" fill="#0808ee"/>
<circle cx="294.03" cy="309.34" r="1.75" fill="#0808ee"/>
<circle cx="292.25" cy="327.71" r="1.75" fill="#0808ee"/>
<circle cx="297.13" cy="353.39" r="1.75" fill="#0808ee"/>
<circle cx="294.5" cy="316.5" r="1.75" fill="#0808ee"/>
<circle cx="295.62" cy="288.25" r="1.75" fill="#0808ee"/>
<circle cx="298.17" cy="298.77" r="1.75" fill="#0808ee"/>
<circle cx="292.06" cy="296.72" r="1.75" fill="#0808ee"/>
<circle cx="289.13" cy="344.02" r="1.75" fill="#0808ee"/>
<circle cx="289.17" cy="334.46" r="1.75" fill="#0808ee"/>
<circle cx="292.6" cy="291.75" r="1.75" fill="#0808ee"/>
<circle cx="293.7" cy="320.37" r="1.75" fill="#0808ee"/>
<circle cx="299.26" cy="316.41" r="1.75" fill="#0808ee"/>
<circle cx="297.8" cy="332.76" r="1.75" fill="#0808ee"/>
<circle cx="296.35" cy="286.27" r="1.75" fill="#0808ee"/>
<circle cx="293.15" cy="309.87" r="1.75" fill="#0808ee"/>
<circle cx="298.44" cy="338.27" r="1.75" fill="#0808ee"/>
<circle cx="289.82" cy="349.57" r="1.75" fill="#0808ee"/>
<circle cx="288.71" cy="333.11" r="1.75" fill="#0808ee"/>
<circle cx="296.21" cy="324.24" r="1.75" fill="#0808ee"/>
<circle cx="295.59" cy="327.71" r="1.75" fill="#0808ee"/>
<circle cx="295.82" cy="309.93" r="1.75" fill="#0808ee"/>
<circle cx="297.45" cy="346.69" r="1.75" fill="#0808ee"/>
<circle cx="295.7" cy="350.63" r="1.75" fill="#0808ee"/>
<circle cx="295.54" cy="326.01" r="1.75" fill="#0808ee"/>
<circle cx="291.15" cy="349.97" r="1.75" fill="#0808ee"/>
<circle cx="296.13" cy="303.22" r="1.75" fill="#0808ee"/>
<circle cx="296.79" cy="297.96" r="1.75" fill="#0808ee"/>
<circle cx="292.07" cy="352.53" r="1.75" fill="#0808ee"/>
<circle cx="296.26" cy="304.31" r="1.75" fill="#0808ee"/>
<circle cx="294.58" cy="313.02" r="1.75" fill="#0808ee"/>
<circle cx="288.15" cy="316.84" r="1.75" fill="#0808ee"/>
<circle cx="294.33" cy="299.15" r="1.75" fill="#0808ee"/>
<circle cx="295.75" cy="353.39" r="1.75" fill="#0808ee"/>
<circle cx="297.48" cy="317.5" r="1.75" fill="#0808ee"/>
<circle cx="288.78" cy="321.24" r="1.75" fill="#0808ee"/>
<circle cx="297.37" cy="283.43" r="1.75" fill="#0808ee"/>
<circle cx="296.09" cy="343.42" r="1.75" fill="#0808ee"/>
<circle cx="294.25" cy="336.7" r="1.75" fill="#0808ee"/>
<circle cx="298.96" cy="306.94" r="1.75" fill="#0808ee"/>
<circle cx="292.43" cy="290.29" r="1.75" fill="#0808ee"/>
<circle cx="298.75" cy="289.65" r="1.75" fill="#0808ee"/>
<circle cx="290.97" cy="342.83" r="1.75" fill="#0808ee"/>
<circle cx="295.16" cy="316.01" r="1.75" fill="#0808ee"/>
<circle cx="297.04" cy="349.7" r="1.75" fill="#0808ee"/>
<circle cx="290.4" cy="347.48" r="1.75" fill="#0808ee"/>
<circle cx="295.02" cy="330.23" r="1.75" fill="#0808ee"/>
<circle cx="289.45" cy="324.21" r="1.75" fill="#0808ee"/>
<circle cx="295.81" cy="286.49" r="1.75" fill="#0808ee"/>
<circle cx="296.63" cy="307.36" r="1.75" fill="#0808ee"/>
<circle cx="297.87" cy="303.91" r="1.75" fill="#0808ee"/>
<circle cx="291.61" cy="302.86" r="1.75" fill="#0808ee"/>
<circle cx="295.09" cy="343.9" r="1.75" fill="#0808ee"/>
<circle cx="293.23" cy="294.75" r="1.75" fill="#0808ee"/>
<circle cx="297.1" cy="353.14" r="1.75" fill="#0808ee"/>
<circle cx="298.33" cy="288" r="1.75" fill="#0808ee"/>
<circle cx="299.61" cy="351.94" r="1.75" fill="#0808ee"/>
<circle cx="299.06" cy="291.08" r="1.75" fill="#0808ee"/>
<circle cx="296.29" cy="310.45" r="1.75" fill="#0808ee"/>
<circle cx="292.24" cy="331.46" r="1.75" fill="#0808ee"/>
<circle cx="291.87" cy="329.78" r="1.75" fill="#0808ee"/>
<circle cx="294.39" cy="339.01" r="1.75" fill="#0808ee"/>
<circle cx="299.63" cy="316.48" r="1.75" fill="#0808ee"/>
<circle cx="297.55" cy="340.32" r="1.75" fill="#0808ee"/>
<circle cx="289.8" cy="336.79" r="1.75" fill="#0808ee"/>
<circle cx="299.03" cy="313.78" r="1.75" fill="#0808ee"/>
<circle cx="294.43" cy="351.92" r="1.75" fill="#0808ee"/>
<circle cx="296.67" cy="316.64" r="1.75" fill="#0808ee"/>
<circle cx="297.41" cy="284.03" r="1.75" fill="#0808ee"/>
<circle cx="290.94" cy="327.25" r="1.75" fill="#0808ee"/>
<circle cx="289.26" cy="352.79" r="1.75" fill="#0808ee"/>
<circle cx="297.96" cy="289.99" r="1.75" fill="#0808ee"/>
<circle cx="294.8" cy="346.76" r="1.75" fill="#0808ee"/>
<circle cx="294.03" cy="308.85" r="1.75" fill="#0808ee"/>
<circle cx="293.6" cy="352.36" r="1.75" fill="#0808ee"/>
<circle cx="299.47" cy="330.9" r="1.75" fill="#0808ee"/>
<circle cx="299.58" cy="350.65" r="1.75" fill="#0808ee"/>
<circle cx="293.09" cy="330.87" r="1.75" fill="#0808ee"/>
<circle cx="299.15" cy="292.39" r="1.75" fill="#0808ee"/>
<circle cx="296.45" cy="294.16" r="1.75" fill="#0808ee"/>
<circle cx="293.52" cy="317.63" r="1.75" fill="#0808ee"/>
<circle cx="295.82" cy="312.32" r="1.75" fill="#0808ee"/>
<circle cx="297.78" cy="341.38" r="1.75" fill="#0808ee"/>
<circle cx="289.86" cy="345.61" r="1.75" fill="#0808ee"/>
<circle cx="296.26" cy="306.12" r="1.75" fill="#0808ee"/>
<circle cx="296.88" cy="334.55" r="1.75" fill="#0808ee"/>
<circle cx="289.36" cy="345.54" r="1.75" fill="#0808ee"/>
<circle cx="297.8" cy="292.66" r="1.75" fill="#0808ee"/>
<circle cx="297.46" cy="336.77" r="1.75" fill="#0808ee"/>
<circle cx="289.75" cy="339.22" r="1.75" fill="#0808ee"/>
<circle cx="288.05" cy="306.27" r="1.75" fill="#0808ee"/>
<circle cx="290.26" cy="344.42" r="1.75" fill="#0808ee"/>
<circle cx="298.03" cy="304.19" r="1.75" fill="#0808ee"/>
<circle cx="290.55" cy="344.44" r="1.75" fill="#0808ee"/>
<circle cx="298.14" cy="342.16" r="1.75" fill="#0808ee"/>
<circle cx="298.75" cy="330.11" r="1.75" fill="#0808ee"/>
<circle cx="294.87" cy="316.32" r="1.75" fill="#0808ee"/>
<circle cx="299.36" cy="345.04" r="1.75" fill="#0808ee"/>
<circle cx="298.91" cy="340.38" r="1.75" fill="#0808ee"/>
<circle cx="298.33" cy="287.7" r="1.75" fill="#0808ee"/>
<circle cx="296.4" cy="348.22" r="1.75" fill="#0808ee"/>
<circle cx="292.77" cy="289.89" r="1.75" fill="#0808ee"/>
<circle cx="291.01" cy="317.05" r="1.75" fill="#0808ee"/>
<circle cx="296.35" cy="332.17" r="1.75" fill="#0808ee"/>
<circle cx="297.18" cy="300.24" r="1.75" fill="#0808ee"/>
<circle cx="290.88" cy="328.28" r="1.75" fill="#0808ee"/>
<circle cx="290.04" cy="317.33" r="1.75" fill="#0808ee"/>
<circle cx="292.51" cy="341.66" r="1.75" fill="#0808ee"/>
<circle cx="297.8" cy="343.17" r="1.75" fill="#0808ee"/>
<circle cx="289.31" cy="306.86" r="1.75" fill="#0808ee"/>
<circle cx="289.5" cy="304.99" r="1.75" fill="#0808ee"/>
<circle cx="290.86" cy="331.81" r="1.75" fill="#0808ee"/>
<circle cx="291.41" cy="347.29" r="1.75" fill="#0808ee"/>
<circle cx="292.91" cy="352.48" r="1.75" fill="#0808ee"/>
<circle cx="288.52" cy="301.46" r="1.75" fill="#0808ee"/>
<circle cx="298.51" cy="302.46" r="1.75" fill="#0808ee"/>
<circle cx="290.59" cy="352.54" r="1.75" fill="#0808ee"/>
<circle cx="294.08" cy="331.76" r="1.75" fill="#0808ee"/>
<circle cx="293.4" cy="296.59" r="1.75" fill="#0808ee"/>
<circle cx="292" cy="344.94" r="1.75" fill="#0808ee"/>
<circle cx="294.23" cy="321.68" r="1.75" fill="#0808ee"/>
<circle cx="299.6" cy="348.33" r="1.75" fill="#0808ee"/>
<circle cx="296.55" cy="346.16" r="1.75" fill="#0808ee"/>
<circle cx="297.84" cy="310.73" r="1.75" fill="#0808ee"/>
<circle cx="288.58" cy="331.23" r="1.75" fill="#0808ee"/>
<circle cx="293.04" cy="307.07" r="1.75" fill="#0808ee"/>
<circle cx="292.68" cy="315.4" r="1.75" fill="#0808ee"/>
<circle cx="299.63" cy="292.57" r="1.75" fill="#0808ee"/>
<circle cx="298.55" cy="345.8" r="1.75" fill="#0808ee"/>
<circle cx="294.79" cy="319.52" r="1.75" fill="#0808ee"/>
<circle cx="291.55" cy="340.46" r="1.75" fill="#0808ee"/>
<circle cx="288.82" cy="319.75" r="1.75" fill="#0808ee"/>
<circle cx="290.3" cy="329.34" r="1.75" fill="#0808ee"/>
<circle cx="299.26" cy="353.34" r="1.75" fill="#0808ee"/>
<circle cx="293.12" cy="331.68" r="1.75" fill="#0808ee"/>
<circle cx="295.62" cy="337.51" r="1.75" fill="#0808ee"/>
<circle cx="298.39" cy="326.38" r="1.75" fill="#0808ee"/>
<circle cx="297.66" cy="292.24" r="1.75" fill="#0808ee"/>
<circle cx="298.39" cy="284.75" r="1.75" fill="#0808ee"/>
<circle cx="290.07" cy="335.39" r="1.75" fill="#0808ee"/>
<circle cx="291.31" cy="321.76" r="1.75" fill="#0808ee"/>
<circle cx="295.32" cy="301.21" r="1.75" fill="#0808ee"/>
<circle cx="290.49" cy="345.65" r="1.75" fill="#0808ee"/>
<circle cx="289.4" cy="352.86" r="1.75" fill="#0808ee"/>
<circle cx="299.62" cy="325.14" r="1.75" fill="#0808ee"/>
<circle cx="297.19" cy="330.53" r="1.75" fill="#0808ee"/>
<circle cx="295.16" cy="328.03" r="1.75" fill="#0808ee"/>
<circle cx="289.38" cy="297.66" r="1.75" fill="#0808ee"/>
<circle cx="296.7" cy="339.71" r="1.75" fill="#0808ee"/>
<circle cx="292.93" cy="345.49" r="1.75" fill="#0808ee"/>
<circle cx="296.09" cy="308.43" r="1.75" fill="#0808ee"/>
<circle cx="299.62" cy="301.37" r="1.75" fill="#0808ee"/>
<circle cx="291.85" cy="334.62" r="1.75" fill="#0808ee"/>
<circle cx="297.73" cy="321.64" r="1.75" fill="#0808ee"/>
<circle cx="297.24" cy="298.9" r="1.75" fill="#0808ee"/>
<circle cx="293.77" cy="339.15" r="1.75" fill="#0808ee"/>
<circle cx="290.82" cy="320.1" r="1.75" fill="#0808ee"/>
<circle cx="298.79" cy="330.62" r="1.75" fill="#0808ee"/>
<circle cx="295.03" cy="290.09" r="1.75" fill="#0808ee"/>
<circle cx="296.98" cy="328.76" r="1.75" fill="#0808ee"/>
<circle cx="288.35" cy="333.31" r="1.75" fill="#0808ee"/>
<circle cx="290.54" cy="350.51" r="1.75" fill="#0808ee"/>
<circle cx="296.17" cy="345.89" r="1.75" fill="#0808ee"/>
<circle cx="289.72" cy="324.51" r="1.75" fill="#0808ee"/>
<circle cx="298.02" cy="350.35" r="1.75" fill="#0808ee"/>
<circle cx="295.85" cy="350.27" r="1.75" fill="#0808ee"/>
<circle cx="295.09" cy="308.24" r="1.75" fill="#0808ee"/>
<circle cx="297.09" cy="346.67" r="1.75" fill="#0808ee"/>
<circle cx="296.53" cy="346.8" r="1.75" fill="#0808ee"/>
<circle cx="290.31" cy="350.56" r="1.75" fill="#0808ee"/>
<circle cx="291.76" cy="337.97" r="1.75" fill="#0808ee"/>
<circle cx="291.93" cy="307.13" r="1.75" fill="#0808ee"/>
<circle cx="298.77" cy="303.32" r="1.75" fill="#0808ee"/>
<circle cx="288.82" cy="323.97" r="1.75" fill="#0808ee"/>
<circle cx="293.06" cy="338.34" r="1.75" fill="#0808ee"/>
<circle cx="298.43" cy="304.61" r="1.75" fill="#0808ee"/>
<circle cx="290.64" cy="345.39" r="1.75" fill="#0808ee"/>
<circle cx="298.94" cy="334.92" r="1.75" fill="#0808ee"/>
<circle cx="293.3" cy="335.62" r="1.75" fill="#0808ee"/>
<circle cx="288.54" cy="308.11" r="1.75" fill="#0808ee"/>
<circle cx="289.25" cy="321.5" r="1.75" fill="#0808ee"/>
<circle cx="291.55" cy="292.93" r="1.75" fill="#0808ee"/>
<circle cx="299.48" cy="318.05" r="1.75" fill="#0808ee"/>
<circle cx="298.31" cy="300.32" r="1.75" fill="#0808ee"/>
<circle cx="297.88" cy="305.23" r="1.75" fill="#0808ee"/>
<circle cx="296.85" cy="313.34" r="1.75" fill="#0808ee"/>
<circle cx="292.6" cy="295.44" r="1.75" fill="#0808ee"/>
<circle cx="289.89" cy="332.04" r="1.75" fill="#0808ee"/>
<circle cx="292.47" cy="346.39" r="1.75" fill="#0808ee"/>
<circle cx="299.06" cy="306.76" r="1.75" fill="#0808ee"/>
<circle cx="289.39" cy="310.83" r="1.75" fill="#0808ee"/>
<circle cx="294.7" cy="316.31" r="1.75" fill="#0808ee"/>
<circle cx="291.91" cy="322.27" r="1.75" fill="#0808ee"/>
<circle cx="296.51" cy="296.93" r="1.75" fill="#0808ee"/>
<circle cx="296.45" cy="292.37" r="1.75" fill="#0808ee"/>
<circle cx="290.94" cy="306.16" r="1.75" fill="#0808ee"/>
<circle cx="290.45" cy="291.07" r="1.75" fill="#0808ee"/>
<circle cx="288.15" cy="328.62" r="1.75" fill="#0808ee"/>
<circle cx="296.36" cy="307" r="1.75" fill="#0808ee"/>
<circle cx="288.48" cy="319.81" r="1.75" fill="#0808ee"/>
<circle cx="299.53" cy="352.52" r="1.75" fill="#0808ee"/>
<circle cx="295.34" cy="303.22" r="1.75" fill="#0808ee"/>
<circle cx="289.67" cy="336.03" r="1.75" fill="#0808ee"/>
<circle cx="294.7" cy="325.02" r="1.75" fill="#0808ee"/>
<circle cx="299.09" cy="353.57" r="1.75" fill="#0808ee"/>
<circle cx="294.61" cy="325.69" r="1.75" fill="#0808ee"/>
<circle cx="290.02" cy="346.7" r="1.75" fill="#0808ee"/>
<circle cx="290.18" cy="341.96" r="1.75" fill="#0808ee"/>
<circle cx="294.42" cy="310.43" r="1.75" fill="#0808ee"/>
<circle cx="298.68" cy="286.42" r="1.75" fill="#0808ee"/>
<circle cx="288.63" cy="294.26" r="1.75" fill="#0808ee"/>
<circle cx="299.63" cy="312.36" r="1.75" fill="#0808ee"/>
<circle cx="292.71" cy="297.74" r="1.75" fill="#0808ee"/>
<circle cx="298.18" cy="348.83" r="1.75" fill="#0808ee"/>
<circle cx="290.8" cy="342.38" r="1.75" fill="#0808ee"/>
<circle cx="299.29" cy="350.31" r="1.75" fill="#0808ee"/>
<circle cx="293.05" cy="324.12" r="1.75" fill="#0808ee"/>
<circle cx="291.66" cy="304.49" r="1.75" fill="#0808ee"/>
<circle cx="299.62" cy="286.77" r="1.75" fill="#0808ee"/>
<circle cx="289.79" cy="296.09" r="1.75" fill="#0808ee"/>
<circle cx="291.37" cy="334.99" r="1.75" fill="#0808ee"/>
<circle cx="297.73" cy="290.42" r="1.75" fill="#0808ee"/>
<circle cx="295.86" cy="326.35" r="1.75" fill="#0808ee"/>
<circle cx="292.34" cy="313.23" r="1.75" fill="#0808ee"/>
<circle cx="292.41" cy="318.06" r="1.75" fill="#0808ee"/>
<circle cx="294.8" cy="305.33" r="1.75" fill="#0808ee"/>
<circle cx="296.14" cy="341.37" r="1.75" fill="#0808ee"/>
<circle cx="289.36" cy="303.32" r="1.75" fill="#0808ee"/>
<circle cx="292.07" cy="347.14" r="1.75" fill="#0808ee"/>
<circle cx="299.42" cy="287.94" r="1.75" fill="#0808ee"/>
<circle cx="288.86" cy="342.15" r="1.75" fill="#0808ee"/>
<circle cx="293.26" cy="353.21" r="1.75" fill="#0808ee"/>
<circle cx="296.17" cy="309.52" r="1.75" fill="#0808ee"/>
<circle cx="296.54" cy="300.66" r="1.75" fill="#0808ee"/>
<circle cx="289.3" cy="348.86" r="1.75" fill="#0808ee"/>
<circle cx="292.48" cy="335.16" r="1.75" fill="#0808ee"/>
<circle cx="298.43" cy="335.27" r="1.75" fill="#0808ee"/>
<circle cx="295.13" cy="294.24" r="1.75" fill="#0808ee"/>
<circle cx="291.42" cy="353.51" r="1.75" fill="#0808ee"/>
<circle cx="299.35" cy="281.32" r="1.75" fill="#0808ee"/>
<circle cx="281.34" cy="306.76" r="1.75" fill="#0808ee"/>
<circle cx="284.35" cy="293.25" r="1.75" fill="#0808ee"/>
<circle cx="281.33" cy="307.86" r="1.75" fill="#0808ee"/>
<circle cx="285.81" cy="297.06" r="1.75" fill="#0808ee"/>
<circle cx="286.3" cy="339.69" r="1.75" fill="#0808ee"/>
<circle cx="280.72" cy="292.73" r="1.75" fill="#0808ee"/>
<circle cx="285.2" cy="328.14" r="1.75" fill="#0808ee"/>
<circle cx="287.18" cy="308.95" r="1.75" fill="#0808ee"/>
<circle cx="278.06" cy="335.02" r="1.75" fill="#0808ee"/>
<circle cx="281.66" cy="311.3" r="1.75" fill="#0808ee"/>
<circle cx="287.73" cy="314.04" r="1.75" fill="#0808ee"/>
<circle cx="285.5" cy="335.09" r="1.75" fill="#0808ee"/>
<circle cx="274.67" cy="334.82" r="1.75" fill="#0808ee"/>
<circle cx="284.49" cy="307.14" r="1.75" fill="#0808ee"/>
<circle cx="283.6" cy="345.62" r="1.75" fill="#0808ee"/>
<circle cx="276.56" cy="327.31" r="1.75" fill="#0808ee"/>
<circle cx="283.49" cy="288.18" r="1.75" fill="#0808ee"/>
<circle cx="274.92" cy="287.22" r="1.75" fill="#0808ee"/>
<circle cx="283.51" cy="298.77" r="1.75" fill="#0808ee"/>
<circle cx="276.84" cy="329.96" r="1.75" fill="#0808ee"/>
<circle cx="274.92" cy="334.36" r="1.75" fill="#0808ee"/>
<circle cx="279.8" cy="329.18" r="1.75" fill="#0808ee"/>
<circle cx="286.29" cy="339.68" r="1.75" fill="#0808ee"/>
<circle cx="275.36" cy="333.09" r="1.75" fill="#0808ee"/>
<circle cx="275.83" cy="331.2" r="1.75" fill="#0808ee"/>
<circle cx="284.69" cy="333.79" r="1.75" fill="#0808ee"/>
<circle cx="274.63" cy="334.65" r="1.75" fill="#0808ee"/>
<circle cx="276.64" cy="323.73" r="1.75" fill="#0808ee"/>
<circle cx="275.2" cy="296.8" r="1.75" fill="#0808ee"/>
<circle cx="285.61" cy="314.64" r="1.75" fill="#0808ee"/>
<circle cx="287.02" cy="322.05" r="1.75" fill="#0808ee"/>
<circle cx="288.71" cy="304.05" r="1.75" fill="#0808ee"/>
<circle cx="280.79" cy="327.7" r="1.75" fill="#0808ee"/>
<circle cx="288.85" cy="286.46" r="1.75" fill="#0808ee"/>
<circle cx="287.5" cy="327.62" r="1.75" fill="#0808ee"/>
<circle cx="288.72" cy="324.44" r="1.75" fill="#0808ee"/>
<circle cx="283.64" cy="312.39" r="1.75" fill="#0808ee"/>
<circle cx="284.77" cy="331.33" r="1.75" fill="#0808ee"/>
<circle cx="277.82" cy="325.65" r="1.75" fill="#0808ee"/>
<circle cx="284.65" cy="315.51" r="1.75" fill="#0808ee"/>
<circle cx="285.47" cy="300.31" r="1.75" fill="#0808ee"/>
<circle cx="288.02" cy="328.2" r="1.75" fill="#0808ee"/>
<circle cx="283.36" cy="330" r="1.75" fill="#0808ee"/>
<circle cx="276.97" cy="320.71" r="1.75" fill="#0808ee"/>
<circle cx="283.36" cy="316.45" r="1.75" fill="#0808ee"/>
<circle cx="277.13" cy="328.86" r="1.75" fill="#0808ee"/>
<circle cx="277.15" cy="285.36" r="1.75" fill="#0808ee"/>
<circle cx="285.58" cy="337.11" r="1.75" fill="#0808ee"/>
<circle cx="277.78" cy="323.58" r="1.75" fill="#0808ee"/>
<circle cx="286.12" cy="343.5" r="1.75" fill="#0808ee"/>
<circle cx="280.47" cy="286.2" r="1.75" fill="#0808ee"/>
<circle cx="276.32" cy="306.55" r="1.75" fill="#0808ee"/>
<circle cx="283.1" cy="283.8" r="1.75" fill="#0808ee"/>
<circle cx="279.76" cy="284.98" r="1.75" fill="#0808ee"/>
<circle cx="279.33" cy="300.86" r="1.75" fill="#0808ee"/>
<circle cx="279.14" cy="335.73" r="1.75" fill="#0808ee"/>
<circle cx="285.77" cy="344.07" r="1.75" fill="#0808ee"/>
<circle cx="275.51" cy="282.6" r="1.75" fill="#0808ee"/>
<circle cx="280.61" cy="334.81" r="1.75" fill="#0808ee"/>
<circle cx="287.5" cy="319.64" r="1.75" fill="#0808ee"/>
<circle cx="283.8" cy="334.28" r="1.75" fill="#0808ee"/>
<circle cx="287.95" cy="306.18" r="1.75" fill="#0808ee"/>
<circle cx="277.72" cy="338.56" r="1.75" fill="#0808ee"/>
<circle cx="284.97" cy="328.13" r="1.75" fill="#0808ee"/>
<circle cx="281.56" cy="307.18" r="1.75" fill="#0808ee"/>
<circle cx="283.51" cy="290.92" r="1.75" fill="#0808ee"/>
<circle cx="283.8" cy="327.32" r="1.75" fill="#0808ee"/>
<circle cx="278.12" cy="291.83" r="1.75" fill="#0808ee"/>
<circle cx="276.38" cy="331.34" r="1.75" fill="#0808ee"/>
<circle cx="286.54" cy="318.14" r="1.75" fill="#0808ee"/>
<circle cx="274.95" cy="304.29" r="1.75" fill="#0808ee"/>
<circle cx="280.33" cy="324.05" r="1.75" fill="#0808ee"/>
<circle cx="274.59" cy="329.44" r="1.75" fill="#0808ee"/>
<circle cx="281.3" cy="302.69" r="1.75" fill="#0808ee"/>
<circle cx="277.44" cy="293.45" r="1.75" fill="#0808ee"/>
<circle cx="283.86" cy="329.45" r="1.75" fill="#0808ee"/>
<circle cx="274.76" cy="308.14" r="1.75" fill="#0808ee"/>
<circle cx="285.36" cy="339.01" r="1.75" fill="#0808ee"/>
<circle cx="277.55" cy="291.36" r="1.75" fill="#0808ee"/>
<circle cx="281.14" cy="320.87" r="1.75" fill="#0808ee"/>
<circle cx="279.77" cy="283.51" r="1.75" fill="#0808ee"/>
<circle cx="281.01" cy="295.6" r="1.75" fill="#0808ee"/>
<circle cx="276.31" cy="296.63" r="1.75" fill="#0808ee"/>
<circle cx="282.39" cy="334.53" r="1.75" fill="#0808ee"/>
<circle cx="279.21" cy="292.59" r="1.75" fill="#0808ee"/>
<circle cx="275.03" cy="331.48" r="1.75" fill="#0808ee"/>
<circle cx="287.64" cy="306.86" r="1.75" fill="#0808ee"/>
<circle cx="277.18" cy="337.38" r="1.75" fill="#0808ee"/>
<circle cx="280.47" cy="327.87" r="1.75" fill="#0808ee"/>
<circle cx="274.45" cy="319.06" r="1.75" fill="#0808ee"/>
<circle cx="288.04" cy="297.03" r="1.75" fill="#0808ee"/>
<circle cx="285.09" cy="320.41" r="1.75" fill="#0808ee"/>
<circle cx="287.42" cy="327.37" r="1.75" fill="#0808ee"/>
<circle cx="287.39" cy="332.3" r="1.75" fill="#0808ee"/>
<circle cx="281.01" cy="326.13" r="1.75" fill="#0808ee"/>
<circle cx="214.9" cy="310" r="1.75" fill="#0808ee"/>
<circle cx="230" cy="305.1" r="1.75" fill="#0808ee"/>
<circle cx="242.9" cy="306.3" r="1.75" fill="#0808ee"/>
<circle cx="246.3" cy="293.4" r="1.75" fill="#0808ee"/>
<circle cx="240.9" cy="318" r="1.75" fill="#0808ee"/>
<circle cx="246.6" cy="320" r="1.75" fill="#0808ee"/>
<circle cx="241.4" cy="333.4" r="1.75" fill="#0808ee"/>
<circle cx="255.7" cy="295.7" r="1.75" fill="#0808ee"/>
<circle cx="257.7" cy="293.4" r="1.75" fill="#0808ee"/>
<circle cx="253.7" cy="323.7" r="1.75" fill="#0808ee"/>
<circle cx="253.7" cy="331.4" r="1.75" fill="#0808ee"/>
<circle cx="256.6" cy="314.3" r="1.75" fill="#0808ee"/>
<circle cx="260.6" cy="317.1" r="1.75" fill="#0808ee"/>
<circle cx="260" cy="327.1" r="1.75" fill="#0808ee"/>
<circle cx="262.9" cy="328.6" r="1.75" fill="#0808ee"/>
<circle cx="256.6" cy="344.3" r="1.75" fill="#0808ee"/>
<circle cx="260" cy="342.9" r="1.75" fill="#0808ee"/>
<circle cx="265.1" cy="302.9" r="1.75" fill="#0808ee"/>
<circle cx="267.1" cy="304.3" r="1.75" fill="#0808ee"/>
<circle cx="273.7" cy="278.6" r="1.75" fill="#0808ee"/>
<circle cx="281.4" cy="277.7" r="1.75" fill="#0808ee"/>
<circle cx="288" cy="267.7" r="1.75" fill="#0808ee"/>
<circle cx="270.9" cy="295.1" r="1.75" fill="#0808ee"/>
<circle cx="267.1" cy="323.7" r="1.75" fill="#0808ee"/>
<circle cx="268.6" cy="335.1" r="1.75" fill="#0808ee"/>
<circle cx="273.7" cy="345.7" r="1.75" fill="#0808ee"/>
<circle cx="272.9" cy="335.7" r="1.75" fill="#0808ee"/>
<circle cx="281" cy="283" r="1.75" fill="#0808ee"/>
<circle cx="286" cy="280" r="1.75" fill="#0808ee"/>
<circle cx="276" cy="290" r="1.75" fill="#0808ee"/>
<circle cx="279" cy="300" r="1.75" fill="#0808ee"/>
<circle cx="284" cy="287" r="1.75" fill="#0808ee"/>
<circle cx="290" cy="277" r="1.75" fill="#0808ee"/>
<circle cx="292" cy="283" r="1.75" fill="#0808ee"/>
<circle cx="364.64" cy="270.4" r="1.75" fill="#f70000"/>
<circle cx="363.45" cy="346.01" r="1.75" fill="#f70000"/>
<circle cx="368.79" cy="326.65" r="1.75" fill="#f70000"/>
<circle cx="360.7" cy="306.65" r="1.75" fill="#f70000"/>
<circle cx="364" cy="317.76" r="1.75" fill="#f70000"/>
<circle cx="361.77" cy="296.89" r="1.75" fill="#f70000"/>
<circle cx="361.97" cy="324.81" r="1.75" fill="#f70000"/>
<circle cx="361.43" cy="317.04" r="1.75" fill="#f70000"/>
<circle cx="360.12" cy="301.84" r="1.75" fill="#f70000"/>
<circle cx="362.64" cy="313.34" r="1.75" fill="#f70000"/>
<circle cx="365.21" cy="277" r="1.75" fill="#f70000"/>
<circle cx="364.4" cy="317.46" r="1.75" fill="#f70000"/>
<circle cx="368.45" cy="335.43" r="1.75" fill="#f70000"/>
<circle cx="366.55" cy="308.68" r="1.75" fill="#f70000"/>
<circle cx="361.27" cy="280.59" r="1.75" fill="#f70000"/>
<circle cx="364.48" cy="264.68" r="1.75" fill="#f70000"/>
<circle cx="367.59" cy="334.9" r="1.75" fill="#f70000"/>
<circle cx="362.53" cy="284.34" r="1.75" fill="#f70000"/>
<circle cx="358.22" cy="310.19" r="1.75" fill="#f70000"/>
<circle cx="369.29" cy="322.63" r="1.75" fill="#f70000"/>
<circle cx="358.48" cy="328.75" r="1.75" fill="#f70000"/>
<circle cx="360.68" cy="326.09" r="1.75" fill="#f70000"/>
<circle cx="361.68" cy="280.56" r="1.75" fill="#f70000"/>
<circle cx="362.71" cy="298.57" r="1.75" fill="#f70000"/>
<circle cx="358.42" cy="346.59" r="1.75" fill="#f70000"/>
<circle cx="368.66" cy="313.52" r="1.75" fill="#f70000"/>
<circle cx="368.61" cy="314.56" r="1.75" fill="#f70000"/>
<circle cx="364.27" cy="290.61" r="1.75" fill="#f70000"/>
<circle cx="358.28" cy="346.21" r="1.75" fill="#f70000"/>
<circle cx="361.79" cy="338.32" r="1.75" fill="#f70000"/>
<circle cx="360.16" cy="334.08" r="1.75" fill="#f70000"/>
<circle cx="360.34" cy="312.84" r="1.75" fill="#f70000"/>
<circle cx="360.32" cy="322.5" r="1.75" fill="#f70000"/>
<circle cx="362.32" cy="291.52" r="1.75" fill="#f70000"/>
<circle cx="357.96" cy="278.1" r="1.75" fill="#f70000"/>
<circle cx="361.66" cy="273.51" r="1.75" fill="#f70000"/>
<circle cx="357.79" cy="347.74" r="1.75" fill="#f70000"/>
<circle cx="358.35" cy="282.84" r="1.75" fill="#f70000"/>
<circle cx="361.44" cy="279.99" r="1.75" fill="#f70000"/>
<circle cx="365.01" cy="339.35" r="1.75" fill="#f70000"/>
<circle cx="360.87" cy="322.11" r="1.75" fill="#f70000"/>
<circle cx="361.92" cy="286.45" r="1.75" fill="#f70000"/>
<circle cx="358.23" cy="282.23" r="1.75" fill="#f70000"/>
<circle cx="362.21" cy="317.66" r="1.75" fill="#f70000"/>
<circle cx="365.05" cy="322.48" r="1.75" fill="#f70000"/>
<circle cx="365.25" cy="310.26" r="1.75" fill="#f70000"/>
<circle cx="362.23" cy="332.58" r="1.75" fill="#f70000"/>
<circle cx="359.23" cy="283.97" r="1.75" fill="#f70000"/>
<circle cx="363.45" cy="311.53" r="1.75" fill="#f70000"/>
<circle cx="366.12" cy="267.76" r="1.75" fill="#f70000"/>
<circle cx="358.83" cy="275.06" r="1.75" fill="#f70000"/>
<circle cx="357.82" cy="305.97" r="1.75" fill="#f70000"/>
<circle cx="359.83" cy="329.87" r="1.75" fill="#f70000"/>
<circle cx="362.43" cy="297.74" r="1.75" fill="#f70000"/>
<circle cx="361.73" cy="289.97" r="1.75" fill="#f70000"/>
<circle cx="368.65" cy="329.36" r="1.75" fill="#f70000"/>
<circle cx="359.57" cy="302.24" r="1.75" fill="#f70000"/>
<circle cx="361.42" cy="322.76" r="1.75" fill="#f70000"/>
<circle cx="362.55" cy="290.04" r="1.75" fill="#f70000"/>
<circle cx="368.04" cy="263.58" r="1.75" fill="#f70000"/>
<circle cx="366.75" cy="314.98" r="1.75" fill="#f70000"/>
<circle cx="367.67" cy="283.19" r="1.75" fill="#f70000"/>
<circle cx="358.97" cy="277.92" r="1.75" fill="#f70000"/>
<circle cx="359.66" cy="296.47" r="1.75" fill="#f70000"/>
<circle cx="365.01" cy="269.37" r="1.75" fill="#f70000"/>
<circle cx="364.63" cy="263.72" r="1.75" fill="#f70000"/>
<circle cx="358.07" cy="349.16" r="1.75" fill="#f70000"/>
<circle cx="359.16" cy="305.69" r="1.75" fill="#f70000"/>
<circle cx="361.58" cy="342.43" r="1.75" fill="#f70000"/>
<circle cx="359.22" cy="305.26" r="1.75" fill="#f70000"/>
<circle cx="361.33" cy="286.75" r="1.75" fill="#f70000"/>
<circle cx="362.09" cy="276.27" r="1.75" fill="#f70000"/>
<circle cx="365.89" cy="302.98" r="1.75" fill="#f70000"/>
<circle cx="360.83" cy="331.86" r="1.75" fill="#f70000"/>
<circle cx="360.12" cy="321.21" r="1.75" fill="#f70000"/>
<circle cx="360.86" cy="334.74" r="1.75" fill="#f70000"/>
<circle cx="362.17" cy="339.36" r="1.75" fill="#f70000"/>
<circle cx="367.45" cy="296.89" r="1.75" fill="#f70000"/>
<circle cx="358.32" cy="326.08" r="1.75" fill="#f70000"/>
<circle cx="359.74" cy="337.79" r="1.75" fill="#f70000"/>
<circle cx="362.26" cy="333.05" r="1.75" fill="#f70000"/>
<circle cx="358.77" cy="297.04" r="1.75" fill="#f70000"/>
<circle cx="361.65" cy="293.47" r="1.75" fill="#f70000"/>
<circle cx="362.13" cy="306.35" r="1.75" fill="#f70000"/>
<circle cx="360.31" cy="315.23" r="1.75" fill="#f70000"/>
<circle cx="362.26" cy="319.55" r="1.75" fill="#f70000"/>
<circle cx="366.84" cy="323.71" r="1.75" fill="#f70000"/>
<circle cx="359.4" cy="323.11" r="1.75" fill="#f70000"/>
<circle cx="366.26" cy="272.96" r="1.75" fill="#f70000"/>
<circle cx="363.31" cy="316.88" r="1.75" fill="#f70000"/>
<circle cx="364.4" cy="276.85" r="1.75" fill="#f70000"/>
<circle cx="359.62" cy="297.69" r="1.75" fill="#f70000"/>
<circle cx="365.22" cy="312.5" r="1.75" fill="#f70000"/>
<circle cx="358.71" cy="304.25" r="1.75" fill="#f70000"/>
<circle cx="359.3" cy="321.4" r="1.75" fill="#f70000"/>
<circle cx="363.05" cy="267.79" r="1.75" fill="#f70000"/>
<circle cx="358.73" cy="345.58" r="1.75" fill="#f70000"/>
<circle cx="362.98" cy="269.48" r="1.75" fill="#f70000"/>
<circle cx="357.98" cy="303.49" r="1.75" fill="#f70000"/>
<circle cx="357.88" cy="310.37" r="1.75" fill="#f70000"/>
<circle cx="358.5" cy="300.92" r="1.75" fill="#f70000"/>
<circle cx="360.86" cy="296.22" r="1.75" fill="#f70000"/>
<circle cx="359.77" cy="344.58" r="1.75" fill="#f70000"/>
<circle cx="359.04" cy="329.16" r="1.75" fill="#f70000"/>
<circle cx="358.89" cy="335.32" r="1.75" fill="#f70000"/>
<circle cx="363.04" cy="310.69" r="1.75" fill="#f70000"/>
<circle cx="366.83" cy="301.89" r="1.75" fill="#f70000"/>
<circle cx="362.98" cy="288.31" r="1.75" fill="#f70000"/>
<circle cx="367.23" cy="294.14" r="1.75" fill="#f70000"/>
<circle cx="357.93" cy="316.98" r="1.75" fill="#f70000"/>
<circle cx="357.9" cy="306.4" r="1.75" fill="#f70000"/>
<circle cx="358.1" cy="310.68" r="1.75" fill="#f70000"/>
<circle cx="358.76" cy="285.75" r="1.75" fill="#f70000"/>
<circle cx="358.31" cy="301.38" r="1.75" fill="#f70000"/>
<circle cx="365.14" cy="322.52" r="1.75" fill="#f70000"/>
<circle cx="363.66" cy="319.13" r="1.75" fill="#f70000"/>
<circle cx="359.78" cy="329.32" r="1.75" fill="#f70000"/>
<circle cx="357.82" cy="301.7" r="1.75" fill="#f70000"/>
<circle cx="358.15" cy="336.35" r="1.75" fill="#f70000"/>
<circle cx="358.26" cy="290.97" r="1.75" fill="#f70000"/>
<circle cx="362.86" cy="308.44" r="1.75" fill="#f70000"/>
<circle cx="363.54" cy="279.51" r="1.75" fill="#f70000"/>
<circle cx="364.07" cy="303.21" r="1.75" fill="#f70000"/>
<circle cx="360.34" cy="308.02" r="1.75" fill="#f70000"/>
<circle cx="369.21" cy="293.92" r="1.75" fill="#f70000"/>
<circle cx="362.21" cy="275.2" r="1.75" fill="#f70000"/>
<circle cx="358.03" cy="347.05" r="1.75" fill="#f70000"/>
<circle cx="366.32" cy="265.06" r="1.75" fill="#f70000"/>
<circle cx="358.01" cy="350.34" r="1.75" fill="#f70000"/>
<circle cx="357.8" cy="308.69" r="1.75" fill="#f70000"/>
<circle cx="358.65" cy="307.83" r="1.75" fill="#f70000"/>
<circle cx="364.6" cy="346.51" r="1.75" fill="#f70000"/>
<circle cx="367.47" cy="322.69" r="1.75" fill="#f70000"/>
<circle cx="363.17" cy="317.61" r="1.75" fill="#f70000"/>
<circle cx="360.67" cy="316.55" r="1.75" fill="#f70000"/>
<circle cx="357.78" cy="319.53" r="1.75" fill="#f70000"/>
<circle cx="359.84" cy="321.42" r="1.75" fill="#f70000"/>
<circle cx="358.87" cy="324.65" r="1.75" fill="#f70000"/>
<circle cx="365.08" cy="263.08" r="1.75" fill="#f70000"/>
<circle cx="359.18" cy="283.73" r="1.75" fill="#f70000"/>
<circle cx="363.95" cy="338.93" r="1.75" fill="#f70000"/>
<circle cx="357.82" cy="286.64" r="1.75" fill="#f70000"/>
<circle cx="359.53" cy="342.14" r="1.75" fill="#f70000"/>
<circle cx="364.49" cy="286.62" r="1.75" fill="#f70000"/>
<circle cx="367.84" cy="300.86" r="1.75" fill="#f70000"/>
<circle cx="360.33" cy="323.88" r="1.75" fill="#f70000"/>
<circle cx="359.25" cy="300.95" r="1.75" fill="#f70000"/>
<circle cx="368.53" cy="337.19" r="1.75" fill="#f70000"/>
<circle cx="361.15" cy="320.09" r="1.75" fill="#f70000"/>
<circle cx="358.21" cy="306.38" r="1.75" fill="#f70000"/>
<circle cx="369.14" cy="319.39" r="1.75" fill="#f70000"/>
<circle cx="365.45" cy="269.45" r="1.75" fill="#f70000"/>
<circle cx="359.9" cy="277.87" r="1.75" fill="#f70000"/>
<circle cx="365.75" cy="290.34" r="1.75" fill="#f70000"/>
<circle cx="359.15" cy="328.73" r="1.75" fill="#f70000"/>
<circle cx="358.36" cy="284.01" r="1.75" fill="#f70000"/>
<circle cx="366.6" cy="338.34" r="1.75" fill="#f70000"/>
<circle cx="362.88" cy="329.91" r="1.75" fill="#f70000"/>
<circle cx="365.99" cy="296.21" r="1.75" fill="#f70000"/>
<circle cx="368.58" cy="281.03" r="1.75" fill="#f70000"/>
<circle cx="358.36" cy="322.6" r="1.75" fill="#f70000"/>
<circle cx="363.45" cy="271.23" r="1.75" fill="#f70000"/>
<circle cx="360.97" cy="333.89" r="1.75" fill="#f70000"/>
<circle cx="360.03" cy="329.94" r="1.75" fill="#f70000"/>
<circle cx="358.8" cy="324.07" r="1.75" fill="#f70000"/>
<circle cx="359.68" cy="309.67" r="1.75" fill="#f70000"/>
<circle cx="367.83" cy="262.63" r="1.75" fill="#f70000"/>
<circle cx="358.84" cy="306.82" r="1.75" fill="#f70000"/>
<circle cx="364.73" cy="333.68" r="1.75" fill="#f70000"/>
<circle cx="362.89" cy="331.03" r="1.75" fill="#f70000"/>
<circle cx="360.9" cy="322.69" r="1.75" fill="#f70000"/>
<circle cx="366.68" cy="324.91" r="1.75" fill="#f70000"/>
<circle cx="362.99" cy="298.5" r="1.75" fill="#f70000"/>
<circle cx="360.52" cy="275.52" r="1.75" fill="#f70000"/>
<circle cx="360.54" cy="322.96" r="1.75" fill="#f70000"/>
<circle cx="364.98" cy="304.41" r="1.75" fill="#f70000"/>
<circle cx="365.42" cy="333.12" r="1.75" fill="#f70000"/>
<circle cx="358.74" cy="294.61" r="1.75" fill="#f70000"/>
<circle cx="361.17" cy="279.69" r="1.75" fill="#f70000"/>
<circle cx="359.52" cy="331.2" r="1.75" fill="#f70000"/>
<circle cx="367.37" cy="313.18" r="1.75" fill="#f70000"/>
<circle cx="358.43" cy="334.18" r="1.75" fill="#f70000"/>
<circle cx="366.04" cy="322.63" r="1.75" fill="#f70000"/>
<circle cx="363.19" cy="277.89" r="1.75" fill="#f70000"/>
<circle cx="363.89" cy="283.57" r="1.75" fill="#f70000"/>
<circle cx="369.05" cy="317.46" r="1.75" fill="#f70000"/>
<circle cx="367.56" cy="296.74" r="1.75" fill="#f70000"/>
<circle cx="359.22" cy="340.31" r="1.75" fill="#f70000"/>
<circle cx="360.5" cy="338.59" r="1.75" fill="#f70000"/>
<circle cx="366.07" cy="297.46" r="1.75" fill="#f70000"/>
<circle cx="357.97" cy="286.54" r="1.75" fill="#f70000"/>
<circle cx="363.7" cy="309.52" r="1.75" fill="#f70000"/>
<circle cx="358.68" cy="314.66" r="1.75" fill="#f70000"/>
<circle cx="368.16" cy="293.43" r="1.75" fill="#f70000"/>
<circle cx="362" cy="298.06" r="1.75" fill="#f70000"/>
<circle cx="363.12" cy="295.19" r="1.75" fill="#f70000"/>
<circle cx="359.2" cy="338.97" r="1.75" fill="#f70000"/>
<circle cx="357.81" cy="290.38" r="1.75" fill="#f70000"/>
<circle cx="357.78" cy="332.35" r="1.75" fill="#f70000"/>
<circle cx="363.57" cy="304.9" r="1.75" fill="#f70000"/>
<circle cx="367.93" cy="325.87" r="1.75" fill="#f70000"/>
<circle cx="358.46" cy="338.84" r="1.75" fill="#f70000"/>
<circle cx="362.47" cy="323.63" r="1.75" fill="#f70000"/>
<circle cx="361.95" cy="291.69" r="1.75" fill="#f70000"/>
<circle cx="360.43" cy="296.21" r="1.75" fill="#f70000"/>
<circle cx="357.84" cy="310.82" r="1.75" fill="#f70000"/>
<circle cx="368.02" cy="264.15" r="1.75" fill="#f70000"/>
<circle cx="363.39" cy="265.57" r="1.75" fill="#f70000"/>
<circle cx="359.54" cy="326.59" r="1.75" fill="#f70000"/>
<circle cx="361.87" cy="306.3" r="1.75" fill="#f70000"/>
<circle cx="366.75" cy="306.27" r="1.75" fill="#f70000"/>
<circle cx="357.99" cy="299.28" r="1.75" fill="#f70000"/>
<circle cx="359.42" cy="281.9" r="1.75" fill="#f70000"/>
<circle cx="359.32" cy="327.05" r="1.75" fill="#f70000"/>
<circle cx="358.65" cy="327.49" r="1.75" fill="#f70000"/>
<circle cx="363.77" cy="324.4" r="1.75" fill="#f70000"/>
<circle cx="358" cy="307.51" r="1.75" fill="#f70000"/>
<circle cx="365.56" cy="337.01" r="1.75" fill="#f70000"/>
<circle cx="361.58" cy="343.7" r="1.75" fill="#f70000"/>
<circle cx="357.83" cy="323.43" r="1.75" fill="#f70000"/>
<circle cx="360.06" cy="280.79" r="1.75" fill="#f70000"/>
<circle cx="357.81" cy="303.63" r="1.75" fill="#f70000"/>
<circle cx="365.54" cy="309.91" r="1.75" fill="#f70000"/>
<circle cx="362.5" cy="327.34" r="1.75" fill="#f70000"/>
<circle cx="359.71" cy="346.52" r="1.75" fill="#f70000"/>
<circle cx="367.99" cy="342.93" r="1.75" fill="#f70000"/>
<circle cx="358.65" cy="295.73" r="1.75" fill="#f70000"/>
<circle cx="361.98" cy="305.9" r="1.75" fill="#f70000"/>
<circle cx="360.14" cy="336.97" r="1.75" fill="#f70000"/>
<circle cx="366.46" cy="335" r="1.75" fill="#f70000"/>
<circle cx="360.16" cy="290.04" r="1.75" fill="#f70000"/>
<circle cx="360.18" cy="274.68" r="1.75" fill="#f70000"/>
<circle cx="358.98" cy="309.69" r="1.75" fill="#f70000"/>
<circle cx="362.96" cy="305.56" r="1.75" fill="#f70000"/>
<circle cx="366.11" cy="342.5" r="1.75" fill="#f70000"/>
<circle cx="363.06" cy="281.72" r="1.75" fill="#f70000"/>
<circle cx="358.01" cy="310.4" r="1.75" fill="#f70000"/>
<circle cx="361.78" cy="314.96" r="1.75" fill="#f70000"/>
<circle cx="362.96" cy="295.32" r="1.75" fill="#f70000"/>
<circle cx="365.13" cy="270.03" r="1.75" fill="#f70000"/>
<circle cx="364.5" cy="262.61" r="1.75" fill="#f70000"/>
<circle cx="364.61" cy="323.5" r="1.75" fill="#f70000"/>
<circle cx="358.73" cy="345.81" r="1.75" fill="#f70000"/>
<circle cx="359.87" cy="340.75" r="1.75" fill="#f70000"/>
<circle cx="364.86" cy="287.61" r="1.75" fill="#f70000"/>
<circle cx="363.91" cy="314.38" r="1.75" fill="#f70000"/>
<circle cx="362.05" cy="326.74" r="1.75" fill="#f70000"/>
<circle cx="368.18" cy="344.08" r="1.75" fill="#f70000"/>
<circle cx="360.42" cy="303.46" r="1.75" fill="#f70000"/>
<circle cx="359.03" cy="285.07" r="1.75" fill="#f70000"/>
<circle cx="362.25" cy="317.2" r="1.75" fill="#f70000"/>
<circle cx="358.09" cy="329.98" r="1.75" fill="#f70000"/>
<circle cx="363.62" cy="323.34" r="1.75" fill="#f70000"/>
<circle cx="357.98" cy="308.05" r="1.75" fill="#f70000"/>
<circle cx="360.24" cy="282.56" r="1.75" fill="#f70000"/>
<circle cx="364.97" cy="284.82" r="1.75" fill="#f70000"/>
<circle cx="367.77" cy="274.71" r="1.75" fill="#f70000"/>
<circle cx="360.51" cy="303.6" r="1.75" fill="#f70000"/>
<circle cx="359.78" cy="334.03" r="1.75" fill="#f70000"/>
<circle cx="359.26" cy="342" r="1.75" fill="#f70000"/>
<circle cx="359.58" cy="332.38" r="1.75" fill="#f70000"/>
<circle cx="364.71" cy="324.95" r="1.75" fill="#f70000"/>
<circle cx="357.99" cy="319.64" r="1.75" fill="#f70000"/>
<circle cx="359.21" cy="296.94" r="1.75" fill="#f70000"/>
<circle cx="359.41" cy="306.59" r="1.75" fill="#f70000"/>
<circle cx="358.99" cy="313.14" r="1.75" fill="#f70000"/>
<circle cx="367.43" cy="318.25" r="1.75" fill="#f70000"/>
<circle cx="362.83" cy="310.86" r="1.75" fill="#f70000"/>
<circle cx="358.14" cy="350.53" r="1.75" fill="#f70000"/>
<circle cx="367.08" cy="315.27" r="1.75" fill="#f70000"/>
<circle cx="364.89" cy="310.87" r="1.75" fill="#f70000"/>
<circle cx="367.02" cy="328.15" r="1.75" fill="#f70000"/>
<circle cx="362.29" cy="302.48" r="1.75" fill="#f70000"/>
<circle cx="366.38" cy="343.93" r="1.75" fill="#f70000"/>
<circle cx="360.88" cy="310.47" r="1.75" fill="#f70000"/>
<circle cx="363.61" cy="335.55" r="1.75" fill="#f70000"/>
<circle cx="363.03" cy="289.6" r="1.75" fill="#f70000"/>
<circle cx="365.54" cy="326.66" r="1.75" fill="#f70000"/>
<circle cx="361.78" cy="323.8" r="1.75" fill="#f70000"/>
<circle cx="361.16" cy="319.16" r="1.75" fill="#f70000"/>
<circle cx="368.58" cy="344.08" r="1.75" fill="#f70000"/>
<circle cx="368.61" cy="342.08" r="1.75" fill="#f70000"/>
<circle cx="358.19" cy="335.6" r="1.75" fill="#f70000"/>
<circle cx="360.06" cy="282.12" r="1.75" fill="#f70000"/>
<circle cx="367.06" cy="264.97" r="1.75" fill="#f70000"/>
<circle cx="361.19" cy="348.81" r="1.75" fill="#f70000"/>
<circle cx="364.09" cy="271.31" r="1.75" fill="#f70000"/>
<circle cx="358.41" cy="288.8" r="1.75" fill="#f70000"/>
<circle cx="357.77" cy="297.59" r="1.75" fill="#f70000"/>
<circle cx="362.41" cy="273.26" r="1.75" fill="#f70000"/>
<circle cx="367.54" cy="341.49" r="1.75" fill="#f70000"/>
<circle cx="362.47" cy="327.8" r="1.75" fill="#f70000"/>
<circle cx="361.76" cy="343.74" r="1.75" fill="#f70000"/>
<circle cx="360.86" cy="315.87" r="1.75" fill="#f70000"/>
<circle cx="357.78" cy="316.18" r="1.75" fill="#f70000"/>
<circle cx="367.83" cy="339.93" r="1.75" fill="#f70000"/>
<circle cx="368.57" cy="301.27" r="1.75" fill="#f70000"/>
<circle cx="359.3" cy="275.74" r="1.75" fill="#f70000"/>
<circle cx="362.17" cy="311.8" r="1.75" fill="#f70000"/>
<circle cx="361.04" cy="278.08" r="1.75" fill="#f70000"/>
<circle cx="358.59" cy="334.74" r="1.75" fill="#f70000"/>
<circle cx="360.03" cy="345.45" r="1.75" fill="#f70000"/>
<circle cx="367.1" cy="302.44" r="1.75" fill="#f70000"/>
<circle cx="363.78" cy="272.88" r="1.75" fill="#f70000"/>
<circle cx="362.43" cy="324.93" r="1.75" fill="#f70000"/>
<circle cx="362.88" cy="305.68" r="1.75" fill="#f70000"/>
<circle cx="360.19" cy="331.09" r="1.75" fill="#f70000"/>
<circle cx="360.83" cy="289.96" r="1.75" fill="#f70000"/>
<circle cx="358.89" cy="275.02" r="1.75" fill="#f70000"/>
<circle cx="359.54" cy="328.58" r="1.75" fill="#f70000"/>
<circle cx="358.53" cy="320.85" r="1.75" fill="#f70000"/>
<circle cx="360.98" cy="293.85" r="1.75" fill="#f70000"/>
<circle cx="367.85" cy="322.84" r="1.75" fill="#f70000"/>
<circle cx="366.6" cy="318.44" r="1.75" fill="#f70000"/>
<circle cx="361.38" cy="338.59" r="1.75" fill="#f70000"/>
<circle cx="367.8" cy="311.85" r="1.75" fill="#f70000"/>
<circle cx="365.1" cy="345.1" r="1.75" fill="#f70000"/>
<circle cx="365.04" cy="326.88" r="1.75" fill="#f70000"/>
<circle cx="361.91" cy="292.9" r="1.75" fill="#f70000"/>
<circle cx="358.94" cy="309.81" r="1.75" fill="#f70000"/>
<circle cx="381.78" cy="319.42" r="1.75" fill="#f70000"/>
<circle cx="375.02" cy="321.67" r="1.75" fill="#f70000"/>
<circle cx="369.52" cy="299.78" r="1.75" fill="#f70000"/>
<circle cx="374.82" cy="284.21" r="1.75" fill="#f70000"/>
<circle cx="382.19" cy="276.69" r="1.75" fill="#f70000"/>
<circle cx="372.72" cy="298.19" r="1.75" fill="#f70000"/>
<circle cx="378.76" cy="267.1" r="1.75" fill="#f70000"/>
<circle cx="378.92" cy="293.94" r="1.75" fill="#f70000"/>
<circle cx="369.36" cy="268.57" r="1.75" fill="#f70000"/>
<circle cx="371.78" cy="305.4" r="1.75" fill="#f70000"/>
<circle cx="382.7" cy="315.47" r="1.75" fill="#f70000"/>
<circle cx="383.26" cy="313.48" r="1.75" fill="#f70000"/>
<circle cx="368.65" cy="298.42" r="1.75" fill="#f70000"/>
<circle cx="381.02" cy="301" r="1.75" fill="#f70000"/>
<circle cx="381.91" cy="301.08" r="1.75" fill="#f70000"/>
<circle cx="381.39" cy="323.63" r="1.75" fill="#f70000"/>
<circle cx="371.82" cy="328.71" r="1.75" fill="#f70000"/>
<circle cx="379.98" cy="296.13" r="1.75" fill="#f70000"/>
<circle cx="378.42" cy="315.34" r="1.75" fill="#f70000"/>
<circle cx="379.89" cy="254.59" r="1.75" fill="#f70000"/>
<circle cx="368.53" cy="314.62" r="1.75" fill="#f70000"/>
<circle cx="382.41" cy="265.3" r="1.75" fill="#f70000"/>
<circle cx="382.46" cy="314.1" r="1.75" fill="#f70000"/>
<circle cx="376.73" cy="328.6" r="1.75" fill="#f70000"/>
<circle cx="374.37" cy="289.96" r="1.75" fill="#f70000"/>
<circle cx="371.4" cy="304.21" r="1.75" fill="#f70000"/>
<circle cx="373.24" cy="330.92" r="1.75" fill="#f70000"/>
<circle cx="368.37" cy="276.5" r="1.75" fill="#f70000"/>
<circle cx="367.49" cy="260.29" r="1.75" fill="#f70000"/>
<circle cx="382.94" cy="254.65" r="1.75" fill="#f70000"/>
<circle cx="380.84" cy="332.67" r="1.75" fill="#f70000"/>
<circle cx="369.09" cy="314.24" r="1.75" fill="#f70000"/>
<circle cx="370.13" cy="334.93" r="1.75" fill="#f70000"/>
<circle cx="383.32" cy="260.59" r="1.75" fill="#f70000"/>
<circle cx="380.49" cy="313.06" r="1.75" fill="#f70000"/>
<circle cx="382.09" cy="267.9" r="1.75" fill="#f70000"/>
<circle cx="372.5" cy="327.84" r="1.75" fill="#f70000"/>
<circle cx="369.4" cy="306.57" r="1.75" fill="#f70000"/>
<circle cx="381.71" cy="326.29" r="1.75" fill="#f70000"/>
<circle cx="374.35" cy="308.11" r="1.75" fill="#f70000"/>
<circle cx="382.85" cy="319.62" r="1.75" fill="#f70000"/>
<circle cx="378.42" cy="308.55" r="1.75" fill="#f70000"/>
<circle cx="378.26" cy="268.56" r="1.75" fill="#f70000"/>
<circle cx="381.57" cy="265.94" r="1.75" fill="#f70000"/>
<circle cx="371.97" cy="315.95" r="1.75" fill="#f70000"/>
<circle cx="369.19" cy="319.42" r="1.75" fill="#f70000"/>
<circle cx="369.14" cy="275.7" r="1.75" fill="#f70000"/>
<circle cx="368.07" cy="325.45" r="1.75" fill="#f70000"/>
<circle cx="380.92" cy="272.15" r="1.75" fill="#f70000"/>
<circle cx="384.39" cy="300.99" r="1.75" fill="#f70000"/>
<circle cx="368.04" cy="274.52" r="1.75" fill="#f70000"/>
<circle cx="371.87" cy="274.96" r="1.75" fill="#f70000"/>
<circle cx="367.69" cy="338.67" r="1.75" fill="#f70000"/>
<circle cx="377.37" cy="279.95" r="1.75" fill="#f70000"/>
<circle cx="376.71" cy="292.49" r="1.75" fill="#f70000"/>
<circle cx="377.35" cy="324.6" r="1.75" fill="#f70000"/>
<circle cx="368.3" cy="312.25" r="1.75" fill="#f70000"/>
<circle cx="376.46" cy="315.57" r="1.75" fill="#f70000"/>
<circle cx="370.09" cy="303.02" r="1.75" fill="#f70000"/>
<circle cx="374" cy="315.34" r="1.75" fill="#f70000"/>
<circle cx="383.51" cy="258.03" r="1.75" fill="#f70000"/>
<circle cx="368.06" cy="301.62" r="1.75" fill="#f70000"/>
<circle cx="371.05" cy="311.54" r="1.75" fill="#f70000"/>
<circle cx="367.81" cy="334.85" r="1.75" fill="#f70000"/>
<circle cx="367.88" cy="331.04" r="1.75" fill="#f70000"/>
<circle cx="378.31" cy="328.25" r="1.75" fill="#f70000"/>
<circle cx="382.73" cy="269.07" r="1.75" fill="#f70000"/>
<circle cx="371.58" cy="281.86" r="1.75" fill="#f70000"/>
<circle cx="383.98" cy="321.81" r="1.75" fill="#f70000"/>
<circle cx="376.68" cy="297.9" r="1.75" fill="#f70000"/>
<circle cx="372.27" cy="314.77" r="1.75" fill="#f70000"/>
<circle cx="368.64" cy="287.38" r="1.75" fill="#f70000"/>
<circle cx="370.39" cy="304.78" r="1.75" fill="#f70000"/>
<circle cx="383.53" cy="304.1" r="1.75" fill="#f70000"/>
<circle cx="372.37" cy="261.57" r="1.75" fill="#f70000"/>
<circle cx="377.1" cy="289.22" r="1.75" fill="#f70000"/>
<circle cx="370.8" cy="286.46" r="1.75" fill="#f70000"/>
<circle cx="373.46" cy="293.05" r="1.75" fill="#f70000"/>
<circle cx="373.79" cy="330.87" r="1.75" fill="#f70000"/>
<circle cx="382.57" cy="277.75" r="1.75" fill="#f70000"/>
<circle cx="384.1" cy="307.06" r="1.75" fill="#f70000"/>
<circle cx="371.78" cy="327.64" r="1.75" fill="#f70000"/>
<circle cx="372.2" cy="311.75" r="1.75" fill="#f70000"/>
<circle cx="370.17" cy="318.01" r="1.75" fill="#f70000"/>
<circle cx="372" cy="267.9" r="1.75" fill="#f70000"/>
<circle cx="374.64" cy="269.9" r="1.75" fill="#f70000"/>
<circle cx="368.1" cy="325.69" r="1.75" fill="#f70000"/>
<circle cx="384" cy="326.89" r="1.75" fill="#f70000"/>
<circle cx="368.39" cy="298.25" r="1.75" fill="#f70000"/>
<circle cx="371.93" cy="322.72" r="1.75" fill="#f70000"/>
<circle cx="377.56" cy="285.93" r="1.75" fill="#f70000"/>
<circle cx="370.24" cy="295.25" r="1.75" fill="#f70000"/>
<circle cx="374.79" cy="267.66" r="1.75" fill="#f70000"/>
<circle cx="368.37" cy="321.81" r="1.75" fill="#f70000"/>
<circle cx="376.77" cy="332.85" r="1.75" fill="#f70000"/>
<circle cx="381.97" cy="256.25" r="1.75" fill="#f70000"/>
<circle cx="372.58" cy="274.48" r="1.75" fill="#f70000"/>
<circle cx="371.24" cy="260.84" r="1.75" fill="#f70000"/>
<circle cx="370.62" cy="339.12" r="1.75" fill="#f70000"/>
<circle cx="368.37" cy="303.16" r="1.75" fill="#f70000"/>
<circle cx="367.94" cy="260.37" r="1.75" fill="#f70000"/>
<circle cx="377.97" cy="289.01" r="1.75" fill="#f70000"/>
<circle cx="377.88" cy="301.16" r="1.75" fill="#f70000"/>
<circle cx="382.72" cy="276.06" r="1.75" fill="#f70000"/>
<circle cx="374.36" cy="313.88" r="1.75" fill="#f70000"/>
<circle cx="385.76" cy="303.92" r="1.75" fill="#f70000"/>
<circle cx="389.81" cy="317.18" r="1.75" fill="#f70000"/>
<circle cx="400.89" cy="300.24" r="1.75" fill="#f70000"/>
<circle cx="393.43" cy="315.86" r="1.75" fill="#f70000"/>
<circle cx="393.66" cy="279.71" r="1.75" fill="#f70000"/>
<circle cx="384.51" cy="259.75" r="1.75" fill="#f70000"/>
<circle cx="386.13" cy="307.24" r="1.75" fill="#f70000"/>
<circle cx="397.24" cy="297.33" r="1.75" fill="#f70000"/>
<circle cx="399.95" cy="301.85" r="1.75" fill="#f70000"/>
<circle cx="389.05" cy="277.86" r="1.75" fill="#f70000"/>
<circle cx="399.63" cy="264.42" r="1.75" fill="#f70000"/>
<circle cx="388.55" cy="288.52" r="1.75" fill="#f70000"/>
<circle cx="390.93" cy="278.48" r="1.75" fill="#f70000"/>
<circle cx="387.37" cy="268.56" r="1.75" fill="#f70000"/>
<circle cx="396.79" cy="307.25" r="1.75" fill="#f70000"/>
<circle cx="389.05" cy="301.02" r="1.75" fill="#f70000"/>
<circle cx="400.99" cy="288.84" r="1.75" fill="#f70000"/>
<circle cx="394.91" cy="261.96" r="1.75" fill="#f70000"/>
<circle cx="390.65" cy="261.25" r="1.75" fill="#f70000"/>
<circle cx="388.63" cy="322.32" r="1.75" fill="#f70000"/>
<circle cx="384.95" cy="278.84" r="1.75" fill="#f70000"/>
<circle cx="390.35" cy="268.5" r="1.75" fill="#f70000"/>
<circle cx="393.29" cy="277.33" r="1.75" fill="#f70000"/>
<circle cx="389.8" cy="284.47" r="1.75" fill="#f70000"/>
<circle cx="396.49" cy="295.25" r="1.75" fill="#f70000"/>
<circle cx="392.48" cy="267.59" r="1.75" fill="#f70000"/>
<circle cx="400.97" cy="294.91" r="1.75" fill="#f70000"/>
<circle cx="384.26" cy="268.84" r="1.75" fill="#f70000"/>
<circle cx="391.63" cy="259.73" r="1.75" fill="#f70000"/>
<circle cx="397.75" cy="295.24" r="1.75" fill="#f70000"/>
<circle cx="399.44" cy="284.04" r="1.75" fill="#f70000"/>
<circle cx="396.79" cy="264.6" r="1.75" fill="#f70000"/>
<circle cx="394.21" cy="260.97" r="1.75" fill="#f70000"/>
<circle cx="390.68" cy="297.56" r="1.75" fill="#f70000"/>
<circle cx="395.37" cy="294" r="1.75" fill="#f70000"/>
<circle cx="396.67" cy="285.88" r="1.75" fill="#f70000"/>
<circle cx="397.35" cy="268.08" r="1.75" fill="#f70000"/>
<circle cx="393.96" cy="263.03" r="1.75" fill="#f70000"/>
<circle cx="398.1" cy="266.14" r="1.75" fill="#f70000"/>
<circle cx="383.34" cy="325.58" r="1.75" fill="#f70000"/>
<circle cx="400.5" cy="247.3" r="1.75" fill="#f70000"/>
<circle cx="419.7" cy="241.8" r="1.75" fill="#f70000"/>
<circle cx="404.1" cy="260.6" r="1.75" fill="#f70000"/>
<circle cx="410.3" cy="267.1" r="1.75" fill="#f70000"/>
<circle cx="415.4" cy="278.7" r="1.75" fill="#f70000"/>
<circle cx="427.6" cy="279.8" r="1.75" fill="#f70000"/>
<circle cx="431.3" cy="303.3" r="1.75" fill="#f70000"/>
<circle cx="441.4" cy="321.4" r="1.75" fill="#f70000"/>
<circle cx="425.8" cy="340.2" r="1.75" fill="#f70000"/>
<circle cx="413.9" cy="342" r="1.75" fill="#f70000"/>
<circle cx="417.9" cy="328.6" r="1.75" fill="#f70000"/>
<circle cx="415.7" cy="323.2" r="1.75" fill="#f70000"/>
<circle cx="390.8" cy="343.8" r="1.75" fill="#f70000"/>
<circle cx="408.9" cy="289.6" r="1.75" fill="#f70000"/>
<circle cx="402.3" cy="303.8" r="1.75" fill="#f70000"/>
<circle cx="399.5" cy="287.3" r="1.75" fill="#f70000"/>
<circle cx="397.5" cy="293.6" r="1.75" fill="#f70000"/>
<circle cx="450.9" cy="307.4" r="1.75" fill="#f70000"/>
<circle cx="409.4" cy="272.7" r="1.75" fill="#f70000"/>
<circle cx="395" cy="255" r="1.75" fill="#f70000"/>
<circle cx="392" cy="262" r="1.75" fill="#f70000"/>
<circle cx="396" cy="270" r="1.75" fill="#f70000"/>
<circle cx="398" cy="311" r="1.75" fill="#f70000"/>
<circle cx="402" cy="318" r="1.75" fill="#f70000"/>
<circle cx="397" cy="330" r="1.75" fill="#f70000"/>
<circle cx="393" cy="337" r="1.75" fill="#f70000"/>
<circle cx="405" cy="325" r="1.75" fill="#f70000"/>
<circle cx="394" cy="283" r="1.75" fill="#f70000"/>
<circle cx="389" cy="300" r="1.75" fill="#f70000"/>
<circle cx="391" cy="318" r="1.75" fill="#f70000"/>
<line x1="451.5" y1="306.2" x2="463" y2="297.4" stroke="#111" stroke-width="0.75"/>
<text x="463.8" y="297.4" font-size="9" fill="#111">Gdf15</text>
<line x1="409.2" y1="289.4" x2="419.4" y2="281.5" stroke="#111" stroke-width="0.7"/>
<text x="419.3" y="279.6" font-size="9" fill="#111">Areg</text>
<line x1="402.6" y1="303.5" x2="413" y2="297.5" stroke="#111" stroke-width="0.7"/>
<text x="413.9" y="297.7" font-size="9" fill="#111">Il1rl1</text>
<g shape-rendering="crispEdges">
<rect x="253.2" y="431.1" width="15.55" height="18.88" fill="#d65550"/>
<rect x="268.7" y="431.1" width="15.55" height="18.88" fill="#c4c8d4"/>
<rect x="284.2" y="431.1" width="15.55" height="18.88" fill="#d99090"/>
<rect x="299.7" y="431.1" width="15.55" height="18.88" fill="#d68080"/>
<rect x="315.2" y="431.1" width="15.55" height="18.88" fill="#d8aaaa"/>
<rect x="330.7" y="431.1" width="15.55" height="18.88" fill="#c3c7d4"/>
<rect x="346.2" y="431.1" width="15.55" height="18.88" fill="#d1bdbe"/>
<rect x="361.7" y="431.1" width="15.55" height="18.88" fill="#c1c5d4"/>
<rect x="377.2" y="431.1" width="15.55" height="18.88" fill="#d26565"/>
<rect x="392.7" y="431.1" width="15.55" height="18.88" fill="#9a9ed4"/>
<rect x="408.2" y="431.1" width="15.55" height="18.88" fill="#cfadae"/>
<rect x="423.7" y="431.1" width="15.55" height="18.88" fill="#9ea2d6"/>
<rect x="439.2" y="431.1" width="15.55" height="18.88" fill="#ce3a3a"/>
<rect x="454.7" y="431.1" width="15.55" height="18.88" fill="#cc0000"/>
<rect x="253.2" y="449.93" width="15.55" height="18.88" fill="#d00000"/>
<rect x="268.7" y="449.93" width="15.55" height="18.88" fill="#cfcdcc"/>
<rect x="284.2" y="449.93" width="15.55" height="18.88" fill="#d1cfd0"/>
<rect x="299.7" y="449.93" width="15.55" height="18.88" fill="#d1cbca"/>
<rect x="315.2" y="449.93" width="15.55" height="18.88" fill="#cfcaca"/>
<rect x="330.7" y="449.93" width="15.55" height="18.88" fill="#cfc3c4"/>
<rect x="346.2" y="449.93" width="15.55" height="18.88" fill="#c4c5d2"/>
<rect x="361.7" y="449.93" width="15.55" height="18.88" fill="#cfc5c6"/>
<rect x="377.2" y="449.93" width="15.55" height="18.88" fill="#d1c3c4"/>
<rect x="392.7" y="449.93" width="15.55" height="18.88" fill="#c5c8d2"/>
<rect x="408.2" y="449.93" width="15.55" height="18.88" fill="#cfb3b4"/>
<rect x="423.7" y="449.93" width="15.55" height="18.88" fill="#6a70d6"/>
<rect x="439.2" y="449.93" width="15.55" height="18.88" fill="#d49090"/>
<rect x="454.7" y="449.93" width="15.55" height="18.88" fill="#6b70d4"/>
<rect x="253.2" y="468.77" width="15.55" height="18.88" fill="#0000cc"/>
<rect x="268.7" y="468.77" width="15.55" height="18.88" fill="#babdd7"/>
<rect x="284.2" y="468.77" width="15.55" height="18.88" fill="#d69090"/>
<rect x="299.7" y="468.77" width="15.55" height="18.88" fill="#d48a8a"/>
<rect x="315.2" y="468.77" width="15.55" height="18.88" fill="#d6afaf"/>
<rect x="330.7" y="468.77" width="15.55" height="18.88" fill="#a8aad8"/>
<rect x="346.2" y="468.77" width="15.55" height="18.88" fill="#d1b4b5"/>
<rect x="361.7" y="468.77" width="15.55" height="18.88" fill="#9da0d6"/>
<rect x="377.2" y="468.77" width="15.55" height="18.88" fill="#d48888"/>
<rect x="392.7" y="468.77" width="15.55" height="18.88" fill="#a8abd6"/>
<rect x="408.2" y="468.77" width="15.55" height="18.88" fill="#cbc9ca"/>
<rect x="423.7" y="468.77" width="15.55" height="18.88" fill="#cfc3c2"/>
<rect x="439.2" y="468.77" width="15.55" height="18.88" fill="#d28080"/>
<rect x="454.7" y="468.77" width="15.55" height="18.88" fill="#cc0000"/>
</g>
<line x1="248" y1="440.52" x2="253.2" y2="440.52" stroke="#000" stroke-width="1.1"/>
<text x="244.3" y="446.12" font-size="9.5" font-weight="bold" text-anchor="end" fill="#111">ST2<tspan dy="-4.2" font-size="6">High</tspan><tspan dy="4.2"> vs ST2</tspan><tspan dy="-4.2" font-size="6">KO</tspan></text>
<line x1="248" y1="459.35" x2="253.2" y2="459.35" stroke="#000" stroke-width="1.1"/>
<text x="244.3" y="464.95" font-size="9.5" font-weight="bold" text-anchor="end" fill="#111">ST2<tspan dy="-4.2" font-size="6">High</tspan><tspan dy="4.2"> vs ST2</tspan><tspan dy="-4.2" font-size="6">Low</tspan></text>
<line x1="248" y1="478.18" x2="253.2" y2="478.18" stroke="#000" stroke-width="1.1"/>
<text x="244.3" y="483.78" font-size="9.5" font-weight="bold" text-anchor="end" fill="#111">ST2<tspan dy="-4.2" font-size="6">Low</tspan><tspan dy="4.2"> vs ST2</tspan><tspan dy="-4.2" font-size="6">KO</tspan></text>
<line x1="260.95" y1="487.6" x2="260.95" y2="492.4" stroke="#000" stroke-width="1.2"/>
<text x="266.55" y="500" font-size="9" text-anchor="end" font-weight="bold" font-style="italic" fill="#111" transform="rotate(-45 266.55 500)">Il1rl1</text>
<line x1="276.45" y1="487.6" x2="276.45" y2="492.4" stroke="#000" stroke-width="1.2"/>
<text x="282.05" y="500" font-size="9" text-anchor="end" font-weight="bold" font-style="italic" fill="#111" transform="rotate(-45 282.05 500)">Il2ra</text>
<line x1="291.95" y1="487.6" x2="291.95" y2="492.4" stroke="#000" stroke-width="1.2"/>
<text x="297.55" y="500" font-size="9" text-anchor="end" font-weight="bold" font-style="italic" fill="#111" transform="rotate(-45 297.55 500)">Ctla4</text>
<line x1="307.45" y1="487.6" x2="307.45" y2="492.4" stroke="#000" stroke-width="1.2"/>
<text x="313.05" y="500" font-size="9" text-anchor="end" font-weight="bold" font-style="italic" fill="#111" transform="rotate(-45 313.05 500)">Il10</text>
<line x1="322.95" y1="487.6" x2="322.95" y2="492.4" stroke="#000" stroke-width="1.2"/>
<text x="328.55" y="500" font-size="9" text-anchor="end" font-weight="bold" font-style="italic" fill="#111" transform="rotate(-45 328.55 500)">Tgfb1</text>
<line x1="338.45" y1="487.6" x2="338.45" y2="492.4" stroke="#000" stroke-width="1.2"/>
<text x="344.05" y="500" font-size="9" text-anchor="end" font-weight="bold" font-style="italic" fill="#111" transform="rotate(-45 344.05 500)">Entpd1</text>
<line x1="353.95" y1="487.6" x2="353.95" y2="492.4" stroke="#000" stroke-width="1.2"/>
<text x="359.55" y="500" font-size="9" text-anchor="end" font-weight="bold" font-style="italic" fill="#111" transform="rotate(-45 359.55 500)">Nt5e</text>
<line x1="369.45" y1="487.6" x2="369.45" y2="492.4" stroke="#000" stroke-width="1.2"/>
<text x="375.05" y="500" font-size="9" text-anchor="end" font-weight="bold" font-style="italic" fill="#111" transform="rotate(-45 375.05 500)">Nrp1</text>
<line x1="384.95" y1="487.6" x2="384.95" y2="492.4" stroke="#000" stroke-width="1.2"/>
<text x="390.55" y="500" font-size="9" text-anchor="end" font-weight="bold" font-style="italic" fill="#111" transform="rotate(-45 390.55 500)">Tnfrsf1b</text>
<line x1="400.45" y1="487.6" x2="400.45" y2="492.4" stroke="#000" stroke-width="1.2"/>
<text x="406.05" y="500" font-size="9" text-anchor="end" font-weight="bold" font-style="italic" fill="#111" transform="rotate(-45 406.05 500)">Sell</text>
<line x1="415.95" y1="487.6" x2="415.95" y2="492.4" stroke="#000" stroke-width="1.2"/>
<text x="421.55" y="500" font-size="9" text-anchor="end" font-weight="bold" font-style="italic" fill="#111" transform="rotate(-45 421.55 500)">Cd44</text>
<line x1="431.45" y1="487.6" x2="431.45" y2="492.4" stroke="#000" stroke-width="1.2"/>
<text x="437.05" y="500" font-size="9" text-anchor="end" font-weight="bold" font-style="italic" fill="#111" transform="rotate(-45 437.05 500)">Ghrl</text>
<line x1="446.95" y1="487.6" x2="446.95" y2="492.4" stroke="#000" stroke-width="1.2"/>
<text x="452.55" y="500" font-size="9" text-anchor="end" font-weight="bold" font-style="italic" fill="#111" transform="rotate(-45 452.55 500)">Areg</text>
<line x1="462.45" y1="487.6" x2="462.45" y2="492.4" stroke="#000" stroke-width="1.2"/>
<text x="468.05" y="500" font-size="9" text-anchor="end" font-weight="bold" font-style="italic" fill="#111" transform="rotate(-45 468.05 500)">Gdf15</text>
<rect x="496.2" y="431.9" width="13.5" height="56.9" fill="url(#gE)" stroke="#000" stroke-width="0.9"/>
<line x1="496.2" y1="445.4" x2="498.6" y2="445.4" stroke="#000" stroke-width="1"/>
<line x1="507.3" y1="445.4" x2="509.7" y2="445.4" stroke="#000" stroke-width="1"/>
<text x="513" y="448.5" font-size="9" fill="#111">5</text>
<line x1="496.2" y1="467.4" x2="498.6" y2="467.4" stroke="#000" stroke-width="1"/>
<line x1="507.3" y1="467.4" x2="509.7" y2="467.4" stroke="#000" stroke-width="1"/>
<text x="513" y="470.5" font-size="9" fill="#111">0</text>
<text x="468.7" y="501.6" font-size="9.2" fill="#111">log2FoldChange</text>
</svg></body></html>
